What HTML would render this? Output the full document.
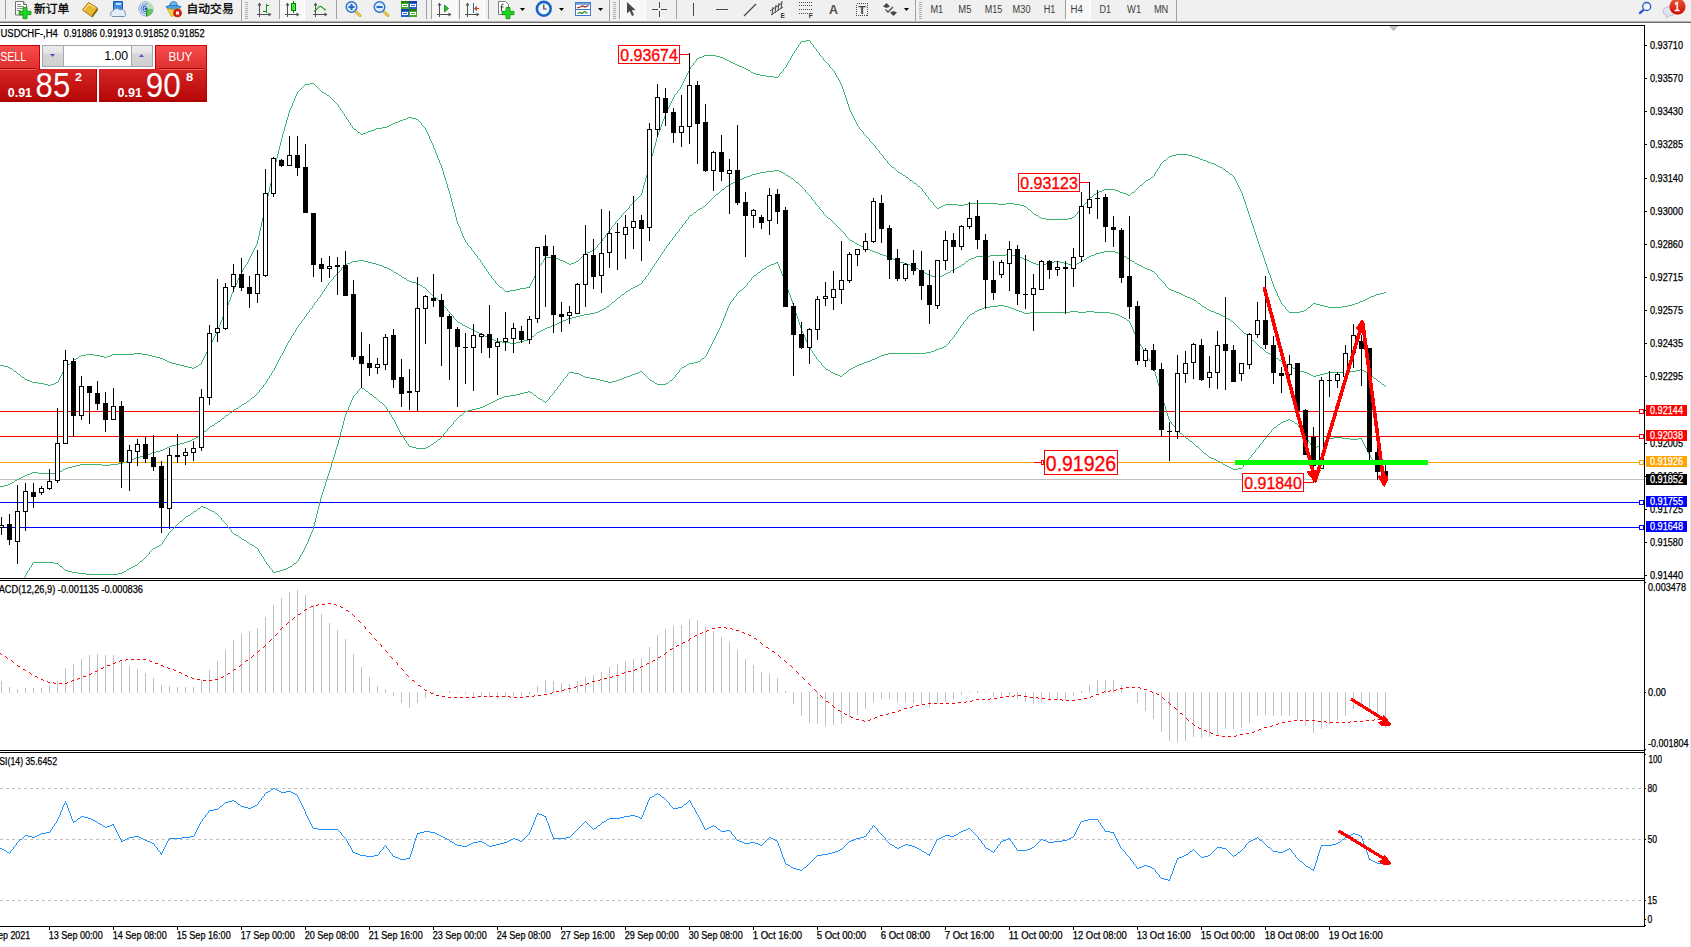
<!DOCTYPE html>
<html><head><meta charset="utf-8"><title>USDCHF H4</title>
<style>html,body{margin:0;padding:0;background:#fff;overflow:hidden}svg{display:block}</style></head><body>
<svg width="1691" height="947" viewBox="0 0 1691 947">
<defs>
<linearGradient id="gbtn" x1="0" y1="0" x2="0" y2="1"><stop offset="0" stop-color="#fa4e4e"/><stop offset="1" stop-color="#de2e2e"/></linearGradient>
<linearGradient id="gpan" x1="0" y1="0" x2="0" y2="1"><stop offset="0" stop-color="#d82626"/><stop offset="0.9" stop-color="#b80808"/><stop offset="1" stop-color="#a80000"/></linearGradient>
<linearGradient id="gspin" x1="0" y1="0" x2="0" y2="1"><stop offset="0" stop-color="#ececec"/><stop offset="0.35" stop-color="#e4e4e4"/><stop offset="0.4" stop-color="#d6d6d6"/><stop offset="1" stop-color="#d0d0d0"/></linearGradient>
<linearGradient id="gbadge" x1="0" y1="0" x2="0" y2="1"><stop offset="0" stop-color="#ea5838"/><stop offset="1" stop-color="#d00c00"/></linearGradient>
</defs>
<rect x="0" y="0" width="1691" height="947" fill="#fff"/>
<rect x="0" y="0" width="1691" height="21" fill="#f0f0f0"/>
<rect x="0" y="21" width="1691" height="1" fill="#b4b4b4"/>
<rect x="0" y="22" width="1691" height="1" fill="#6c6c6c"/>
<rect x="5" y="0" width="1" height="19" fill="#a0a0a0" shape-rendering="crispEdges"/>
<g>
<path d="M15.5,1.5 h8 l3,3 v10.5 h-11 z" fill="#fff" stroke="#707070" stroke-width="1"/>
<path d="M23.5,1.5 v3 h3" fill="#e0e0e0" stroke="#707070" stroke-width="1"/>
<g fill="#909090" shape-rendering="crispEdges"><rect x="17" y="4" width="4" height="1"/><rect x="17" y="6" width="7" height="1"/><rect x="17" y="8" width="7" height="1"/><rect x="17" y="10" width="4" height="1"/></g>
<path d="M23,7.5 h4 v3.8 h4 v3.4 h-4 v4 h-4 v-4 h-4 v-3.4 h4 z" fill="#22d422" stroke="#0c900c" stroke-width="0.8"/>
</g>
<text x="34" y="12.5" font-size="11.8" fill="#000" font-family="Liberation Sans, Noto Sans CJK SC, sans-serif" stroke="#000" stroke-width="0.3">新订单</text>
<path d="M82.5,10 L88.5,2.5 L97.5,8 L91.5,16.5 z" fill="#e8b830" stroke="#a87810" stroke-width="1"/>
<path d="M84,10.5 L89,4 L95,8" fill="none" stroke="#fff0a0" stroke-width="1"/>
<path d="M91.5,16.5 L97.5,8 L98,10 L92.5,17.5 z" fill="#8a5c08"/>
<path d="M113.5,1.5 h9 v9 h-9 z" fill="#3c8ce0" stroke="#1c5cb0" stroke-width="1"/>
<rect x="116" y="3" width="5" height="2" fill="#c8e4ff"/>
<path d="M112,16.5 a3,3 0 0 1 1,-5.5 a4,4 0 0 1 7,-1 a3.2,3.2 0 0 1 5,3 a2.2,2.2 0 0 1 -0.5,3.5 z" fill="#e4ecf8" stroke="#7890b8" stroke-width="1"/>
<circle cx="146" cy="8.8" r="7.6" fill="#e8f0f4"/>
<path d="M146,8.8 L146,16.4 A7.6,7.6 0 0 0 153.6,8.8 Z" fill="#6cc06c"/>
<path d="M146,1.2 A7.6,7.6 0 0 1 153.6,8.8 L146,8.8 Z" fill="#b8dcc0"/>
<g fill="none"><circle cx="146" cy="8.8" r="7.2" stroke="#8aa8e0" stroke-width="1" stroke-dasharray="23 23" stroke-dashoffset="-11"/><circle cx="146" cy="8.8" r="5" stroke="#5a84d4" stroke-width="1.1" stroke-dasharray="16 16" stroke-dashoffset="-8"/><circle cx="146" cy="8.8" r="2.9" stroke="#3a68c8" stroke-width="1.1" stroke-dasharray="9 9.2" stroke-dashoffset="-4.5"/></g>
<circle cx="146" cy="8.8" r="1.5" fill="#2050c0"/>
<rect x="146" y="9" width="1.3" height="7.4" fill="#18a018"/>
<path d="M166,6.5 q7,-3 15,0 q-1,3 -7.5,3.2 q-6.5,-0.2 -7.5,-3.2 z" fill="#4aa0e0" stroke="#2a70b8" stroke-width="0.8"/>
<path d="M169.5,5.5 q0.5,-4 4,-4 q3.5,0 4,4 z" fill="#6cb8f0" stroke="#2a70b8" stroke-width="0.8"/>
<path d="M167,8.5 q6,2 13,0 l-3.5,6 l-5,2 z" fill="#f4d040" stroke="#c8a020" stroke-width="0.8"/>
<circle cx="177.5" cy="13" r="4" fill="#e02010" stroke="#a01000" stroke-width="0.6"/>
<rect x="176" y="11.5" width="3" height="3" fill="#fff"/>
<text x="186.5" y="12.5" font-size="11.8" fill="#000" font-family="Liberation Sans, Noto Sans CJK SC, sans-serif" stroke="#000" stroke-width="0.3">自动交易</text>
<rect x="241" y="0" width="1" height="21" fill="#a0a0a0" shape-rendering="crispEdges"/>
<g shape-rendering="crispEdges">
<rect x="245" y="2" width="3" height="1" fill="#b0b0b0"/>
<rect x="245" y="4" width="3" height="1" fill="#b0b0b0"/>
<rect x="245" y="6" width="3" height="1" fill="#b0b0b0"/>
<rect x="245" y="8" width="3" height="1" fill="#b0b0b0"/>
<rect x="245" y="10" width="3" height="1" fill="#b0b0b0"/>
<rect x="245" y="12" width="3" height="1" fill="#b0b0b0"/>
<rect x="245" y="14" width="3" height="1" fill="#b0b0b0"/>
<rect x="245" y="16" width="3" height="1" fill="#b0b0b0"/>
<rect x="245" y="18" width="3" height="1" fill="#b0b0b0"/>
</g>
<g fill="#505050" shape-rendering="crispEdges">
<rect x="259" y="4" width="1" height="13" fill="#505050"/>
<rect x="257" y="14" width="13" height="1" fill="#505050"/>
</g>
<polygon points="259.5,2.5 257.5,5.5 261.5,5.5" fill="#505050"/>
<polygon points="271.5,14.5 268.5,12.5 268.5,16.5" fill="#505050"/>
<g shape-rendering="crispEdges" fill="#109010"><rect x="266" y="4" width="1" height="9"/><rect x="263" y="11" width="3" height="1"/><rect x="267" y="5" width="2" height="1"/></g>
<rect x="279" y="0" width="1" height="19" fill="#a0a0a0" shape-rendering="crispEdges"/>
<rect x="280" y="0" width="24" height="19" fill="#f8f8f8" shape-rendering="crispEdges"/>
<rect x="304" y="0" width="1" height="20" fill="#fff" shape-rendering="crispEdges"/>
<rect x="280" y="19" width="24" height="1" fill="#fff" shape-rendering="crispEdges"/>
<g fill="#505050" shape-rendering="crispEdges">
<rect x="287" y="4" width="1" height="13" fill="#505050"/>
<rect x="285" y="14" width="13" height="1" fill="#505050"/>
</g>
<polygon points="287.5,2.5 285.5,5.5 289.5,5.5" fill="#505050"/>
<polygon points="299.5,14.5 296.5,12.5 296.5,16.5" fill="#505050"/>
<rect x="293" y="1" width="1" height="12" fill="#008800" shape-rendering="crispEdges"/>
<rect x="291.5" y="3.5" width="4" height="7" fill="#48e048" stroke="#008800" stroke-width="1"/>
<g fill="#505050" shape-rendering="crispEdges">
<rect x="315" y="4" width="1" height="13" fill="#505050"/>
<rect x="313" y="14" width="13" height="1" fill="#505050"/>
</g>
<polygon points="315.5,2.5 313.5,5.5 317.5,5.5" fill="#505050"/>
<polygon points="327.5,14.5 324.5,12.5 324.5,16.5" fill="#505050"/>
<path d="M314,11.5 Q317,9 319,6.8 Q320.5,5.8 322,7.2 Q324,9.6 326,10" fill="none" stroke="#2a982a" stroke-width="1.2"/>
<rect x="336" y="0" width="1" height="19" fill="#a0a0a0" shape-rendering="crispEdges"/>
<line x1="354.5" y1="10.5" x2="360" y2="15.5" stroke="#c8a020" stroke-width="3" stroke-linecap="round"/>
<line x1="354.5" y1="10.5" x2="360" y2="15.5" stroke="#f0d860" stroke-width="1.2" stroke-linecap="round"/>
<circle cx="351.5" cy="7" r="5.3" fill="#d8ecfc" stroke="#3070c8" stroke-width="1.4"/>
<rect x="348.5" y="6" width="6" height="2" fill="#2868c0"/>
<rect x="350.5" y="4" width="2" height="6" fill="#2868c0"/>
<line x1="382.5" y1="10.5" x2="388" y2="15.5" stroke="#c8a020" stroke-width="3" stroke-linecap="round"/>
<line x1="382.5" y1="10.5" x2="388" y2="15.5" stroke="#f0d860" stroke-width="1.2" stroke-linecap="round"/>
<circle cx="379.5" cy="7" r="5.3" fill="#d8ecfc" stroke="#3070c8" stroke-width="1.4"/>
<rect x="376.5" y="6" width="6" height="2" fill="#2868c0"/>
<g shape-rendering="crispEdges">
<rect x="401" y="1" width="8" height="8" fill="#48a828"/>
<rect x="401" y="1" width="8" height="2" fill="#2a7a10"/>
<rect x="402" y="4" width="6" height="3" fill="#fff"/>
<rect x="402" y="7" width="6" height="1" fill="#48a828"/>
<rect x="403" y="5" width="4" height="1" fill="#48a828"/>
<rect x="409" y="1" width="8" height="8" fill="#2860d0"/>
<rect x="409" y="1" width="8" height="2" fill="#1840a0"/>
<rect x="410" y="4" width="6" height="3" fill="#fff"/>
<rect x="410" y="7" width="6" height="1" fill="#2860d0"/>
<rect x="411" y="5" width="4" height="1" fill="#2860d0"/>
<rect x="401" y="9" width="8" height="8" fill="#2860d0"/>
<rect x="401" y="9" width="8" height="2" fill="#1840a0"/>
<rect x="402" y="12" width="6" height="3" fill="#fff"/>
<rect x="402" y="15" width="6" height="1" fill="#2860d0"/>
<rect x="403" y="13" width="4" height="1" fill="#2860d0"/>
<rect x="409" y="9" width="8" height="8" fill="#48a828"/>
<rect x="409" y="9" width="8" height="2" fill="#2a7a10"/>
<rect x="410" y="12" width="6" height="3" fill="#fff"/>
<rect x="410" y="15" width="6" height="1" fill="#48a828"/>
<rect x="411" y="13" width="4" height="1" fill="#48a828"/>
</g>
<rect x="426" y="0" width="1" height="19" fill="#a0a0a0" shape-rendering="crispEdges"/>
<rect x="431" y="0" width="1" height="19" fill="#a0a0a0" shape-rendering="crispEdges"/>
<rect x="432" y="0" width="24" height="19" fill="#f8f8f8" shape-rendering="crispEdges"/>
<rect x="456" y="0" width="1" height="20" fill="#fff" shape-rendering="crispEdges"/>
<rect x="432" y="19" width="24" height="1" fill="#fff" shape-rendering="crispEdges"/>
<g fill="#505050" shape-rendering="crispEdges">
<rect x="439" y="4" width="1" height="13" fill="#505050"/>
<rect x="437" y="14" width="13" height="1" fill="#505050"/>
</g>
<polygon points="439.5,2.5 437.5,5.5 441.5,5.5" fill="#505050"/>
<polygon points="451.5,14.5 448.5,12.5 448.5,16.5" fill="#505050"/>
<polygon points="444.5,5 444.5,12 448.5,8.5" fill="#30c030" stroke="#108010" stroke-width="0.8"/>
<rect x="459" y="0" width="1" height="19" fill="#a0a0a0" shape-rendering="crispEdges"/>
<rect x="460" y="0" width="24" height="19" fill="#f8f8f8" shape-rendering="crispEdges"/>
<rect x="484" y="0" width="1" height="20" fill="#fff" shape-rendering="crispEdges"/>
<rect x="460" y="19" width="24" height="1" fill="#fff" shape-rendering="crispEdges"/>
<g fill="#505050" shape-rendering="crispEdges">
<rect x="467" y="4" width="1" height="13" fill="#505050"/>
<rect x="465" y="14" width="13" height="1" fill="#505050"/>
</g>
<polygon points="467.5,2.5 465.5,5.5 469.5,5.5" fill="#505050"/>
<polygon points="479.5,14.5 476.5,12.5 476.5,16.5" fill="#505050"/>
<rect x="473" y="3" width="1" height="10" fill="#2070a0" shape-rendering="crispEdges"/>
<path d="M479,8.5 h-4 M477,6.5 l-2.2,2 l2.2,2" fill="none" stroke="#d04010" stroke-width="1.2"/>
<rect x="488" y="0" width="1" height="19" fill="#a0a0a0" shape-rendering="crispEdges"/>
<path d="M498.5,1.5 h7 l3,3 v10 h-10 z" fill="#fff" stroke="#808080" stroke-width="1"/>
<path d="M503.5,4 q-2,0 -2,2 v5 M500.5,7 h3" fill="none" stroke="#404040" stroke-width="1"/>
<path d="M506,7.5 h4 v3.8 h4 v3.4 h-4 v4 h-4 v-4 h-4 v-3.4 h4 z" fill="#22d422" stroke="#0c900c" stroke-width="0.8"/>
<polygon points="520,8 525,8 522.5,11" fill="#000"/>
<circle cx="543.8" cy="8.8" r="6.9" fill="#f0f6fc" stroke="#1c64c8" stroke-width="2.6"/>
<path d="M543.8,4.5 v4.5 h3" fill="none" stroke="#404040" stroke-width="1.2"/>
<polygon points="559,8 564,8 561.5,11" fill="#000"/>
<rect x="575.5" y="2.5" width="15" height="13" fill="#fff" stroke="#3c78c8" stroke-width="1"/>
<rect x="576" y="3" width="14" height="2" fill="#7aa8e0" shape-rendering="crispEdges"/>
<rect x="576" y="9" width="14" height="1" fill="#3c78c8" shape-rendering="crispEdges"/>
<path d="M577,8 l3,-1 l2.5,-1 l2.5,1 l3.5,-1.5" fill="none" stroke="#a02010" stroke-width="1.3"/>
<path d="M577.5,13.5 l2.5,-1 l2,1 l2.5,-2 l3,2" fill="none" stroke="#209020" stroke-width="1.3"/>
<polygon points="598,8 603,8 600.5,11" fill="#000"/>
<rect x="609" y="0" width="1" height="21" fill="#a0a0a0" shape-rendering="crispEdges"/>
<g shape-rendering="crispEdges">
<rect x="613" y="2" width="3" height="1" fill="#b0b0b0"/>
<rect x="613" y="4" width="3" height="1" fill="#b0b0b0"/>
<rect x="613" y="6" width="3" height="1" fill="#b0b0b0"/>
<rect x="613" y="8" width="3" height="1" fill="#b0b0b0"/>
<rect x="613" y="10" width="3" height="1" fill="#b0b0b0"/>
<rect x="613" y="12" width="3" height="1" fill="#b0b0b0"/>
<rect x="613" y="14" width="3" height="1" fill="#b0b0b0"/>
<rect x="613" y="16" width="3" height="1" fill="#b0b0b0"/>
<rect x="613" y="18" width="3" height="1" fill="#b0b0b0"/>
</g>
<rect x="619" y="0" width="1" height="19" fill="#a0a0a0" shape-rendering="crispEdges"/>
<rect x="620" y="0" width="25" height="19" fill="#f8f8f8" shape-rendering="crispEdges"/>
<rect x="645" y="0" width="1" height="20" fill="#fff" shape-rendering="crispEdges"/>
<rect x="620" y="19" width="25" height="1" fill="#fff" shape-rendering="crispEdges"/>
<path d="M627,2 L627,13.5 L629.8,11 L632,16 L634,15 L631.8,10.2 L635.5,10 z" fill="#484848"/>
<g shape-rendering="crispEdges" fill="#484848"><rect x="659" y="2" width="1" height="6"/><rect x="659" y="11" width="1" height="6"/><rect x="652" y="9" width="6" height="1"/><rect x="661" y="9" width="6" height="1"/></g>
<rect x="676" y="0" width="1" height="19" fill="#a0a0a0" shape-rendering="crispEdges"/>
<rect x="693" y="3" width="1" height="13" fill="#484848" shape-rendering="crispEdges"/>
<rect x="716" y="9" width="12" height="1" fill="#484848" shape-rendering="crispEdges"/>
<line x1="744" y1="16" x2="756" y2="4" stroke="#484848" stroke-width="1.2"/>
<g stroke="#484848" stroke-width="1" fill="none"><line x1="770" y1="11" x2="782" y2="3"/><line x1="771" y1="15" x2="783" y2="7"/><line x1="773" y1="7" x2="772" y2="15"/><line x1="776" y1="5" x2="775" y2="13"/><line x1="779" y1="3" x2="778" y2="11"/><line x1="782" y1="1" x2="781" y2="9"/></g>
<text x="780.5" y="17.5" font-size="6.5" fill="#303030" font-family="Liberation Sans, sans-serif" font-weight="bold">E</text>
<g stroke="#484848" stroke-width="1" stroke-dasharray="1 1" shape-rendering="crispEdges"><line x1="799" y1="2.5" x2="812" y2="2.5"/><line x1="799" y1="5.5" x2="812" y2="5.5"/><line x1="799" y1="9.5" x2="812" y2="9.5"/><line x1="799" y1="13.5" x2="808" y2="13.5"/></g>
<text x="808.8" y="17.8" font-size="6.5" fill="#303030" font-family="Liberation Sans, sans-serif" font-weight="bold">F</text>
<text x="829" y="14" font-size="13" fill="#505050" font-family="Liberation Sans, sans-serif" textLength="9" lengthAdjust="spacingAndGlyphs" font-weight="bold">A</text>
<rect x="856.5" y="3.5" width="11" height="12" fill="none" stroke="#484848" stroke-width="1" stroke-dasharray="1 1" shape-rendering="crispEdges"/>
<text x="858.2" y="13.6" font-size="11" fill="#484848" font-family="Liberation Sans, sans-serif" textLength="7.6" lengthAdjust="spacingAndGlyphs" font-weight="bold">T</text>
<polygon points="886.5,3 890,6.5 886.5,8 883,6.5" fill="#484848"/>
<polygon points="893.5,16 897,12.5 893.5,11 890,12.5" fill="#484848"/>
<path d="M885.5,9.5 l2.5,2.5 l5,-5" fill="none" stroke="#484848" stroke-width="1.3"/>
<polygon points="904,8 909,8 906.5,11" fill="#000"/>
<rect x="915" y="0" width="1" height="21" fill="#a0a0a0" shape-rendering="crispEdges"/>
<g shape-rendering="crispEdges">
<rect x="919" y="2" width="3" height="1" fill="#b0b0b0"/>
<rect x="919" y="4" width="3" height="1" fill="#b0b0b0"/>
<rect x="919" y="6" width="3" height="1" fill="#b0b0b0"/>
<rect x="919" y="8" width="3" height="1" fill="#b0b0b0"/>
<rect x="919" y="10" width="3" height="1" fill="#b0b0b0"/>
<rect x="919" y="12" width="3" height="1" fill="#b0b0b0"/>
<rect x="919" y="14" width="3" height="1" fill="#b0b0b0"/>
<rect x="919" y="16" width="3" height="1" fill="#b0b0b0"/>
<rect x="919" y="18" width="3" height="1" fill="#b0b0b0"/>
</g>
<rect x="1065" y="0" width="1" height="19" fill="#a0a0a0" shape-rendering="crispEdges"/>
<rect x="1066" y="0" width="24" height="19" fill="#f8f8f8" shape-rendering="crispEdges"/>
<rect x="1090" y="0" width="1" height="20" fill="#fff" shape-rendering="crispEdges"/>
<rect x="1066" y="19" width="24" height="1" fill="#fff" shape-rendering="crispEdges"/>
<text x="930.4" y="13" font-size="10" fill="#3c3c3c" font-family="Liberation Sans, sans-serif" textLength="12.8" lengthAdjust="spacingAndGlyphs">M1</text>
<text x="958.3" y="13" font-size="10" fill="#3c3c3c" font-family="Liberation Sans, sans-serif" textLength="13.1" lengthAdjust="spacingAndGlyphs">M5</text>
<text x="984.7" y="13" font-size="10" fill="#3c3c3c" font-family="Liberation Sans, sans-serif" textLength="17.5" lengthAdjust="spacingAndGlyphs">M15</text>
<text x="1012.6" y="13" font-size="10" fill="#3c3c3c" font-family="Liberation Sans, sans-serif" textLength="17.9" lengthAdjust="spacingAndGlyphs">M30</text>
<text x="1043.7" y="13" font-size="10" fill="#3c3c3c" font-family="Liberation Sans, sans-serif" textLength="11.7" lengthAdjust="spacingAndGlyphs">H1</text>
<text x="1070.6" y="13" font-size="10" fill="#3c3c3c" font-family="Liberation Sans, sans-serif" textLength="12.3" lengthAdjust="spacingAndGlyphs">H4</text>
<text x="1099.6" y="13" font-size="10" fill="#3c3c3c" font-family="Liberation Sans, sans-serif" textLength="11.5" lengthAdjust="spacingAndGlyphs">D1</text>
<text x="1127.1" y="13" font-size="10" fill="#3c3c3c" font-family="Liberation Sans, sans-serif" textLength="14" lengthAdjust="spacingAndGlyphs">W1</text>
<text x="1153.9" y="13" font-size="10" fill="#3c3c3c" font-family="Liberation Sans, sans-serif" textLength="14.4" lengthAdjust="spacingAndGlyphs">MN</text>
<rect x="1176" y="0" width="1" height="21" fill="#a0a0a0" shape-rendering="crispEdges"/>
<circle cx="1646.7" cy="6.5" r="4" fill="#f4f6ff" stroke="#2858c8" stroke-width="1.3"/>
<line x1="1643.6" y1="9.8" x2="1639.2" y2="13.6" stroke="#2858c8" stroke-width="2.2"/>
<path d="M1663,11.3 a6.2,4.6 0 1 1 6,4.6 l-2.6,2.2 l0.4,-2.6 a6,4.6 0 0 1 -3.8,-4.2 z" fill="#e0e4f0" stroke="#b0b4c0" stroke-width="0.8"/>
<circle cx="1677.5" cy="6.6" r="8.1" fill="url(#gbadge)"/>
<text x="1674.3" y="11.3" font-size="12.5" fill="#fff" font-family="Liberation Sans, sans-serif" textLength="5.6" lengthAdjust="spacingAndGlyphs" stroke="#fff" stroke-width="0.5">1</text>
<g shape-rendering="crispEdges">
<rect x="0" y="69" width="97" height="33" fill="url(#gpan)"/>
<rect x="99" y="69" width="108" height="33" fill="url(#gpan)"/>
<rect x="96" y="69" width="1" height="33" fill="#b00000"/>
<rect x="206" y="69" width="1" height="33" fill="#b00000"/>
<rect x="0" y="45" width="40" height="24" fill="url(#gbtn)"/>
<rect x="0" y="45" width="40" height="1" fill="#c40000"/>
<rect x="39" y="45" width="1" height="25" fill="#c40000"/>
<rect x="0" y="68" width="36" height="1" fill="#b00000"/>
<rect x="0" y="69" width="36" height="1" fill="#ee5c5c"/>
<rect x="155" y="45" width="52" height="24" fill="url(#gbtn)"/>
<rect x="155" y="45" width="52" height="1" fill="#c40000"/>
<rect x="155" y="45" width="1" height="25" fill="#c40000"/>
<rect x="206" y="45" width="1" height="25" fill="#c40000"/>
<rect x="159" y="68" width="44" height="1" fill="#b00000"/>
<rect x="159" y="69" width="44" height="1" fill="#ee5c5c"/>
<rect x="42" y="45" width="111" height="22" fill="#a4a8b4"/>
<rect x="43" y="46" width="109" height="20" fill="#fff"/>
<rect x="43" y="46" width="20" height="20" fill="url(#gspin)"/>
<rect x="63" y="46" width="1" height="20" fill="#a4a8b4"/>
<rect x="132" y="46" width="20" height="20" fill="url(#gspin)"/>
<rect x="131" y="46" width="1" height="20" fill="#a4a8b4"/>
</g>
<polygon points="50,54 55,54 52.5,57" fill="#4858c8"/>
<polygon points="139,57 144,57 141.5,54" fill="#4858c8"/>
<polygon points="12.6,48.2 13.9,49.5 12.6,50.8 11.3,49.5" fill="none" stroke="#20a0a0" stroke-width="0.6"/>
<text x="0.2" y="60.6" font-size="12.2" fill="#fff" font-family="Liberation Sans, sans-serif" textLength="26" lengthAdjust="spacingAndGlyphs">SELL</text>
<text x="168.4" y="60.9" font-size="12.2" fill="#fff" font-family="Liberation Sans, sans-serif" textLength="24" lengthAdjust="spacingAndGlyphs">BUY</text>
<text x="104.2" y="60.2" font-size="12.4" fill="#000" font-family="Liberation Sans, sans-serif" textLength="24" lengthAdjust="spacingAndGlyphs">1.00</text>
<text x="7.8" y="97" font-size="12.6" fill="#fff" font-family="Liberation Sans, sans-serif" textLength="24.2" lengthAdjust="spacingAndGlyphs" font-weight="bold">0.91</text>
<text x="35.6" y="97" font-size="34.5" fill="#fff" font-family="Liberation Sans, sans-serif" textLength="34.6" lengthAdjust="spacingAndGlyphs">85</text>
<text x="74.9" y="80.8" font-size="11.4" fill="#fff" font-family="Liberation Sans, sans-serif" textLength="7" lengthAdjust="spacingAndGlyphs" font-weight="bold">2</text>
<text x="117.6" y="97.1" font-size="12.6" fill="#fff" font-family="Liberation Sans, sans-serif" textLength="24.5" lengthAdjust="spacingAndGlyphs" font-weight="bold">0.91</text>
<text x="145.8" y="97.1" font-size="34.5" fill="#fff" font-family="Liberation Sans, sans-serif" textLength="35" lengthAdjust="spacingAndGlyphs">90</text>
<text x="185.9" y="80.8" font-size="11.4" fill="#fff" font-family="Liberation Sans, sans-serif" textLength="7.2" lengthAdjust="spacingAndGlyphs" font-weight="bold">8</text>
<g shape-rendering="crispEdges">
<rect x="0" y="25" width="1645" height="1" fill="#000"/>
<rect x="1644" y="25" width="1" height="902" fill="#000"/>
<rect x="0" y="578" width="1645" height="1" fill="#000"/>
<rect x="0" y="580" width="1645" height="1" fill="#000"/>
<rect x="0" y="750" width="1645" height="1" fill="#000"/>
<rect x="0" y="752" width="1645" height="1" fill="#000"/>
<rect x="0" y="926" width="1645" height="1" fill="#000"/>
<rect x="1690" y="23" width="1" height="924" fill="#e4e4e4"/>
</g>
<polygon points="1388.8,26 1398.2,26 1393.5,31.2" fill="#c0c0c0"/>
<g shape-rendering="crispEdges">
<rect x="0" y="411" width="1644" height="1" fill="#ff0000"/>
<rect x="0" y="436" width="1644" height="1" fill="#ff0000"/>
<rect x="0" y="462" width="1644" height="1" fill="#ffa500"/>
<rect x="0" y="479" width="1644" height="1" fill="#c0c0c0"/>
<rect x="0" y="502" width="1644" height="1" fill="#0000ff"/>
<rect x="0" y="527" width="1644" height="1" fill="#0000ff"/>
</g>
<path fill="#3cb371" shape-rendering="crispEdges" d="M1172 155h4v1h-4zM1188 155h4v1h-4zM368 131h3v1h-3zM1304 310h2v1h-2zM86 354h8v1h-8zM112 354h22v1h-22zM142 354h6v1h-6zM968 203h30v1h-30zM1006 203h8v1h-8zM376 128h6v1h-6zM1214 164h2v1h-2zM354 129h2v1h-2zM374 129h2v1h-2zM545 257h10v1h-10zM1223 169h2v1h-2zM1206 161h2v1h-2zM945 204h13v1h-13zM964 204h4v1h-4zM998 204h8v1h-8zM1014 204h6v1h-6zM1308 307h2v1h-2zM1328 307h14v1h-14zM1367 298h2v1h-2zM801 41h5v1h-5zM1104 189h11v1h-11zM382 127h5v1h-5zM910 180h2v1h-2zM1146 180h2v1h-2zM1176 154h12v1h-12zM1128 195h2v1h-2zM1218 166h2v1h-2zM510 290h6v1h-6zM403 119h3v1h-3zM416 119h2v1h-2zM565 262h2v1h-2zM574 262h2v1h-2zM702 56h2v1h-2zM716 56h4v1h-4zM387 126h2v1h-2zM1097 192h2v1h-2zM1120 192h3v1h-3zM1132 192h2v1h-2zM585 253h2v1h-2zM760 75h6v1h-6zM1371 296h3v1h-3zM8 367h2v1h-2zM188 367h4v1h-4zM194 367h2v1h-2zM943 205h2v1h-2zM958 205h6v1h-6zM1020 205h4v1h-4zM733 63h2v1h-2zM68 364h2v1h-2zM176 364h4v1h-4zM199 364h2v1h-2zM699 57h3v1h-3zM720 57h3v1h-3zM322 92h2v1h-2zM1036 215h2v1h-2zM592 250h2v1h-2zM766 76h8v1h-8zM310 83h4v1h-4zM906 177h2v1h-2zM1151 177h2v1h-2zM371 130h3v1h-3zM587 252h3v1h-3zM903 175h2v1h-2zM81 355h5v1h-5zM94 355h6v1h-6zM110 355h2v1h-2zM148 355h4v1h-4zM1324 306h4v1h-4zM1342 306h6v1h-6zM704 55h12v1h-12zM1041 218h5v1h-5zM1068 218h4v1h-4zM10 368h2v1h-2zM192 368h2v1h-2zM408 117h4v1h-4zM737 65h2v1h-2zM389 125h2v1h-2zM744 68h2v1h-2zM358 132h2v1h-2zM366 132h2v1h-2zM898 172h2v1h-2zM1140 185h2v1h-2zM560 260h3v1h-3zM729 61h2v1h-2zM567 263h2v1h-2zM571 263h3v1h-3zM900 173h2v1h-2zM939 207h2v1h-2zM169 362h3v1h-3zM1376 294h4v1h-4zM1226 171h2v1h-2zM1216 165h2v1h-2zM1099 191h3v1h-3zM1118 191h2v1h-2zM1380 293h4v1h-4zM14 371h2v1h-2zM1384 292h2v1h-2zM1211 163h3v1h-3zM1208 162h3v1h-3zM1164 160h2v1h-2zM1203 160h3v1h-3zM756 74h4v1h-4zM914 183h2v1h-2zM172 363h4v1h-4zM569 264h2v1h-2zM563 261h2v1h-2zM576 261h2v1h-2zM941 206h2v1h-2zM1024 206h2v1h-2zM393 123h2v1h-2zM1123 193h3v1h-3zM555 258h3v1h-3zM327 95h2v1h-2zM1169 156h3v1h-3zM1192 156h3v1h-3zM1094 194h2v1h-2zM1126 194h2v1h-2zM1046 219h22v1h-22zM742 67h2v1h-2zM363 133h3v1h-3zM361 134h2v1h-2zM1230 174h2v1h-2zM406 118h2v1h-2zM412 118h4v1h-4zM500 287h2v1h-2zM526 287h4v1h-4zM1034 214h2v1h-2zM731 62h2v1h-2zM937 208h2v1h-2zM134 353h8v1h-8zM76 358h2v1h-2zM160 358h3v1h-3zM1090 197h2v1h-2zM1313 303h3v1h-3zM1355 303h3v1h-3zM400 120h3v1h-3zM748 70h2v1h-2zM324 93h2v1h-2zM165 360h2v1h-2zM4 366h4v1h-4zM184 366h4v1h-4zM196 366h2v1h-2zM774 77h4v1h-4zM1039 217h2v1h-2zM1072 217h2v1h-2zM391 124h2v1h-2zM1320 305h4v1h-4zM1348 305h4v1h-4zM1289 312h11v1h-11zM74 359h2v1h-2zM163 359h2v1h-2zM697 58h2v1h-2zM723 58h2v1h-2zM167 361h2v1h-2zM892 167h2v1h-2zM1220 167h2v1h-2zM1300 311h4v1h-4zM558 259h2v1h-2zM1102 190h2v1h-2zM1115 190h3v1h-3zM25 379h2v1h-2zM735 64h2v1h-2zM516 289h4v1h-4zM38 383h6v1h-6zM54 383h2v1h-2zM505 291h5v1h-5zM32 382h6v1h-6zM56 382h2v1h-2zM1198 158h2v1h-2zM1374 295h2v1h-2zM395 122h3v1h-3zM520 288h6v1h-6zM398 121h2v1h-2zM104 357h3v1h-3zM156 357h4v1h-4zM1195 157h3v1h-3zM918 186h2v1h-2zM746 69h2v1h-2zM727 60h2v1h-2zM30 381h2v1h-2zM725 59h2v1h-2zM1028 209h2v1h-2zM1358 302h2v1h-2zM1316 304h4v1h-4zM1352 304h3v1h-3zM48 385h3v1h-3zM806 40h4v1h-4zM18 374h2v1h-2zM305 84h5v1h-5zM1365 299h2v1h-2zM1360 301h3v1h-3zM79 356h2v1h-2zM100 356h4v1h-4zM107 356h3v1h-3zM152 356h4v1h-4zM1148 179h2v1h-2zM1200 159h3v1h-3zM22 377h2v1h-2zM753 73h3v1h-3zM590 251h2v1h-2zM44 384h4v1h-4zM51 384h3v1h-3zM739 66h3v1h-3zM27 380h3v1h-3zM1363 300h2v1h-2zM0 365h4v1h-4zM180 365h4v1h-4zM1369 297h2v1h-2zM751 72h2v1h-2zM335 102h1v1h-1zM694 62h1v1h-1zM478 258h1v1h-1zM881 154h1v1h-1zM1262 252h1v3h-1zM440 163h1v2h-1zM1027 208h1v1h-1zM450 194h1v4h-1zM422 125h1v1h-1zM673 97h1v2h-1zM223 315h1v2h-1zM862 131h1v1h-1zM1255 232h1v3h-1zM689 69h1v2h-1zM263 213h1v5h-1zM479 259h1v1h-1zM273 170h1v5h-1zM617 220h1v1h-1zM1248 211h1v3h-1zM784 68h1v1h-1zM1276 291h1v2h-1zM239 276h1v2h-1zM426 130h1v2h-1zM863 132h1v2h-1zM1237 183h1v2h-1zM267 196h1v4h-1zM493 279h1v1h-1zM819 53h1v2h-1zM666 111h1v2h-1zM353 128h1v1h-1zM644 182h1v3h-1zM1258 241h1v3h-1zM436 153h1v2h-1zM869 139h1v2h-1zM290 108h1v2h-1zM1222 168h1v1h-1zM281 138h1v4h-1zM61 374h1v2h-1zM444 175h1v3h-1zM928 197h1v2h-1zM1251 220h1v3h-1zM210 344h1v2h-1zM272 175h1v4h-1zM581 257h1v1h-1zM648 167h1v4h-1zM222 317h1v3h-1zM457 221h1v3h-1zM231 294h1v3h-1zM830 67h1v1h-1zM1244 199h1v3h-1zM1272 281h1v3h-1zM841 84h1v2h-1zM259 231h1v5h-1zM531 282h1v2h-1zM320 90h1v1h-1zM65 367h1v1h-1zM653 149h1v4h-1zM665 113h1v3h-1zM597 245h1v2h-1zM847 101h1v3h-1zM276 158h1v4h-1zM214 336h1v2h-1zM289 110h1v3h-1zM464 238h1v2h-1zM321 91h1v1h-1zM632 203h1v1h-1zM254 248h1v2h-1zM428 134h1v2h-1zM1268 270h1v3h-1zM482 263h1v2h-1zM234 287h1v2h-1zM264 209h1v4h-1zM198 365h1v1h-1zM797 47h1v1h-1zM284 127h1v4h-1zM800 42h1v2h-1zM421 123h1v2h-1zM258 236h1v4h-1zM429 136h1v3h-1zM1153 176h1v1h-1zM1138 187h1v1h-1zM288 113h1v4h-1zM247 262h1v2h-1zM297 92h1v2h-1zM12 369h1v1h-1zM486 269h1v2h-1zM300 89h1v1h-1zM851 112h1v2h-1zM205 354h1v2h-1zM217 329h1v3h-1zM891 166h1v1h-1zM823 58h1v2h-1zM605 235h1v2h-1zM608 231h1v2h-1zM1142 184h1v1h-1zM543 260h1v2h-1zM443 171h1v4h-1zM352 126h1v2h-1zM1080 209h1v1h-1zM656 138h1v4h-1zM435 150h1v3h-1zM535 274h1v2h-1zM1157 169h1v2h-1zM280 142h1v4h-1zM672 99h1v2h-1zM848 104h1v3h-1zM635 200h1v1h-1zM829 65h1v2h-1zM600 242h1v1h-1zM603 238h1v1h-1zM1233 176h1v1h-1zM1271 278h1v3h-1zM60 376h1v2h-1zM1075 215h1v1h-1zM201 362h1v2h-1zM467 243h1v2h-1zM1264 258h1v3h-1zM271 179h1v4h-1zM442 168h1v3h-1zM791 56h1v2h-1zM873 144h1v1h-1zM262 218h1v4h-1zM661 124h1v3h-1zM811 43h1v1h-1zM652 153h1v3h-1zM783 69h1v2h-1zM1088 199h1v1h-1zM883 156h1v2h-1zM1254 229h1v3h-1zM471 248h1v2h-1zM241 272h1v2h-1zM1278 296h1v2h-1zM279 146h1v4h-1zM1286 309h1v1h-1zM668 107h1v2h-1zM481 262h1v1h-1zM1247 208h1v3h-1zM884 158h1v1h-1zM1275 289h1v2h-1zM1092 196h1v1h-1zM1038 216h1v1h-1zM425 128h1v2h-1zM230 297h1v3h-1zM292 103h1v3h-1zM1240 189h1v2h-1zM611 227h1v2h-1zM1083 205h1v2h-1zM821 56h1v1h-1zM890 165h1v1h-1zM787 63h1v2h-1zM627 209h1v1h-1zM338 105h1v2h-1zM850 110h1v2h-1zM449 191h1v3h-1zM1236 181h1v2h-1zM651 156h1v4h-1zM822 57h1v1h-1zM496 283h1v1h-1zM530 284h1v2h-1zM843 89h1v3h-1zM624 212h1v1h-1zM456 217h1v4h-1zM64 368h1v2h-1zM212 340h1v2h-1zM872 143h1v1h-1zM275 162h1v4h-1zM1136 189h1v1h-1zM452 202h1v4h-1zM688 71h1v2h-1zM905 176h1v1h-1zM253 250h1v2h-1zM932 202h1v1h-1zM836 75h1v2h-1zM619 218h1v1h-1zM643 185h1v4h-1zM840 82h1v2h-1zM1160 164h1v2h-1zM1250 217h1v3h-1zM810 41h1v2h-1zM463 236h1v2h-1zM209 346h1v2h-1zM446 181h1v3h-1zM647 171h1v4h-1zM681 85h1v2h-1zM1243 196h1v3h-1zM270 183h1v4h-1zM221 320h1v2h-1zM296 94h1v2h-1zM439 160h1v3h-1zM639 196h1v1h-1zM920 187h1v1h-1zM864 134h1v1h-1zM664 116h1v3h-1zM460 228h1v3h-1zM424 127h1v1h-1zM844 92h1v3h-1zM1156 171h1v1h-1zM1239 187h1v2h-1zM865 135h1v1h-1zM1267 267h1v3h-1zM314 84h1v1h-1zM655 142h1v4h-1zM646 175h1v3h-1zM485 268h1v1h-1zM220 322h1v3h-1zM266 200h1v4h-1zM1232 175h1v1h-1zM580 258h1v1h-1zM304 85h1v1h-1zM315 85h1v1h-1zM930 200h1v1h-1zM495 281h1v2h-1zM233 289h1v3h-1zM536 272h1v2h-1zM696 59h1v2h-1zM931 201h1v1h-1zM274 166h1v4h-1zM1087 200h1v2h-1zM213 338h1v2h-1zM469 246h1v1h-1zM287 117h1v3h-1zM832 69h1v1h-1zM330 97h1v1h-1zM667 109h1v2h-1zM261 222h1v5h-1zM1307 308h1v1h-1zM204 356h1v2h-1zM229 300h1v2h-1zM622 214h1v1h-1zM238 278h1v2h-1zM642 189h1v4h-1zM462 233h1v3h-1zM265 204h1v5h-1zM470 247h1v1h-1zM691 66h1v1h-1zM1277 293h1v3h-1zM1285 307h1v2h-1zM897 171h1v1h-1zM916 184h1v1h-1zM502 288h1v1h-1zM455 213h1v4h-1zM846 98h1v3h-1zM786 65h1v2h-1zM534 276h1v2h-1zM232 292h1v2h-1zM857 124h1v2h-1zM484 266h1v2h-1zM427 132h1v2h-1zM503 289h1v1h-1zM671 101h1v2h-1zM887 161h1v2h-1zM337 104h1v1h-1zM283 131h1v3h-1zM480 260h1v2h-1zM488 272h1v2h-1zM340 108h1v2h-1zM257 240h1v4h-1zM1235 179h1v2h-1zM1274 287h1v2h-1zM237 280h1v3h-1zM1238 185h1v2h-1zM687 73h1v2h-1zM790 58h1v2h-1zM824 60h1v1h-1zM67 365h1v1h-1zM1246 205h1v3h-1zM341 110h1v1h-1zM434 148h1v2h-1zM1259 244h1v3h-1zM59 378h1v2h-1zM17 373h1v1h-1zM825 61h1v1h-1zM634 201h1v1h-1zM71 362h1v1h-1zM208 348h1v2h-1zM1252 223h1v3h-1zM326 94h1v1h-1zM599 243h1v1h-1zM269 187h1v5h-1zM875 146h1v2h-1zM295 96h1v2h-1zM1270 275h1v3h-1zM831 68h1v1h-1zM839 80h1v2h-1zM1245 202h1v3h-1zM282 134h1v4h-1zM256 244h1v2h-1zM1311 305h1v1h-1zM686 75h1v2h-1zM629 206h1v2h-1zM663 119h1v2h-1zM594 249h1v1h-1zM675 94h1v1h-1zM1263 255h1v3h-1zM813 45h1v2h-1zM441 165h1v3h-1zM461 231h1v2h-1zM1155 172h1v2h-1zM794 51h1v2h-1zM1144 182h1v1h-1zM299 90h1v1h-1zM845 95h1v3h-1zM1082 207h1v1h-1zM454 209h1v4h-1zM1228 172h1v1h-1zM654 146h1v3h-1zM607 233h1v1h-1zM228 302h1v3h-1zM483 265h1v1h-1zM473 251h1v1h-1zM1266 264h1v3h-1zM278 150h1v4h-1zM252 252h1v2h-1zM1288 311h1v1h-1zM63 370h1v2h-1zM602 239h1v2h-1zM886 160h1v1h-1zM682 83h1v2h-1zM344 114h1v2h-1zM1159 166h1v2h-1zM1077 212h1v2h-1zM1162 162h1v1h-1zM645 178h1v4h-1zM487 271h1v1h-1zM1234 177h1v2h-1zM849 107h1v3h-1zM448 188h1v3h-1zM1074 216h1v1h-1zM923 191h1v1h-1zM260 227h1v4h-1zM203 358h1v2h-1zM433 145h1v3h-1zM650 160h1v4h-1zM842 86h1v3h-1zM641 193h1v2h-1zM933 203h1v2h-1zM451 198h1v4h-1zM227 305h1v3h-1zM912 181h1v1h-1zM498 285h1v1h-1zM277 154h1v4h-1zM874 145h1v1h-1zM835 73h1v2h-1zM782 71h1v1h-1zM533 278h1v2h-1zM934 205h1v1h-1zM447 184h1v4h-1zM678 90h1v1h-1zM838 78h1v2h-1zM243 268h1v2h-1zM670 103h1v2h-1zM1085 203h1v1h-1zM1287 310h1v1h-1zM219 325h1v2h-1zM294 98h1v3h-1zM659 130h1v2h-1zM582 256h1v1h-1zM1242 193h1v3h-1zM812 44h1v1h-1zM649 164h1v3h-1zM236 283h1v2h-1zM626 210h1v1h-1zM286 120h1v4h-1zM922 189h1v2h-1zM662 121h1v3h-1zM339 107h1v1h-1zM1131 193h1v1h-1zM13 370h1v1h-1zM885 159h1v1h-1zM529 286h1v1h-1zM1273 284h1v3h-1zM866 136h1v1h-1zM1166 159h1v1h-1zM1135 190h1v1h-1zM491 276h1v2h-1zM621 215h1v2h-1zM690 67h1v2h-1zM658 132h1v3h-1zM867 137h1v1h-1zM497 284h1v1h-1zM268 192h1v4h-1zM674 95h1v2h-1zM793 53h1v1h-1zM251 254h1v2h-1zM331 98h1v1h-1zM834 71h1v2h-1zM472 250h1v1h-1zM332 99h1v1h-1zM1269 273h1v2h-1zM856 122h1v2h-1zM1158 168h1v1h-1zM539 266h1v2h-1zM816 49h1v2h-1zM613 225h1v1h-1zM1096 193h1v1h-1zM859 127h1v2h-1zM207 350h1v2h-1zM73 360h1v1h-1zM789 60h1v1h-1zM437 155h1v3h-1zM921 188h1v1h-1zM1150 178h1v1h-1zM66 366h1v1h-1zM1265 261h1v3h-1zM458 224h1v2h-1zM285 124h1v3h-1zM24 378h1v1h-1zM490 275h1v1h-1zM343 113h1v1h-1zM1154 174h1v2h-1zM693 63h1v2h-1zM796 48h1v2h-1zM1306 309h1v1h-1zM255 246h1v2h-1zM785 67h1v1h-1zM218 327h1v2h-1zM837 77h1v1h-1zM293 101h1v2h-1zM1310 306h1v1h-1zM657 135h1v3h-1zM317 87h1v1h-1zM62 372h1v2h-1zM833 70h1v1h-1zM1280 300h1v2h-1zM616 221h1v1h-1zM780 73h1v1h-1zM636 199h1v1h-1zM360 133h1v1h-1zM202 360h1v2h-1zM1229 173h1v1h-1zM855 120h1v2h-1zM342 111h1v2h-1zM815 48h1v1h-1zM453 206h1v3h-1zM660 127h1v3h-1zM504 290h1v1h-1zM601 241h1v1h-1zM475 254h1v1h-1zM925 193h1v2h-1zM58 380h1v2h-1zM888 163h1v1h-1zM346 117h1v2h-1zM669 105h1v2h-1zM316 86h1v1h-1zM902 174h1v1h-1zM685 77h1v2h-1zM250 256h1v2h-1zM596 247h1v1h-1zM1257 238h1v3h-1zM677 91h1v2h-1zM235 285h1v2h-1zM870 141h1v1h-1zM628 208h1v1h-1zM826 62h1v1h-1zM432 143h1v2h-1zM301 88h1v1h-1zM876 148h1v1h-1zM1081 208h1v1h-1zM1084 204h1v1h-1zM206 352h1v2h-1zM788 61h1v2h-1zM474 252h1v2h-1zM877 149h1v1h-1zM917 185h1v1h-1zM1137 188h1v1h-1zM418 120h1v1h-1zM246 264h1v1h-1zM1279 298h1v2h-1zM858 126h1v1h-1zM1261 250h1v2h-1zM814 47h1v1h-1zM604 237h1v1h-1zM542 262h1v1h-1zM1076 214h1v1h-1zM1079 210h1v1h-1zM1130 194h1v1h-1zM854 118h1v2h-1zM489 274h1v1h-1zM226 308h1v2h-1zM792 54h1v2h-1zM620 217h1v1h-1zM640 195h1v1h-1zM924 192h1v1h-1zM1030 210h1v1h-1zM680 87h1v2h-1zM242 270h1v2h-1zM345 116h1v1h-1zM1031 211h1v1h-1zM538 268h1v2h-1zM799 44h1v1h-1zM615 222h1v2h-1zM779 74h1v2h-1zM584 254h1v1h-1zM356 130h1v1h-1zM225 310h1v3h-1zM431 141h1v2h-1zM1225 170h1v1h-1zM499 286h1v1h-1zM935 206h1v1h-1zM445 178h1v3h-1zM1168 157h1v1h-1zM1260 247h1v3h-1zM438 158h1v2h-1zM1253 226h1v3h-1zM684 79h1v2h-1zM623 213h1v1h-1zM1161 163h1v1h-1zM459 226h1v2h-1zM1312 304h1v1h-1zM348 120h1v2h-1zM349 122h1v1h-1zM795 50h1v1h-1zM492 278h1v1h-1zM913 182h1v1h-1zM631 204h1v1h-1zM537 270h1v2h-1zM1281 302h1v2h-1zM612 226h1v1h-1zM879 151h1v2h-1zM72 361h1v1h-1zM319 89h1v1h-1zM1282 304h1v1h-1zM477 256h1v2h-1zM880 153h1v1h-1zM610 229h1v1h-1zM1026 207h1v1h-1zM249 258h1v2h-1zM333 100h1v1h-1zM853 116h1v2h-1zM861 130h1v1h-1zM817 51h1v1h-1zM303 86h1v1h-1zM334 101h1v1h-1zM692 65h1v1h-1zM1145 181h1v1h-1zM818 52h1v1h-1zM909 179h1v1h-1zM868 138h1v1h-1zM224 313h1v2h-1zM245 265h1v2h-1zM618 219h1v1h-1zM638 197h1v1h-1zM541 263h1v2h-1zM1256 235h1v3h-1zM216 332h1v2h-1zM894 168h1v1h-1zM291 106h1v2h-1zM1249 214h1v3h-1zM828 64h1v1h-1zM430 139h1v2h-1zM878 150h1v1h-1zM466 242h1v1h-1zM419 121h1v1h-1zM579 259h1v1h-1zM860 129h1v1h-1zM908 178h1v1h-1zM420 122h1v1h-1zM695 61h1v1h-1zM532 280h1v2h-1zM595 248h1v1h-1zM70 363h1v1h-1zM676 93h1v1h-1zM679 89h1v1h-1zM926 195h1v1h-1zM798 45h1v2h-1zM927 196h1v1h-1zM1139 186h1v1h-1zM465 240h1v2h-1zM211 342h1v2h-1zM318 88h1v1h-1zM683 81h1v2h-1zM871 142h1v1h-1zM1033 213h1v1h-1zM1143 183h1v1h-1zM248 260h1v2h-1zM298 91h1v1h-1zM1163 161h1v1h-1zM544 258h1v2h-1zM1167 158h1v1h-1zM1241 191h1v2h-1zM633 202h1v1h-1zM598 244h1v1h-1zM476 255h1v1h-1zM21 376h1v1h-1zM852 114h1v2h-1zM889 164h1v1h-1zM820 55h1v1h-1zM347 119h1v1h-1zM1086 202h1v1h-1zM1089 198h1v1h-1zM350 123h1v2h-1zM778 76h1v1h-1zM583 255h1v1h-1zM423 126h1v1h-1zM215 334h1v2h-1zM78 357h1v1h-1zM630 205h1v1h-1zM351 125h1v1h-1zM827 63h1v1h-1zM1032 212h1v1h-1zM240 274h1v2h-1zM494 280h1v1h-1zM357 131h1v1h-1zM625 211h1v1h-1zM20 375h1v1h-1zM750 71h1v1h-1zM606 234h1v1h-1zM329 96h1v1h-1zM1078 211h1v1h-1zM1283 305h1v1h-1zM1134 191h1v1h-1zM1284 306h1v1h-1zM882 155h1v1h-1zM1093 195h1v1h-1zM336 103h1v1h-1zM244 267h1v1h-1zM614 224h1v1h-1zM929 199h1v1h-1zM781 72h1v1h-1zM637 198h1v1h-1zM540 265h1v1h-1zM16 372h1v1h-1zM609 230h1v1h-1zM895 169h1v1h-1zM936 207h1v1h-1zM578 260h1v1h-1zM896 170h1v1h-1zM302 87h1v1h-1zM468 245h1v1h-1z"/>
<path fill="#3cb371" shape-rendering="crispEdges" d="M580 315h4v1h-4zM1221 315h2v1h-2zM345 264h2v1h-2zM376 264h3v1h-3zM907 264h3v1h-3zM962 264h2v1h-2zM1036 264h4v1h-4zM1043 264h3v1h-3zM1068 264h4v1h-4zM1075 264h2v1h-2zM1137 264h2v1h-2zM1304 372h3v1h-3zM1328 372h22v1h-22zM1289 366h2v1h-2zM731 183h2v1h-2zM467 327h2v1h-2zM547 327h3v1h-3zM872 251h3v1h-3zM1104 251h11v1h-11zM491 339h3v1h-3zM528 339h2v1h-2zM134 458h2v1h-2zM703 206h2v1h-2zM886 256h2v1h-2zM976 256h14v1h-14zM1016 256h3v1h-3zM1089 256h2v1h-2zM1124 256h2v1h-2zM215 423h2v1h-2zM350 262h2v1h-2zM368 262h4v1h-4zM900 262h4v1h-4zM1031 262h2v1h-2zM1048 262h6v1h-6zM1060 262h4v1h-4zM1079 262h2v1h-2zM875 252h3v1h-3zM1100 252h4v1h-4zM1115 252h3v1h-3zM921 271h2v1h-2zM1152 271h2v1h-2zM568 318h4v1h-4zM1226 318h2v1h-2zM347 263h3v1h-3zM372 263h4v1h-4zM904 263h3v1h-3zM1033 263h3v1h-3zM1046 263h2v1h-2zM1064 263h4v1h-4zM1077 263h2v1h-2zM1135 263h2v1h-2zM502 342h8v1h-8zM516 342h4v1h-4zM80 464h22v1h-22zM110 464h8v1h-8zM402 277h2v1h-2zM936 277h3v1h-3zM180 443h4v1h-4zM733 182h2v1h-2zM796 182h2v1h-2zM1297 370h3v1h-3zM1356 370h4v1h-4zM1362 370h2v1h-2zM595 312h3v1h-3zM1214 312h2v1h-2zM30 473h2v1h-2zM38 473h20v1h-20zM420 285h2v1h-2zM637 285h2v1h-2zM352 261h6v1h-6zM364 261h4v1h-4zM897 261h3v1h-3zM966 261h2v1h-2zM1029 261h2v1h-2zM1054 261h6v1h-6zM1132 261h2v1h-2zM68 467h4v1h-4zM612 302h2v1h-2zM465 326h2v1h-2zM550 326h2v1h-2zM416 283h2v1h-2zM766 171h8v1h-8zM779 171h2v1h-2zM880 254h3v1h-3zM1006 254h6v1h-6zM1094 254h2v1h-2zM1120 254h2v1h-2zM387 268h2v1h-2zM916 268h2v1h-2zM955 268h2v1h-2zM1145 268h2v1h-2zM169 446h3v1h-3zM1276 358h2v1h-2zM496 341h6v1h-6zM520 341h4v1h-4zM1284 363h2v1h-2zM165 448h2v1h-2zM752 174h4v1h-4zM893 259h2v1h-2zM969 259h2v1h-2zM1024 259h3v1h-3zM1084 259h2v1h-2zM607 306h2v1h-2zM1202 306h2v1h-2zM126 461h2v1h-2zM1307 373h2v1h-2zM1324 373h4v1h-4zM1367 373h2v1h-2zM742 178h2v1h-2zM791 178h2v1h-2zM883 255h3v1h-3zM990 255h16v1h-16zM1012 255h4v1h-4zM1091 255h3v1h-3zM1122 255h2v1h-2zM774 170h5v1h-5zM932 276h4v1h-4zM939 276h3v1h-3zM458 322h2v1h-2zM559 322h2v1h-2zM857 244h2v1h-2zM850 240h2v1h-2zM479 333h2v1h-2zM1244 333h2v1h-2zM471 329h2v1h-2zM543 329h2v1h-2zM4 485h4v1h-4zM494 340h2v1h-2zM524 340h4v1h-4zM1252 340h2v1h-2zM576 316h4v1h-4zM1223 316h2v1h-2zM1271 355h2v1h-2zM379 265h3v1h-3zM910 265h2v1h-2zM1040 265h3v1h-3zM1072 265h3v1h-3zM1139 265h2v1h-2zM631 288h2v1h-2zM722 189h2v1h-2zM358 260h6v1h-6zM895 260h2v1h-2zM1027 260h2v1h-2zM1082 260h2v1h-2zM1130 260h2v1h-2zM394 272h2v1h-2zM923 272h2v1h-2zM948 272h2v1h-2zM1382 384h2v1h-2zM156 451h4v1h-4zM927 274h2v1h-2zM944 274h2v1h-2zM744 177h3v1h-3zM561 321h2v1h-2zM1231 321h2v1h-2zM729 184h2v1h-2zM32 472h6v1h-6zM58 472h2v1h-2zM694 212h2v1h-2zM460 323h2v1h-2zM557 323h2v1h-2zM739 179h3v1h-3zM626 291h2v1h-2zM1174 291h2v1h-2zM1183 295h2v1h-2zM1311 375h2v1h-2zM1316 375h4v1h-4zM1370 375h2v1h-2zM423 287h2v1h-2zM633 287h2v1h-2zM1169 289h2v1h-2zM407 280h2v1h-2zM144 455h3v1h-3zM25 475h2v1h-2zM404 278h2v1h-2zM1287 365h2v1h-2zM888 257h3v1h-3zM974 257h2v1h-2zM1019 257h3v1h-3zM1087 257h2v1h-2zM604 308h2v1h-2zM572 317h4v1h-4zM878 253h2v1h-2zM1096 253h4v1h-4zM1118 253h2v1h-2zM1176 292h3v1h-3zM72 466h4v1h-4zM487 337h2v1h-2zM147 454h3v1h-3zM635 286h2v1h-2zM412 282h4v1h-4zM566 319h2v1h-2zM1228 319h2v1h-2zM63 469h2v1h-2zM1282 362h2v1h-2zM391 270h2v1h-2zM919 270h2v1h-2zM951 270h2v1h-2zM1150 270h2v1h-2zM192 439h2v1h-2zM239 406h2v1h-2zM584 314h6v1h-6zM1219 314h2v1h-2zM17 479h2v1h-2zM700 208h2v1h-2zM891 258h2v1h-2zM971 258h3v1h-3zM1022 258h2v1h-2zM1127 258h2v1h-2zM187 441h3v1h-3zM747 176h3v1h-3zM788 176h2v1h-2zM118 463h5v1h-5zM863 247h2v1h-2zM855 243h2v1h-2zM176 444h4v1h-4zM463 325h2v1h-2zM552 325h3v1h-3zM477 332h2v1h-2zM537 332h2v1h-2zM469 328h2v1h-2zM545 328h2v1h-2zM247 401h2v1h-2zM760 172h6v1h-6zM781 172h2v1h-2zM384 267h3v1h-3zM914 267h2v1h-2zM957 267h2v1h-2zM1143 267h2v1h-2zM510 343h6v1h-6zM750 175h2v1h-2zM786 175h2v1h-2zM473 330h2v1h-2zM541 330h2v1h-2zM1295 369h2v1h-2zM1360 369h2v1h-2zM628 290h2v1h-2zM1171 290h3v1h-3zM590 313h5v1h-5zM1216 313h3v1h-3zM828 218h2v1h-2zM409 281h3v1h-3zM434 297h2v1h-2zM618 297h2v1h-2zM1187 297h3v1h-3zM199 435h2v1h-2zM222 418h2v1h-2zM167 447h2v1h-2zM1378 381h2v1h-2zM481 334h2v1h-2zM622 294h2v1h-2zM1181 294h2v1h-2zM418 284h2v1h-2zM639 284h2v1h-2zM1313 376h3v1h-3zM389 269h2v1h-2zM953 269h2v1h-2zM1147 269h3v1h-3zM1279 360h2v1h-2zM600 310h2v1h-2zM1209 310h2v1h-2zM396 273h2v1h-2zM925 273h2v1h-2zM946 273h2v1h-2zM870 250h2v1h-2zM1185 296h2v1h-2zM204 431h2v1h-2zM698 209h2v1h-2zM76 465h4v1h-4zM102 465h8v1h-8zM861 246h2v1h-2zM136 457h4v1h-4zM1274 357h2v1h-2zM131 459h3v1h-3zM859 245h2v1h-2zM602 309h2v1h-2zM1207 309h2v1h-2zM212 425h2v1h-2zM236 408h2v1h-2zM726 186h2v1h-2zM489 338h2v1h-2zM555 324h2v1h-2zM1198 303h2v1h-2zM15 480h2v1h-2zM123 462h3v1h-3zM1291 367h2v1h-2zM716 194h2v1h-2zM1309 374h2v1h-2zM1320 374h4v1h-4zM399 275h2v1h-2zM929 275h3v1h-3zM942 275h2v1h-2zM196 437h2v1h-2zM152 452h4v1h-4zM8 484h2v1h-2zM737 180h2v1h-2zM230 412h2v1h-2zM140 456h4v1h-4zM27 474h3v1h-3zM23 476h2v1h-2zM867 249h3v1h-3zM690 215h2v1h-2zM438 300h2v1h-2zM1194 300h2v1h-2zM65 468h3v1h-3zM1268 353h2v1h-2zM756 173h4v1h-4zM783 173h2v1h-2zM190 440h2v1h-2zM1204 307h2v1h-2zM563 320h3v1h-3zM163 449h2v1h-2zM382 266h2v1h-2zM912 266h2v1h-2zM959 266h2v1h-2zM1141 266h2v1h-2zM485 336h2v1h-2zM532 336h2v1h-2zM1293 368h2v1h-2zM1266 352h2v1h-2zM184 442h3v1h-3zM1190 298h2v1h-2zM252 397h2v1h-2zM598 311h2v1h-2zM1211 311h3v1h-3zM210 426h2v1h-2zM172 445h4v1h-4zM1300 371h4v1h-4zM1350 371h6v1h-6zM1364 371h2v1h-2zM244 403h2v1h-2zM194 438h2v1h-2zM150 453h2v1h-2zM735 181h2v1h-2zM1192 299h2v1h-2zM475 331h2v1h-2zM539 331h2v1h-2zM128 460h3v1h-3zM226 415h2v1h-2zM1179 293h2v1h-2zM234 409h2v1h-2zM865 248h2v1h-2zM60 471h2v1h-2zM10 483h2v1h-2zM483 335h2v1h-2zM218 421h2v1h-2zM0 486h4v1h-4zM242 404h2v1h-2zM21 477h2v1h-2zM160 450h3v1h-3zM1374 378h2v1h-2zM12 482h2v1h-2zM19 478h2v1h-2zM1260 347h2v1h-2zM852 241h2v1h-2zM271 373h1v2h-1zM654 264h1v2h-1zM1166 286h1v1h-1zM666 246h1v2h-1zM724 188h1v1h-1zM840 229h1v1h-1zM425 288h1v1h-1zM713 197h1v1h-1zM1251 339h1v1h-1zM950 271h1v1h-1zM1262 348h1v1h-1zM246 402h1v1h-1zM1376 379h1v1h-1zM696 211h1v1h-1zM1263 349h1v1h-1zM250 399h1v1h-1zM650 270h1v2h-1zM302 320h1v1h-1zM443 304h1v2h-1zM811 197h1v2h-1zM432 295h1v1h-1zM283 351h1v2h-1zM1158 277h1v1h-1zM815 202h1v2h-1zM342 267h1v1h-1zM645 277h1v2h-1zM648 273h1v2h-1zM657 260h1v1h-1zM681 227h1v1h-1zM684 223h1v1h-1zM821 210h1v1h-1zM326 286h1v2h-1zM669 242h1v2h-1zM398 274h1v1h-1zM1165 284h1v2h-1zM822 211h1v1h-1zM337 273h1v1h-1zM1225 317h1v1h-1zM728 185h1v1h-1zM803 188h1v1h-1zM454 318h1v1h-1zM274 368h1v2h-1zM804 189h1v1h-1zM1281 361h1v1h-1zM298 325h1v2h-1zM322 292h1v2h-1zM1240 329h1v1h-1zM254 396h1v1h-1zM310 309h1v1h-1zM334 276h1v1h-1zM810 196h1v1h-1zM964 263h1v1h-1zM305 316h1v1h-1zM442 303h1v1h-1zM641 283h1v1h-1zM968 260h1v1h-1zM317 299h1v2h-1zM708 202h1v1h-1zM1206 308h1v1h-1zM329 282h1v1h-1zM453 316h1v2h-1zM1258 345h1v1h-1zM1372 376h1v1h-1zM660 255h1v2h-1zM836 225h1v1h-1zM672 238h1v2h-1zM802 187h1v1h-1zM854 242h1v1h-1zM664 249h1v2h-1zM1157 275h1v2h-1zM341 268h1v2h-1zM644 279h1v1h-1zM715 195h1v1h-1zM1257 344h1v1h-1zM675 234h1v2h-1zM1246 334h1v1h-1zM206 430h1v1h-1zM824 214h1v1h-1zM1247 335h1v1h-1zM825 215h1v1h-1zM301 321h1v2h-1zM344 265h1v1h-1zM313 305h1v1h-1zM427 290h1v1h-1zM1273 356h1v1h-1zM325 288h1v1h-1zM617 298h1v1h-1zM272 371h1v2h-1zM843 232h1v1h-1zM1381 383h1v1h-1zM813 200h1v1h-1zM296 328h1v2h-1zM621 295h1v1h-1zM656 261h1v2h-1zM288 341h1v2h-1zM261 388h1v1h-1zM835 224h1v1h-1zM445 307h1v1h-1zM680 228h1v1h-1zM446 308h1v1h-1zM706 204h1v1h-1zM225 416h1v1h-1zM256 394h1v1h-1zM336 274h1v1h-1zM663 251h1v1h-1zM799 184h1v1h-1zM292 335h1v1h-1zM304 317h1v2h-1zM1235 324h1v1h-1zM284 349h1v2h-1zM229 413h1v1h-1zM842 231h1v1h-1zM214 424h1v1h-1zM805 190h1v2h-1zM316 301h1v1h-1zM1167 287h1v1h-1zM249 400h1v1h-1zM319 297h1v1h-1zM241 405h1v1h-1zM328 283h1v2h-1zM426 289h1v1h-1zM331 280h1v1h-1zM806 192h1v1h-1zM1168 288h1v1h-1zM647 275h1v1h-1zM1264 350h1v1h-1zM264 384h1v1h-1zM1242 331h1v1h-1zM280 356h1v2h-1zM683 224h1v1h-1zM686 220h1v1h-1zM1081 261h1v1h-1zM433 296h1v1h-1zM798 183h1v1h-1zM1160 279h1v1h-1zM279 358h1v2h-1zM312 306h1v2h-1zM233 410h1v1h-1zM1377 380h1v1h-1zM456 320h1v1h-1zM295 330h1v2h-1zM710 200h1v1h-1zM307 313h1v1h-1zM845 234h1v2h-1zM275 366h1v2h-1zM1129 259h1v1h-1zM846 236h1v1h-1zM1230 320h1v1h-1zM267 379h1v2h-1zM1159 278h1v1h-1zM816 204h1v1h-1zM659 257h1v1h-1zM531 337h1v1h-1zM291 336h1v2h-1zM831 220h1v1h-1zM671 240h1v1h-1zM674 236h1v1h-1zM448 311h1v1h-1zM1286 364h1v1h-1zM535 334h1v1h-1zM259 390h1v2h-1zM422 286h1v1h-1zM823 212h1v2h-1zM1259 346h1v1h-1zM1373 377h1v1h-1zM455 319h1v1h-1zM287 343h1v2h-1zM838 227h1v1h-1zM682 225h1v2h-1zM830 219h1v1h-1zM793 179h1v1h-1zM653 266h1v1h-1zM662 252h1v2h-1zM689 216h1v1h-1zM794 180h1v1h-1zM208 428h1v1h-1zM220 420h1v1h-1zM447 309h1v2h-1zM693 213h1v1h-1zM201 434h1v1h-1zM705 205h1v1h-1zM837 226h1v1h-1zM224 417h1v1h-1zM303 319h1v1h-1zM1278 359h1v1h-1zM315 302h1v1h-1zM282 353h1v2h-1zM790 177h1v1h-1zM1248 336h1v1h-1zM826 216h1v1h-1zM1237 326h1v1h-1zM263 385h1v2h-1zM646 276h1v1h-1zM1249 337h1v1h-1zM721 190h1v1h-1zM807 193h1v1h-1zM658 258h1v2h-1zM606 307h1v1h-1zM428 291h1v1h-1zM808 194h1v1h-1zM278 360h1v2h-1zM258 392h1v1h-1zM610 304h1v1h-1zM338 272h1v1h-1zM429 292h1v1h-1zM814 201h1v1h-1zM440 301h1v1h-1zM1369 374h1v1h-1zM719 192h1v1h-1zM270 375h1v1h-1zM677 232h1v1h-1zM697 210h1v1h-1zM665 248h1v1h-1zM294 332h1v1h-1zM251 398h1v1h-1zM961 265h1v1h-1zM712 198h1v1h-1zM306 314h1v2h-1zM228 414h1v1h-1zM286 345h1v2h-1zM333 277h1v2h-1zM800 185h1v1h-1zM266 381h1v2h-1zM1162 281h1v1h-1zM649 272h1v1h-1zM1236 325h1v1h-1zM685 221h1v2h-1zM290 338h1v2h-1zM844 233h1v1h-1zM720 191h1v1h-1zM785 174h1v1h-1zM625 292h1v1h-1zM614 301h1v1h-1zM1243 332h1v1h-1zM965 262h1v1h-1zM1255 342h1v1h-1zM833 222h1v1h-1zM318 298h1v1h-1zM688 217h1v2h-1zM330 281h1v1h-1zM1270 354h1v1h-1zM457 321h1v1h-1zM277 362h1v2h-1zM203 432h1v1h-1zM269 376h1v2h-1zM1265 351h1v1h-1zM661 254h1v1h-1zM293 333h1v2h-1zM1254 341h1v1h-1zM1154 272h1v1h-1zM832 221h1v1h-1zM795 181h1v1h-1zM847 237h1v1h-1zM668 244h1v1h-1zM273 370h1v1h-1zM817 205h1v1h-1zM309 310h1v2h-1zM1161 280h1v1h-1zM321 294h1v1h-1zM62 470h1v1h-1zM449 312h1v1h-1zM818 206h1v1h-1zM324 289h1v2h-1zM1134 262h1v1h-1zM450 313h1v1h-1zM281 355h1v1h-1zM652 267h1v2h-1zM340 270h1v1h-1zM707 203h1v1h-1zM679 229h1v2h-1zM207 429h1v1h-1zM1250 338h1v1h-1zM285 347h1v2h-1zM692 214h1v1h-1zM431 294h1v1h-1zM918 269h1v1h-1zM297 327h1v1h-1zM300 323h1v1h-1zM1086 258h1v1h-1zM265 383h1v1h-1zM839 228h1v1h-1zM616 299h1v1h-1zM289 340h1v1h-1zM620 296h1v1h-1zM257 393h1v1h-1zM609 305h1v1h-1zM401 276h1v1h-1zM260 389h1v1h-1zM1238 327h1v1h-1zM238 407h1v1h-1zM676 233h1v1h-1zM1239 328h1v1h-1zM320 295h1v2h-1zM809 195h1v1h-1zM711 199h1v1h-1zM332 279h1v1h-1zM430 293h1v1h-1zM820 209h1v1h-1zM14 481h1v1h-1zM327 285h1v1h-1zM687 219h1v1h-1zM643 280h1v1h-1zM343 266h1v1h-1zM1126 257h1v1h-1zM198 436h1v1h-1zM655 263h1v1h-1zM1200 304h1v1h-1zM827 217h1v1h-1zM536 333h1v1h-1zM1385 386h1v1h-1zM725 187h1v1h-1zM1201 305h1v1h-1zM714 196h1v1h-1zM624 293h1v1h-1zM718 193h1v1h-1zM335 275h1v1h-1zM441 302h1v1h-1zM393 271h1v1h-1zM667 245h1v1h-1zM308 312h1v1h-1zM255 395h1v1h-1zM819 207h1v2h-1zM232 411h1v1h-1zM1384 385h1v1h-1zM276 364h1v2h-1zM651 269h1v1h-1zM801 186h1v1h-1zM1163 282h1v1h-1zM217 422h1v1h-1zM202 433h1v1h-1zM268 378h1v1h-1zM1164 283h1v1h-1zM452 315h1v1h-1zM530 338h1v1h-1zM1366 372h1v1h-1zM670 241h1v1h-1zM311 308h1v1h-1zM314 303h1v2h-1zM323 291h1v1h-1zM1155 273h1v1h-1zM849 239h1v1h-1zM1380 382h1v1h-1zM812 199h1v1h-1zM642 281h1v2h-1zM1256 343h1v1h-1zM462 324h1v1h-1zM1196 301h1v1h-1zM1156 274h1v1h-1zM709 201h1v1h-1zM834 223h1v1h-1zM611 303h1v1h-1zM339 271h1v1h-1zM1197 302h1v1h-1zM209 427h1v1h-1zM678 231h1v1h-1zM436 298h1v1h-1zM702 207h1v1h-1zM615 300h1v1h-1zM221 419h1v1h-1zM1233 322h1v1h-1zM437 299h1v1h-1zM1234 323h1v1h-1zM841 230h1v1h-1zM673 237h1v1h-1zM534 335h1v1h-1zM848 238h1v1h-1zM444 306h1v1h-1zM1241 330h1v1h-1zM299 324h1v1h-1zM406 279h1v1h-1zM630 289h1v1h-1zM451 314h1v1h-1zM262 387h1v1h-1z"/>
<path fill="#3cb371" shape-rendering="crispEdges" d="M409 446h3v1h-3zM428 446h2v1h-2zM1196 446h2v1h-2zM1317 446h2v1h-2zM975 311h2v1h-2zM1019 311h3v1h-3zM1070 311h8v1h-8zM1086 311h8v1h-8zM888 353h38v1h-38zM416 448h10v1h-10zM1313 448h2v1h-2zM1186 438h2v1h-2zM1329 438h5v1h-5zM1342 438h8v1h-8zM1358 438h4v1h-4zM640 371h2v1h-2zM1022 312h2v1h-2zM1030 312h40v1h-40zM1078 312h8v1h-8zM1094 312h16v1h-16zM1326 440h2v1h-2zM247 542h2v1h-2zM585 377h5v1h-5zM624 377h3v1h-3zM982 308h2v1h-2zM1011 308h3v1h-3zM485 405h2v1h-2zM68 571h4v1h-4zM124 571h2v1h-2zM276 571h4v1h-4zM762 269h2v1h-2zM438 439h2v1h-2zM1350 439h8v1h-8zM129 568h2v1h-2zM286 568h2v1h-2zM412 447h4v1h-4zM426 447h2v1h-2zM1315 447h2v1h-2zM608 382h4v1h-4zM242 539h2v1h-2zM1231 468h2v1h-2zM1238 468h4v1h-4zM579 374h2v1h-2zM632 374h3v1h-3zM835 374h3v1h-3zM828 370h2v1h-2zM1233 469h5v1h-5zM72 572h6v1h-6zM122 572h2v1h-2zM273 572h3v1h-3zM33 562h21v1h-21zM483 406h2v1h-2zM504 396h6v1h-6zM1118 315h2v1h-2zM689 363h5v1h-5zM862 363h2v1h-2zM826 369h2v1h-2zM849 369h2v1h-2zM758 272h2v1h-2zM569 372h5v1h-5zM638 372h2v1h-2zM831 372h2v1h-2zM1286 420h2v1h-2zM1290 420h2v1h-2zM687 364h2v1h-2zM859 364h3v1h-3zM1288 419h2v1h-2zM1124 318h2v1h-2zM520 393h4v1h-4zM86 574h32v1h-32zM590 378h6v1h-6zM622 378h2v1h-2zM942 347h2v1h-2zM581 375h2v1h-2zM630 375h2v1h-2zM838 375h2v1h-2zM939 348h3v1h-3zM944 346h2v1h-2zM682 367h2v1h-2zM853 367h2v1h-2zM127 569h2v1h-2zM283 569h3v1h-3zM936 349h3v1h-3zM476 408h4v1h-4zM374 397h2v1h-2zM502 397h2v1h-2zM857 365h2v1h-2zM998 305h6v1h-6zM472 409h4v1h-4zM524 392h4v1h-4zM530 392h2v1h-2zM769 265h2v1h-2zM191 513h2v1h-2zM215 513h2v1h-2zM465 411h3v1h-3zM1281 422h2v1h-2zM1334 437h8v1h-8zM1319 445h2v1h-2zM583 376h2v1h-2zM627 376h3v1h-3zM840 376h2v1h-2zM180 521h2v1h-2zM1216 460h2v1h-2zM1225 465h2v1h-2zM159 545h2v1h-2zM252 545h2v1h-2zM574 373h5v1h-5zM635 373h3v1h-3zM833 373h2v1h-2zM844 373h2v1h-2zM702 358h2v1h-2zM875 358h2v1h-2zM934 350h2v1h-2zM468 410h4v1h-4zM1190 441h2v1h-2zM489 403h2v1h-2zM60 566h2v1h-2zM133 566h2v1h-2zM290 566h2v1h-2zM380 402h2v1h-2zM491 402h2v1h-2zM926 352h5v1h-5zM497 399h2v1h-2zM540 399h2v1h-2zM604 381h4v1h-4zM612 381h4v1h-4zM652 381h2v1h-2zM754 275h2v1h-2zM1274 427h2v1h-2zM684 366h2v1h-2zM855 366h2v1h-2zM1204 453h2v1h-2zM493 401h2v1h-2zM543 401h2v1h-2zM879 356h2v1h-2zM1180 433h2v1h-2zM188 515h2v1h-2zM1283 421h3v1h-3zM1292 421h2v1h-2zM1209 457h2v1h-2zM740 290h2v1h-2zM510 395h6v1h-6zM534 395h2v1h-2zM78 573h8v1h-8zM118 573h4v1h-4zM694 362h4v1h-4zM864 362h3v1h-3zM210 510h2v1h-2zM65 570h3v1h-3zM280 570h3v1h-3zM203 507h3v1h-3zM698 361h2v1h-2zM867 361h3v1h-3zM194 511h2v1h-2zM212 511h2v1h-2zM972 313h2v1h-2zM1024 313h6v1h-6zM1110 313h5v1h-5zM54 563h4v1h-4zM294 563h2v1h-2zM234 534h2v1h-2zM155 547h2v1h-2zM255 547h2v1h-2zM970 314h2v1h-2zM1115 314h3v1h-3zM657 384h9v1h-9zM1122 317h2v1h-2zM1220 462h2v1h-2zM600 380h4v1h-4zM616 380h3v1h-3zM650 380h2v1h-2zM670 380h2v1h-2zM366 391h2v1h-2zM528 391h2v1h-2zM370 394h2v1h-2zM516 394h4v1h-4zM153 548h2v1h-2zM1127 320h2v1h-2zM884 354h4v1h-4zM362 388h2v1h-2zM1278 424h2v1h-2zM1378 470h2v1h-2zM881 355h3v1h-3zM499 398h3v1h-3zM538 398h2v1h-2zM460 415h2v1h-2zM977 310h2v1h-2zM1016 310h3v1h-3zM1229 467h2v1h-2zM931 351h3v1h-3zM1322 443h2v1h-2zM201 506h2v1h-2zM1211 458h3v1h-3zM596 379h4v1h-4zM619 379h3v1h-3zM186 516h2v1h-2zM990 306h8v1h-8zM1004 306h4v1h-4zM984 307h6v1h-6zM1008 307h3v1h-3zM979 309h3v1h-3zM1014 309h2v1h-2zM140 561h2v1h-2zM655 383h2v1h-2zM666 383h2v1h-2zM771 264h3v1h-3zM767 266h2v1h-2zM208 509h2v1h-2zM480 407h3v1h-3zM131 567h2v1h-2zM288 567h2v1h-2zM872 359h3v1h-3zM431 444h2v1h-2zM1218 461h2v1h-2zM250 544h2v1h-2zM1382 473h2v1h-2zM1214 459h2v1h-2zM776 262h2v1h-2zM774 263h2v1h-2zM1295 423h2v1h-2zM198 508h2v1h-2zM206 508h2v1h-2zM1120 316h2v1h-2zM851 368h2v1h-2zM236 535h2v1h-2zM870 360h2v1h-2zM135 565h2v1h-2zM764 268h2v1h-2zM434 442h2v1h-2zM239 537h2v1h-2zM157 546h2v1h-2zM1223 464h2v1h-2zM495 400h2v1h-2zM877 357h2v1h-2zM1227 466h2v1h-2zM487 404h2v1h-2zM244 540h2v1h-2zM342 425h1v4h-1zM365 390h1v1h-1zM436 441h1v1h-1zM456 419h1v1h-1zM1325 441h1v1h-1zM1203 452h1v1h-1zM1306 437h1v2h-1zM800 325h1v3h-1zM332 460h1v3h-1zM1155 372h1v4h-1zM308 539h1v3h-1zM1309 442h1v1h-1zM379 401h1v1h-1zM1267 435h1v2h-1zM793 304h1v3h-1zM1192 442h1v1h-1zM719 328h1v2h-1zM336 447h1v3h-1zM728 306h1v2h-1zM1156 376h1v3h-1zM299 557h1v2h-1zM1310 443h1v2h-1zM1248 459h1v1h-1zM349 405h1v2h-1zM1374 463h1v2h-1zM811 350h1v1h-1zM847 371h1v1h-1zM178 523h1v1h-1zM1130 323h1v2h-1zM786 284h1v3h-1zM315 518h1v4h-1zM951 339h1v1h-1zM744 287h1v1h-1zM397 426h1v2h-1zM405 440h1v1h-1zM1159 386h1v4h-1zM1264 439h1v1h-1zM554 391h1v2h-1zM807 342h1v2h-1zM307 542h1v2h-1zM182 520h1v1h-1zM394 420h1v2h-1zM1144 351h1v2h-1zM797 316h1v3h-1zM1152 364h1v2h-1zM345 414h1v3h-1zM246 541h1v1h-1zM715 336h1v2h-1zM320 498h1v4h-1zM1362 440h1v2h-1zM821 363h1v2h-1zM387 409h1v2h-1zM151 550h1v1h-1zM298 559h1v2h-1zM390 414h1v1h-1zM1256 449h1v1h-1zM348 407h1v3h-1zM1148 358h1v1h-1zM1259 445h1v2h-1zM324 486h1v3h-1zM443 434h1v2h-1zM677 373h1v1h-1zM1137 338h1v2h-1zM323 489h1v3h-1zM708 350h1v2h-1zM314 522h1v4h-1zM463 413h1v1h-1zM646 376h1v1h-1zM337 444h1v3h-1zM63 568h1v1h-1zM1312 446h1v2h-1zM272 570h1v2h-1zM668 382h1v1h-1zM1166 410h1v3h-1zM1138 340h1v2h-1zM1376 467h1v2h-1zM353 396h1v2h-1zM1251 455h1v2h-1zM747 283h1v2h-1zM319 502h1v4h-1zM316 514h1v4h-1zM672 379h1v1h-1zM1377 469h1v1h-1zM139 562h1v1h-1zM810 348h1v2h-1zM1165 406h1v4h-1zM162 542h1v2h-1zM408 444h1v2h-1zM959 328h1v1h-1zM451 425h1v1h-1zM1373 461h1v2h-1zM454 421h1v1h-1zM1129 321h1v2h-1zM340 432h1v4h-1zM404 438h1v2h-1zM1158 383h1v3h-1zM1176 429h1v1h-1zM62 567h1v1h-1zM361 387h1v1h-1zM796 313h1v3h-1zM735 296h1v1h-1zM1151 362h1v2h-1zM446 431h1v1h-1zM974 312h1v1h-1zM680 369h1v1h-1zM781 271h1v3h-1zM190 514h1v1h-1zM727 308h1v3h-1zM789 293h1v2h-1zM328 473h1v3h-1zM386 407h1v2h-1zM802 331h1v2h-1zM306 544h1v2h-1zM344 417h1v4h-1zM173 528h1v1h-1zM967 317h1v2h-1zM356 393h1v1h-1zM1308 440h1v2h-1zM227 525h1v2h-1zM546 401h1v1h-1zM549 397h1v2h-1zM146 556h1v1h-1zM785 281h1v3h-1zM962 324h1v1h-1zM143 559h1v1h-1zM327 476h1v3h-1zM562 381h1v1h-1zM565 377h1v1h-1zM302 552h1v2h-1zM170 531h1v1h-1zM809 346h1v2h-1zM331 463h1v4h-1zM383 404h1v1h-1zM322 492h1v3h-1zM430 445h1v1h-1zM407 443h1v1h-1zM1255 450h1v2h-1zM1154 368h1v4h-1zM557 387h1v2h-1zM710 346h1v2h-1zM1175 427h1v2h-1zM1147 356h1v2h-1zM238 536h1v1h-1zM335 450h1v4h-1zM393 419h1v1h-1zM1198 447h1v1h-1zM1247 460h1v2h-1zM352 398h1v2h-1zM824 367h1v1h-1zM1250 457h1v1h-1zM1140 344h1v2h-1zM788 290h1v3h-1zM339 436h1v4h-1zM271 569h1v1h-1zM1143 349h1v2h-1zM1161 394h1v3h-1zM149 552h1v2h-1zM359 389h1v1h-1zM778 264h1v2h-1zM1263 440h1v2h-1zM1136 336h1v2h-1zM161 544h1v1h-1zM1133 329h1v3h-1zM799 322h1v3h-1zM686 365h1v1h-1zM812 351h1v2h-1zM1126 319h1v1h-1zM58 564h1v1h-1zM792 301h1v3h-1zM1183 435h1v1h-1zM1372 459h1v2h-1zM177 524h1v1h-1zM1258 447h1v1h-1zM813 353h1v1h-1zM950 340h1v1h-1zM317 510h1v4h-1zM707 352h1v2h-1zM679 370h1v2h-1zM343 421h1v4h-1zM137 564h1v1h-1zM798 319h1v3h-1zM293 564h1v1h-1zM1368 452h1v2h-1zM806 340h1v2h-1zM396 424h1v2h-1zM458 417h1v1h-1zM674 377h1v1h-1zM389 412h1v2h-1zM1146 354h1v2h-1zM718 330h1v2h-1zM326 479h1v3h-1zM1266 437h1v1h-1zM1167 413h1v3h-1zM313 526h1v4h-1zM958 329h1v2h-1zM1139 342h1v2h-1zM842 375h1v1h-1zM1311 445h1v1h-1zM453 422h1v2h-1zM27 571h1v2h-1zM30 567h1v1h-1zM1160 390h1v4h-1zM746 285h1v1h-1zM846 372h1v1h-1zM648 378h1v1h-1zM965 320h1v1h-1zM318 506h1v4h-1zM1375 465h1v2h-1zM184 518h1v1h-1zM1182 434h1v1h-1zM568 373h1v1h-1zM808 344h1v2h-1zM816 357h1v2h-1zM1193 443h1v1h-1zM553 393h1v1h-1zM714 338h1v2h-1zM726 311h1v2h-1zM196 510h1v1h-1zM1371 457h1v2h-1zM347 410h1v2h-1zM338 440h1v4h-1zM1164 403h1v3h-1zM26 573h1v2h-1zM784 279h1v2h-1zM218 515h1v1h-1zM1157 379h1v4h-1zM823 366h1v1h-1zM548 399h1v1h-1zM805 337h1v3h-1zM734 297h1v1h-1zM392 417h1v2h-1zM305 546h1v2h-1zM445 432h1v1h-1zM395 422h1v2h-1zM219 516h1v1h-1zM1153 366h1v2h-1zM1253 453h1v1h-1zM713 340h1v2h-1zM330 467h1v3h-1zM725 313h1v3h-1zM1142 347h1v2h-1zM64 569h1v1h-1zM225 523h1v1h-1zM780 269h1v2h-1zM172 529h1v1h-1zM346 412h1v2h-1zM1135 334h1v2h-1zM749 281h1v1h-1zM440 438h1v1h-1zM545 402h1v1h-1zM801 328h1v3h-1zM1269 433h1v1h-1zM226 524h1v1h-1zM321 495h1v3h-1zM794 307h1v3h-1zM1300 428h1v2h-1zM949 341h1v2h-1zM301 554h1v1h-1zM325 482h1v4h-1zM164 539h1v2h-1zM709 348h1v2h-1zM777 263h1v1h-1zM329 470h1v3h-1zM1261 443h1v1h-1zM200 507h1v1h-1zM956 332h1v2h-1zM815 356h1v1h-1zM556 389h1v1h-1zM1367 450h1v2h-1zM217 514h1v1h-1zM737 293h1v1h-1zM148 554h1v1h-1zM448 428h1v1h-1zM717 332h1v2h-1zM1163 400h1v3h-1zM783 276h1v3h-1zM175 526h1v1h-1zM297 561h1v1h-1zM1171 422h1v2h-1zM790 295h1v3h-1zM312 530h1v2h-1zM551 395h1v1h-1zM391 415h1v2h-1zM1177 430h1v1h-1zM1149 359h1v2h-1zM1188 439h1v1h-1zM1364 444h1v2h-1zM259 551h1v2h-1zM1272 429h1v1h-1zM647 377h1v1h-1zM145 557h1v1h-1zM1178 431h1v1h-1zM1189 440h1v1h-1zM779 266h1v3h-1zM1200 449h1v1h-1zM787 287h1v3h-1zM1276 426h1v1h-1zM1134 332h1v2h-1zM334 454h1v3h-1zM377 399h1v1h-1zM214 512h1v1h-1zM559 385h1v1h-1zM814 354h1v2h-1zM712 342h1v2h-1zM724 316h1v2h-1zM1162 397h1v3h-1zM333 457h1v3h-1zM1170 421h1v1h-1zM567 374h1v2h-1zM358 390h1v1h-1zM300 555h1v2h-1zM258 549h1v2h-1zM266 562h1v2h-1zM752 277h1v1h-1zM536 396h1v1h-1zM452 424h1v1h-1zM350 402h1v3h-1zM228 527h1v1h-1zM179 522h1v1h-1zM1280 423h1v1h-1zM952 338h1v1h-1zM756 274h1v1h-1zM167 535h1v1h-1zM341 429h1v3h-1zM376 398h1v1h-1zM964 321h1v1h-1zM721 323h1v3h-1zM733 298h1v2h-1zM736 294h1v2h-1zM304 548h1v2h-1zM700 360h1v1h-1zM760 271h1v1h-1zM25 575h1v2h-1zM1222 463h1v1h-1zM947 344h1v1h-1zM669 381h1v1h-1zM1370 455h1v2h-1zM704 357h1v1h-1zM59 565h1v1h-1zM1184 436h1v1h-1zM830 371h1v1h-1zM673 378h1v1h-1zM1271 430h1v2h-1zM1366 448h1v2h-1zM1185 437h1v1h-1zM1169 419h1v2h-1zM29 568h1v2h-1zM1249 458h1v1h-1zM1363 442h1v2h-1zM1252 454h1v1h-1zM1199 448h1v1h-1zM720 326h1v2h-1zM261 554h1v2h-1zM804 335h1v2h-1zM532 393h1v1h-1zM848 370h1v1h-1zM825 368h1v1h-1zM221 518h1v2h-1zM373 396h1v1h-1zM955 334h1v1h-1zM1298 425h1v2h-1zM163 541h1v1h-1zM265 561h1v1h-1zM183 519h1v1h-1zM1244 464h1v1h-1zM716 334h1v2h-1zM1299 427h1v1h-1zM1302 431h1v2h-1zM311 532h1v2h-1zM1260 444h1v1h-1zM1195 445h1v1h-1zM447 429h1v2h-1zM817 359h1v1h-1zM1131 325h1v2h-1zM147 555h1v1h-1zM1369 454h1v1h-1zM357 391h1v2h-1zM818 360h1v1h-1zM731 301h1v1h-1zM751 278h1v2h-1zM442 436h1v1h-1zM642 372h1v1h-1zM462 414h1v1h-1zM264 559h1v2h-1zM547 400h1v1h-1zM310 534h1v3h-1zM782 274h1v2h-1zM398 428h1v2h-1zM257 548h1v1h-1zM795 310h1v3h-1zM1268 434h1v1h-1zM643 373h1v1h-1zM372 395h1v1h-1zM654 382h1v1h-1zM220 517h1v1h-1zM455 420h1v1h-1zM260 553h1v1h-1zM803 333h1v2h-1zM1324 442h1v1h-1zM723 318h1v3h-1zM963 322h1v2h-1zM303 550h1v2h-1zM1384 474h1v1h-1zM1179 432h1v1h-1zM711 344h1v2h-1zM1297 424h1v1h-1zM1328 439h1v1h-1zM231 530h1v2h-1zM649 379h1v1h-1zM739 291h1v1h-1zM681 368h1v1h-1zM450 426h1v1h-1zM555 390h1v1h-1zM558 386h1v1h-1zM1194 444h1v1h-1zM743 288h1v1h-1zM174 527h1v1h-1zM360 388h1v1h-1zM1206 454h1v1h-1zM676 374h1v1h-1zM550 396h1v1h-1zM1365 446h1v2h-1zM382 403h1v1h-1zM1168 416h1v3h-1zM766 267h1v1h-1zM954 335h1v2h-1zM966 319h1v1h-1zM1243 465h1v2h-1zM32 563h1v2h-1zM1172 424h1v1h-1zM566 376h1v1h-1zM1380 471h1v1h-1zM249 543h1v1h-1zM561 382h1v1h-1zM166 536h1v2h-1zM1301 430h1v1h-1zM268 565h1v1h-1zM1304 434h1v2h-1zM1305 436h1v1h-1zM378 400h1v1h-1zM150 551h1v1h-1zM791 298h1v3h-1zM368 392h1v1h-1zM193 512h1v1h-1zM400 432h1v2h-1zM1246 462h1v1h-1zM843 374h1v1h-1zM185 517h1v1h-1zM28 570h1v1h-1zM722 321h1v2h-1zM401 434h1v1h-1zM197 509h1v1h-1zM355 394h1v1h-1zM542 400h1v1h-1zM263 557h1v2h-1zM222 520h1v1h-1zM1262 442h1v1h-1zM1294 422h1v1h-1zM169 532h1v1h-1zM138 563h1v1h-1zM1201 450h1v1h-1zM1361 439h1v1h-1zM223 521h1v1h-1zM126 570h1v1h-1zM267 564h1v1h-1zM706 354h1v2h-1zM537 397h1v1h-1zM24 577h1v1h-1zM961 325h1v1h-1zM1202 451h1v1h-1zM1254 452h1v1h-1zM229 528h1v1h-1zM142 560h1v1h-1zM946 345h1v1h-1zM730 302h1v2h-1zM675 375h1v2h-1zM433 443h1v1h-1zM351 400h1v2h-1zM230 529h1v1h-1zM241 538h1v1h-1zM1132 327h1v2h-1zM457 418h1v1h-1zM31 565h1v2h-1zM750 280h1v1h-1zM969 315h1v1h-1zM957 331h1v1h-1zM820 362h1v1h-1zM165 538h1v1h-1zM644 374h1v1h-1zM262 556h1v1h-1zM564 378h1v1h-1zM645 375h1v1h-1zM678 372h1v1h-1zM385 406h1v1h-1zM552 394h1v1h-1zM738 292h1v1h-1zM449 427h1v1h-1zM1257 448h1v1h-1zM437 440h1v1h-1zM464 412h1v1h-1zM309 537h1v2h-1zM441 437h1v1h-1zM399 430h1v2h-1zM753 276h1v1h-1zM1270 432h1v1h-1zM402 435h1v2h-1zM757 273h1v1h-1zM168 533h1v2h-1zM403 437h1v1h-1zM1208 456h1v1h-1zM819 361h1v1h-1zM533 394h1v1h-1zM745 286h1v1h-1zM1265 438h1v1h-1zM729 304h1v2h-1zM152 549h1v1h-1zM269 566h1v2h-1zM176 525h1v1h-1zM1385 475h1v1h-1zM742 289h1v1h-1zM1303 433h1v1h-1zM270 568h1v1h-1zM292 565h1v1h-1zM232 532h1v1h-1zM444 433h1v1h-1zM1273 428h1v1h-1zM1307 439h1v1h-1zM296 562h1v1h-1zM233 533h1v1h-1zM953 337h1v1h-1zM1277 425h1v1h-1zM1242 467h1v1h-1zM369 393h1v1h-1zM406 441h1v2h-1zM1207 455h1v1h-1zM761 270h1v1h-1zM960 326h1v2h-1zM144 558h1v1h-1zM560 383h1v2h-1zM563 379h1v2h-1zM384 405h1v1h-1zM748 282h1v1h-1zM701 359h1v1h-1zM1150 361h1v1h-1zM388 411h1v1h-1zM705 356h1v1h-1zM1174 426h1v1h-1zM1321 444h1v1h-1zM171 530h1v1h-1zM354 395h1v1h-1zM254 546h1v1h-1zM968 316h1v1h-1zM1245 463h1v1h-1zM1173 425h1v1h-1zM1381 472h1v1h-1zM948 343h1v1h-1zM822 365h1v1h-1zM1145 353h1v1h-1zM732 300h1v1h-1zM364 389h1v1h-1zM1141 346h1v1h-1zM459 416h1v1h-1zM224 522h1v1h-1z"/>
<g shape-rendering="crispEdges">
<rect x="1" y="517" width="1" height="18" fill="#000"/>
<rect x="1" y="517" width="1" height="18" fill="#000"/>
<rect x="-1" y="525" width="5" height="3" fill="#000"/>
<rect x="0" y="526" width="3" height="1" fill="#fff"/>
<rect x="9" y="514" width="1" height="31" fill="#000"/>
<rect x="7" y="524" width="5" height="16" fill="#000"/>
<rect x="17" y="485" width="1" height="79" fill="#000"/>
<rect x="15" y="511" width="5" height="31" fill="#000"/>
<rect x="16" y="512" width="3" height="29" fill="#fff"/>
<rect x="25" y="483" width="1" height="48" fill="#000"/>
<rect x="23" y="491" width="5" height="21" fill="#000"/>
<rect x="24" y="492" width="3" height="19" fill="#fff"/>
<rect x="33" y="483" width="1" height="25" fill="#000"/>
<rect x="31" y="492" width="5" height="5" fill="#000"/>
<rect x="41" y="486" width="1" height="9" fill="#000"/>
<rect x="39" y="488" width="5" height="5" fill="#000"/>
<rect x="40" y="489" width="3" height="3" fill="#fff"/>
<rect x="49" y="469" width="1" height="21" fill="#000"/>
<rect x="47" y="481" width="5" height="8" fill="#000"/>
<rect x="48" y="482" width="3" height="6" fill="#fff"/>
<rect x="57" y="408" width="1" height="75" fill="#000"/>
<rect x="55" y="443" width="5" height="38" fill="#000"/>
<rect x="56" y="444" width="3" height="36" fill="#fff"/>
<rect x="65" y="350" width="1" height="94" fill="#000"/>
<rect x="63" y="360" width="5" height="84" fill="#000"/>
<rect x="64" y="361" width="3" height="82" fill="#fff"/>
<rect x="73" y="358" width="1" height="79" fill="#000"/>
<rect x="71" y="361" width="5" height="55" fill="#000"/>
<rect x="81" y="376" width="1" height="44" fill="#000"/>
<rect x="79" y="386" width="5" height="30" fill="#000"/>
<rect x="80" y="387" width="3" height="28" fill="#fff"/>
<rect x="89" y="386" width="1" height="38" fill="#000"/>
<rect x="87" y="386" width="5" height="7" fill="#000"/>
<rect x="97" y="381" width="1" height="29" fill="#000"/>
<rect x="95" y="393" width="5" height="11" fill="#000"/>
<rect x="105" y="392" width="1" height="40" fill="#000"/>
<rect x="103" y="403" width="5" height="17" fill="#000"/>
<rect x="113" y="388" width="1" height="32" fill="#000"/>
<rect x="111" y="406" width="5" height="14" fill="#000"/>
<rect x="112" y="407" width="3" height="12" fill="#fff"/>
<rect x="121" y="401" width="1" height="87" fill="#000"/>
<rect x="119" y="406" width="5" height="56" fill="#000"/>
<rect x="129" y="445" width="1" height="46" fill="#000"/>
<rect x="127" y="450" width="5" height="13" fill="#000"/>
<rect x="128" y="451" width="3" height="11" fill="#fff"/>
<rect x="137" y="439" width="1" height="27" fill="#000"/>
<rect x="135" y="444" width="5" height="8" fill="#000"/>
<rect x="136" y="445" width="3" height="6" fill="#fff"/>
<rect x="145" y="437" width="1" height="26" fill="#000"/>
<rect x="143" y="444" width="5" height="15" fill="#000"/>
<rect x="153" y="435" width="1" height="36" fill="#000"/>
<rect x="151" y="457" width="5" height="10" fill="#000"/>
<rect x="161" y="461" width="1" height="72" fill="#000"/>
<rect x="159" y="466" width="5" height="42" fill="#000"/>
<rect x="169" y="448" width="1" height="81" fill="#000"/>
<rect x="167" y="455" width="5" height="54" fill="#000"/>
<rect x="168" y="456" width="3" height="52" fill="#fff"/>
<rect x="177" y="434" width="1" height="29" fill="#000"/>
<rect x="175" y="455" width="5" height="2" fill="#000"/>
<rect x="185" y="448" width="1" height="17" fill="#000"/>
<rect x="183" y="452" width="5" height="4" fill="#000"/>
<rect x="184" y="453" width="3" height="2" fill="#fff"/>
<rect x="193" y="441" width="1" height="20" fill="#000"/>
<rect x="191" y="448" width="5" height="5" fill="#000"/>
<rect x="192" y="449" width="3" height="3" fill="#fff"/>
<rect x="201" y="389" width="1" height="62" fill="#000"/>
<rect x="199" y="397" width="5" height="51" fill="#000"/>
<rect x="200" y="398" width="3" height="49" fill="#fff"/>
<rect x="209" y="325" width="1" height="80" fill="#000"/>
<rect x="207" y="333" width="5" height="65" fill="#000"/>
<rect x="208" y="334" width="3" height="63" fill="#fff"/>
<rect x="217" y="279" width="1" height="63" fill="#000"/>
<rect x="215" y="328" width="5" height="5" fill="#000"/>
<rect x="216" y="329" width="3" height="3" fill="#fff"/>
<rect x="225" y="283" width="1" height="47" fill="#000"/>
<rect x="223" y="287" width="5" height="42" fill="#000"/>
<rect x="224" y="288" width="3" height="40" fill="#fff"/>
<rect x="233" y="264" width="1" height="28" fill="#000"/>
<rect x="231" y="274" width="5" height="13" fill="#000"/>
<rect x="232" y="275" width="3" height="11" fill="#fff"/>
<rect x="241" y="258" width="1" height="33" fill="#000"/>
<rect x="239" y="274" width="5" height="14" fill="#000"/>
<rect x="249" y="276" width="1" height="32" fill="#000"/>
<rect x="247" y="287" width="5" height="7" fill="#000"/>
<rect x="257" y="250" width="1" height="53" fill="#000"/>
<rect x="255" y="274" width="5" height="20" fill="#000"/>
<rect x="256" y="275" width="3" height="18" fill="#fff"/>
<rect x="265" y="169" width="1" height="108" fill="#000"/>
<rect x="263" y="193" width="5" height="83" fill="#000"/>
<rect x="264" y="194" width="3" height="81" fill="#fff"/>
<rect x="273" y="157" width="1" height="40" fill="#000"/>
<rect x="271" y="158" width="5" height="36" fill="#000"/>
<rect x="272" y="159" width="3" height="34" fill="#fff"/>
<rect x="281" y="159" width="1" height="8" fill="#000"/>
<rect x="279" y="160" width="5" height="6" fill="#000"/>
<rect x="289" y="136" width="1" height="30" fill="#000"/>
<rect x="287" y="155" width="5" height="11" fill="#000"/>
<rect x="288" y="156" width="3" height="9" fill="#fff"/>
<rect x="297" y="136" width="1" height="40" fill="#000"/>
<rect x="295" y="155" width="5" height="13" fill="#000"/>
<rect x="305" y="144" width="1" height="69" fill="#000"/>
<rect x="303" y="167" width="5" height="46" fill="#000"/>
<rect x="313" y="213" width="1" height="64" fill="#000"/>
<rect x="311" y="213" width="5" height="52" fill="#000"/>
<rect x="321" y="258" width="1" height="24" fill="#000"/>
<rect x="319" y="264" width="5" height="5" fill="#000"/>
<rect x="329" y="256" width="1" height="22" fill="#000"/>
<rect x="327" y="266" width="5" height="3" fill="#000"/>
<rect x="328" y="267" width="3" height="1" fill="#fff"/>
<rect x="337" y="257" width="1" height="38" fill="#000"/>
<rect x="335" y="265" width="5" height="2" fill="#000"/>
<rect x="345" y="251" width="1" height="45" fill="#000"/>
<rect x="343" y="265" width="5" height="31" fill="#000"/>
<rect x="353" y="280" width="1" height="80" fill="#000"/>
<rect x="351" y="294" width="5" height="63" fill="#000"/>
<rect x="361" y="332" width="1" height="56" fill="#000"/>
<rect x="359" y="356" width="5" height="8" fill="#000"/>
<rect x="369" y="344" width="1" height="32" fill="#000"/>
<rect x="367" y="363" width="5" height="5" fill="#000"/>
<rect x="377" y="358" width="1" height="16" fill="#000"/>
<rect x="375" y="364" width="5" height="4" fill="#000"/>
<rect x="376" y="365" width="3" height="2" fill="#fff"/>
<rect x="385" y="334" width="1" height="36" fill="#000"/>
<rect x="383" y="337" width="5" height="28" fill="#000"/>
<rect x="384" y="338" width="3" height="26" fill="#fff"/>
<rect x="393" y="329" width="1" height="59" fill="#000"/>
<rect x="391" y="335" width="5" height="45" fill="#000"/>
<rect x="401" y="359" width="1" height="48" fill="#000"/>
<rect x="399" y="377" width="5" height="17" fill="#000"/>
<rect x="409" y="369" width="1" height="41" fill="#000"/>
<rect x="407" y="391" width="5" height="2" fill="#000"/>
<rect x="417" y="277" width="1" height="134" fill="#000"/>
<rect x="415" y="308" width="5" height="84" fill="#000"/>
<rect x="416" y="309" width="3" height="82" fill="#fff"/>
<rect x="425" y="295" width="1" height="49" fill="#000"/>
<rect x="423" y="296" width="5" height="13" fill="#000"/>
<rect x="424" y="297" width="3" height="11" fill="#fff"/>
<rect x="433" y="274" width="1" height="33" fill="#000"/>
<rect x="431" y="298" width="5" height="3" fill="#000"/>
<rect x="441" y="294" width="1" height="72" fill="#000"/>
<rect x="439" y="300" width="5" height="17" fill="#000"/>
<rect x="449" y="314" width="1" height="66" fill="#000"/>
<rect x="447" y="316" width="5" height="13" fill="#000"/>
<rect x="457" y="327" width="1" height="80" fill="#000"/>
<rect x="455" y="329" width="5" height="18" fill="#000"/>
<rect x="465" y="333" width="1" height="51" fill="#000"/>
<rect x="463" y="347" width="5" height="1" fill="#000"/>
<rect x="473" y="324" width="1" height="67" fill="#000"/>
<rect x="471" y="335" width="5" height="13" fill="#000"/>
<rect x="472" y="336" width="3" height="11" fill="#fff"/>
<rect x="481" y="333" width="1" height="20" fill="#000"/>
<rect x="479" y="334" width="5" height="3" fill="#000"/>
<rect x="480" y="335" width="3" height="1" fill="#fff"/>
<rect x="489" y="305" width="1" height="53" fill="#000"/>
<rect x="487" y="334" width="5" height="14" fill="#000"/>
<rect x="497" y="338" width="1" height="57" fill="#000"/>
<rect x="495" y="342" width="5" height="5" fill="#000"/>
<rect x="496" y="343" width="3" height="3" fill="#fff"/>
<rect x="505" y="312" width="1" height="39" fill="#000"/>
<rect x="503" y="338" width="5" height="4" fill="#000"/>
<rect x="504" y="339" width="3" height="2" fill="#fff"/>
<rect x="513" y="323" width="1" height="30" fill="#000"/>
<rect x="511" y="328" width="5" height="11" fill="#000"/>
<rect x="512" y="329" width="3" height="9" fill="#fff"/>
<rect x="521" y="326" width="1" height="17" fill="#000"/>
<rect x="519" y="331" width="5" height="9" fill="#000"/>
<rect x="529" y="316" width="1" height="28" fill="#000"/>
<rect x="527" y="319" width="5" height="21" fill="#000"/>
<rect x="528" y="320" width="3" height="19" fill="#fff"/>
<rect x="537" y="247" width="1" height="76" fill="#000"/>
<rect x="535" y="247" width="5" height="72" fill="#000"/>
<rect x="536" y="248" width="3" height="70" fill="#fff"/>
<rect x="545" y="235" width="1" height="72" fill="#000"/>
<rect x="543" y="246" width="5" height="10" fill="#000"/>
<rect x="553" y="246" width="1" height="87" fill="#000"/>
<rect x="551" y="255" width="5" height="60" fill="#000"/>
<rect x="561" y="302" width="1" height="30" fill="#000"/>
<rect x="559" y="314" width="5" height="3" fill="#000"/>
<rect x="569" y="306" width="1" height="18" fill="#000"/>
<rect x="567" y="312" width="5" height="4" fill="#000"/>
<rect x="568" y="313" width="3" height="2" fill="#fff"/>
<rect x="577" y="283" width="1" height="31" fill="#000"/>
<rect x="575" y="284" width="5" height="30" fill="#000"/>
<rect x="576" y="285" width="3" height="28" fill="#fff"/>
<rect x="585" y="225" width="1" height="82" fill="#000"/>
<rect x="583" y="254" width="5" height="31" fill="#000"/>
<rect x="584" y="255" width="3" height="29" fill="#fff"/>
<rect x="593" y="239" width="1" height="50" fill="#000"/>
<rect x="591" y="255" width="5" height="22" fill="#000"/>
<rect x="601" y="209" width="1" height="84" fill="#000"/>
<rect x="599" y="253" width="5" height="23" fill="#000"/>
<rect x="600" y="254" width="3" height="21" fill="#fff"/>
<rect x="609" y="211" width="1" height="57" fill="#000"/>
<rect x="607" y="233" width="5" height="20" fill="#000"/>
<rect x="608" y="234" width="3" height="18" fill="#fff"/>
<rect x="617" y="223" width="1" height="47" fill="#000"/>
<rect x="615" y="232" width="5" height="1" fill="#000"/>
<rect x="625" y="215" width="1" height="44" fill="#000"/>
<rect x="623" y="227" width="5" height="8" fill="#000"/>
<rect x="624" y="228" width="3" height="6" fill="#fff"/>
<rect x="633" y="196" width="1" height="53" fill="#000"/>
<rect x="631" y="221" width="5" height="7" fill="#000"/>
<rect x="632" y="222" width="3" height="5" fill="#fff"/>
<rect x="641" y="215" width="1" height="46" fill="#000"/>
<rect x="639" y="220" width="5" height="9" fill="#000"/>
<rect x="649" y="123" width="1" height="118" fill="#000"/>
<rect x="647" y="129" width="5" height="99" fill="#000"/>
<rect x="648" y="130" width="3" height="97" fill="#fff"/>
<rect x="657" y="84" width="1" height="53" fill="#000"/>
<rect x="655" y="97" width="5" height="33" fill="#000"/>
<rect x="656" y="98" width="3" height="31" fill="#fff"/>
<rect x="665" y="88" width="1" height="38" fill="#000"/>
<rect x="663" y="98" width="5" height="15" fill="#000"/>
<rect x="673" y="108" width="1" height="35" fill="#000"/>
<rect x="671" y="112" width="5" height="21" fill="#000"/>
<rect x="681" y="95" width="1" height="52" fill="#000"/>
<rect x="679" y="126" width="5" height="7" fill="#000"/>
<rect x="680" y="127" width="3" height="5" fill="#fff"/>
<rect x="689" y="53" width="1" height="91" fill="#000"/>
<rect x="687" y="85" width="5" height="42" fill="#000"/>
<rect x="688" y="86" width="3" height="40" fill="#fff"/>
<rect x="697" y="81" width="1" height="83" fill="#000"/>
<rect x="695" y="85" width="5" height="39" fill="#000"/>
<rect x="705" y="104" width="1" height="68" fill="#000"/>
<rect x="703" y="122" width="5" height="49" fill="#000"/>
<rect x="713" y="151" width="1" height="40" fill="#000"/>
<rect x="711" y="152" width="5" height="19" fill="#000"/>
<rect x="712" y="153" width="3" height="17" fill="#fff"/>
<rect x="721" y="135" width="1" height="46" fill="#000"/>
<rect x="719" y="152" width="5" height="20" fill="#000"/>
<rect x="729" y="159" width="1" height="55" fill="#000"/>
<rect x="727" y="170" width="5" height="4" fill="#000"/>
<rect x="728" y="171" width="3" height="2" fill="#fff"/>
<rect x="737" y="125" width="1" height="80" fill="#000"/>
<rect x="735" y="170" width="5" height="33" fill="#000"/>
<rect x="745" y="192" width="1" height="65" fill="#000"/>
<rect x="743" y="202" width="5" height="14" fill="#000"/>
<rect x="753" y="209" width="1" height="19" fill="#000"/>
<rect x="751" y="210" width="5" height="6" fill="#000"/>
<rect x="752" y="211" width="3" height="4" fill="#fff"/>
<rect x="761" y="215" width="1" height="14" fill="#000"/>
<rect x="759" y="217" width="5" height="6" fill="#000"/>
<rect x="769" y="188" width="1" height="47" fill="#000"/>
<rect x="767" y="195" width="5" height="26" fill="#000"/>
<rect x="768" y="196" width="3" height="24" fill="#fff"/>
<rect x="777" y="189" width="1" height="35" fill="#000"/>
<rect x="775" y="194" width="5" height="18" fill="#000"/>
<rect x="785" y="207" width="1" height="100" fill="#000"/>
<rect x="783" y="210" width="5" height="97" fill="#000"/>
<rect x="793" y="303" width="1" height="73" fill="#000"/>
<rect x="791" y="306" width="5" height="29" fill="#000"/>
<rect x="801" y="322" width="1" height="27" fill="#000"/>
<rect x="799" y="334" width="5" height="14" fill="#000"/>
<rect x="809" y="328" width="1" height="36" fill="#000"/>
<rect x="807" y="329" width="5" height="19" fill="#000"/>
<rect x="808" y="330" width="3" height="17" fill="#fff"/>
<rect x="817" y="296" width="1" height="44" fill="#000"/>
<rect x="815" y="299" width="5" height="31" fill="#000"/>
<rect x="816" y="300" width="3" height="29" fill="#fff"/>
<rect x="825" y="282" width="1" height="24" fill="#000"/>
<rect x="823" y="296" width="5" height="3" fill="#000"/>
<rect x="824" y="297" width="3" height="1" fill="#fff"/>
<rect x="833" y="271" width="1" height="39" fill="#000"/>
<rect x="831" y="289" width="5" height="9" fill="#000"/>
<rect x="832" y="290" width="3" height="7" fill="#fff"/>
<rect x="841" y="241" width="1" height="63" fill="#000"/>
<rect x="839" y="280" width="5" height="10" fill="#000"/>
<rect x="840" y="281" width="3" height="8" fill="#fff"/>
<rect x="849" y="252" width="1" height="31" fill="#000"/>
<rect x="847" y="254" width="5" height="27" fill="#000"/>
<rect x="848" y="255" width="3" height="25" fill="#fff"/>
<rect x="857" y="249" width="1" height="17" fill="#000"/>
<rect x="855" y="249" width="5" height="6" fill="#000"/>
<rect x="856" y="250" width="3" height="4" fill="#fff"/>
<rect x="865" y="233" width="1" height="19" fill="#000"/>
<rect x="863" y="241" width="5" height="9" fill="#000"/>
<rect x="864" y="242" width="3" height="7" fill="#fff"/>
<rect x="873" y="198" width="1" height="45" fill="#000"/>
<rect x="871" y="201" width="5" height="41" fill="#000"/>
<rect x="872" y="202" width="3" height="39" fill="#fff"/>
<rect x="881" y="195" width="1" height="48" fill="#000"/>
<rect x="879" y="203" width="5" height="26" fill="#000"/>
<rect x="889" y="225" width="1" height="54" fill="#000"/>
<rect x="887" y="228" width="5" height="32" fill="#000"/>
<rect x="897" y="249" width="1" height="32" fill="#000"/>
<rect x="895" y="258" width="5" height="21" fill="#000"/>
<rect x="905" y="263" width="1" height="18" fill="#000"/>
<rect x="903" y="264" width="5" height="15" fill="#000"/>
<rect x="904" y="265" width="3" height="13" fill="#fff"/>
<rect x="913" y="250" width="1" height="25" fill="#000"/>
<rect x="911" y="263" width="5" height="8" fill="#000"/>
<rect x="921" y="251" width="1" height="49" fill="#000"/>
<rect x="919" y="270" width="5" height="16" fill="#000"/>
<rect x="929" y="270" width="1" height="54" fill="#000"/>
<rect x="927" y="285" width="5" height="20" fill="#000"/>
<rect x="937" y="260" width="1" height="49" fill="#000"/>
<rect x="935" y="260" width="5" height="46" fill="#000"/>
<rect x="936" y="261" width="3" height="44" fill="#fff"/>
<rect x="945" y="231" width="1" height="39" fill="#000"/>
<rect x="943" y="240" width="5" height="21" fill="#000"/>
<rect x="944" y="241" width="3" height="19" fill="#fff"/>
<rect x="953" y="233" width="1" height="40" fill="#000"/>
<rect x="951" y="240" width="5" height="7" fill="#000"/>
<rect x="961" y="225" width="1" height="25" fill="#000"/>
<rect x="959" y="226" width="5" height="21" fill="#000"/>
<rect x="960" y="227" width="3" height="19" fill="#fff"/>
<rect x="969" y="202" width="1" height="27" fill="#000"/>
<rect x="967" y="218" width="5" height="9" fill="#000"/>
<rect x="968" y="219" width="3" height="7" fill="#fff"/>
<rect x="977" y="200" width="1" height="49" fill="#000"/>
<rect x="975" y="216" width="5" height="24" fill="#000"/>
<rect x="985" y="234" width="1" height="75" fill="#000"/>
<rect x="983" y="240" width="5" height="40" fill="#000"/>
<rect x="993" y="261" width="1" height="39" fill="#000"/>
<rect x="991" y="280" width="5" height="13" fill="#000"/>
<rect x="1001" y="260" width="1" height="18" fill="#000"/>
<rect x="999" y="262" width="5" height="13" fill="#000"/>
<rect x="1000" y="263" width="3" height="11" fill="#fff"/>
<rect x="1009" y="241" width="1" height="50" fill="#000"/>
<rect x="1007" y="249" width="5" height="15" fill="#000"/>
<rect x="1008" y="250" width="3" height="13" fill="#fff"/>
<rect x="1017" y="245" width="1" height="60" fill="#000"/>
<rect x="1015" y="249" width="5" height="45" fill="#000"/>
<rect x="1025" y="255" width="1" height="54" fill="#000"/>
<rect x="1023" y="294" width="5" height="1" fill="#000"/>
<rect x="1033" y="274" width="1" height="57" fill="#000"/>
<rect x="1031" y="288" width="5" height="7" fill="#000"/>
<rect x="1032" y="289" width="3" height="5" fill="#fff"/>
<rect x="1041" y="260" width="1" height="30" fill="#000"/>
<rect x="1039" y="261" width="5" height="29" fill="#000"/>
<rect x="1040" y="262" width="3" height="27" fill="#fff"/>
<rect x="1049" y="260" width="1" height="19" fill="#000"/>
<rect x="1047" y="261" width="5" height="9" fill="#000"/>
<rect x="1057" y="261" width="1" height="15" fill="#000"/>
<rect x="1055" y="267" width="5" height="3" fill="#000"/>
<rect x="1056" y="268" width="3" height="1" fill="#fff"/>
<rect x="1065" y="261" width="1" height="53" fill="#000"/>
<rect x="1063" y="267" width="5" height="2" fill="#000"/>
<rect x="1073" y="248" width="1" height="39" fill="#000"/>
<rect x="1071" y="257" width="5" height="12" fill="#000"/>
<rect x="1072" y="258" width="3" height="10" fill="#fff"/>
<rect x="1081" y="192" width="1" height="70" fill="#000"/>
<rect x="1079" y="206" width="5" height="51" fill="#000"/>
<rect x="1080" y="207" width="3" height="49" fill="#fff"/>
<rect x="1089" y="182" width="1" height="32" fill="#000"/>
<rect x="1087" y="199" width="5" height="9" fill="#000"/>
<rect x="1088" y="200" width="3" height="7" fill="#fff"/>
<rect x="1097" y="190" width="1" height="29" fill="#000"/>
<rect x="1095" y="198" width="5" height="1" fill="#000"/>
<rect x="1105" y="194" width="1" height="48" fill="#000"/>
<rect x="1103" y="197" width="5" height="30" fill="#000"/>
<rect x="1113" y="216" width="1" height="31" fill="#000"/>
<rect x="1111" y="227" width="5" height="3" fill="#000"/>
<rect x="1121" y="228" width="1" height="55" fill="#000"/>
<rect x="1119" y="230" width="5" height="48" fill="#000"/>
<rect x="1129" y="216" width="1" height="103" fill="#000"/>
<rect x="1127" y="276" width="5" height="31" fill="#000"/>
<rect x="1137" y="301" width="1" height="64" fill="#000"/>
<rect x="1135" y="306" width="5" height="55" fill="#000"/>
<rect x="1145" y="348" width="1" height="19" fill="#000"/>
<rect x="1143" y="350" width="5" height="11" fill="#000"/>
<rect x="1144" y="351" width="3" height="9" fill="#fff"/>
<rect x="1153" y="344" width="1" height="27" fill="#000"/>
<rect x="1151" y="350" width="5" height="20" fill="#000"/>
<rect x="1161" y="363" width="1" height="74" fill="#000"/>
<rect x="1159" y="369" width="5" height="61" fill="#000"/>
<rect x="1169" y="422" width="1" height="39" fill="#000"/>
<rect x="1167" y="431" width="5" height="1" fill="#000"/>
<rect x="1177" y="355" width="1" height="84" fill="#000"/>
<rect x="1175" y="373" width="5" height="59" fill="#000"/>
<rect x="1176" y="374" width="3" height="57" fill="#fff"/>
<rect x="1185" y="351" width="1" height="32" fill="#000"/>
<rect x="1183" y="363" width="5" height="11" fill="#000"/>
<rect x="1184" y="364" width="3" height="9" fill="#fff"/>
<rect x="1193" y="343" width="1" height="36" fill="#000"/>
<rect x="1191" y="344" width="5" height="19" fill="#000"/>
<rect x="1192" y="345" width="3" height="17" fill="#fff"/>
<rect x="1201" y="339" width="1" height="42" fill="#000"/>
<rect x="1199" y="345" width="5" height="35" fill="#000"/>
<rect x="1209" y="356" width="1" height="32" fill="#000"/>
<rect x="1207" y="372" width="5" height="6" fill="#000"/>
<rect x="1208" y="373" width="3" height="4" fill="#fff"/>
<rect x="1217" y="331" width="1" height="58" fill="#000"/>
<rect x="1215" y="345" width="5" height="28" fill="#000"/>
<rect x="1216" y="346" width="3" height="26" fill="#fff"/>
<rect x="1225" y="297" width="1" height="93" fill="#000"/>
<rect x="1223" y="344" width="5" height="7" fill="#000"/>
<rect x="1233" y="345" width="1" height="37" fill="#000"/>
<rect x="1231" y="350" width="5" height="32" fill="#000"/>
<rect x="1241" y="363" width="1" height="18" fill="#000"/>
<rect x="1239" y="363" width="5" height="11" fill="#000"/>
<rect x="1240" y="364" width="3" height="9" fill="#fff"/>
<rect x="1249" y="333" width="1" height="36" fill="#000"/>
<rect x="1247" y="334" width="5" height="31" fill="#000"/>
<rect x="1248" y="335" width="3" height="29" fill="#fff"/>
<rect x="1257" y="302" width="1" height="36" fill="#000"/>
<rect x="1255" y="320" width="5" height="15" fill="#000"/>
<rect x="1256" y="321" width="3" height="13" fill="#fff"/>
<rect x="1265" y="276" width="1" height="73" fill="#000"/>
<rect x="1263" y="320" width="5" height="25" fill="#000"/>
<rect x="1273" y="336" width="1" height="48" fill="#000"/>
<rect x="1271" y="345" width="5" height="28" fill="#000"/>
<rect x="1281" y="367" width="1" height="26" fill="#000"/>
<rect x="1279" y="373" width="5" height="3" fill="#000"/>
<rect x="1289" y="355" width="1" height="21" fill="#000"/>
<rect x="1287" y="364" width="5" height="11" fill="#000"/>
<rect x="1288" y="365" width="3" height="9" fill="#fff"/>
<rect x="1297" y="363" width="1" height="48" fill="#000"/>
<rect x="1295" y="363" width="5" height="48" fill="#000"/>
<rect x="1305" y="409" width="1" height="46" fill="#000"/>
<rect x="1303" y="410" width="5" height="45" fill="#000"/>
<rect x="1313" y="427" width="1" height="56" fill="#000"/>
<rect x="1311" y="437" width="5" height="29" fill="#000"/>
<rect x="1321" y="377" width="1" height="92" fill="#000"/>
<rect x="1319" y="380" width="5" height="89" fill="#000"/>
<rect x="1320" y="381" width="3" height="87" fill="#fff"/>
<rect x="1329" y="371" width="1" height="26" fill="#000"/>
<rect x="1327" y="380" width="5" height="1" fill="#000"/>
<rect x="1337" y="372" width="1" height="16" fill="#000"/>
<rect x="1335" y="374" width="5" height="7" fill="#000"/>
<rect x="1336" y="375" width="3" height="5" fill="#fff"/>
<rect x="1345" y="345" width="1" height="32" fill="#000"/>
<rect x="1343" y="353" width="5" height="24" fill="#000"/>
<rect x="1344" y="354" width="3" height="22" fill="#fff"/>
<rect x="1353" y="324" width="1" height="44" fill="#000"/>
<rect x="1351" y="335" width="5" height="18" fill="#000"/>
<rect x="1352" y="336" width="3" height="16" fill="#fff"/>
<rect x="1361" y="335" width="1" height="51" fill="#000"/>
<rect x="1359" y="341" width="5" height="8" fill="#000"/>
<rect x="1369" y="348" width="1" height="112" fill="#000"/>
<rect x="1367" y="348" width="5" height="104" fill="#000"/>
<rect x="1377" y="445" width="1" height="35" fill="#000"/>
<rect x="1375" y="452" width="5" height="20" fill="#000"/>
<rect x="1385" y="465" width="1" height="15" fill="#000"/>
<rect x="1383" y="471" width="5" height="9" fill="#000"/>
</g>
<rect x="618.5" y="45.5" width="61" height="18" fill="#fff" stroke="#f00" stroke-width="1" shape-rendering="crispEdges"/>
<text x="620.3" y="61.2" font-size="16.6" fill="#f00" font-family="Liberation Sans, sans-serif" textLength="57.5" lengthAdjust="spacingAndGlyphs" stroke="#f00" stroke-width="0.35">0.93674</text>
<rect x="680" y="54" width="9" height="1" fill="#f00" shape-rendering="crispEdges"/>
<rect x="1018.5" y="173.5" width="61" height="18" fill="#fff" stroke="#f00" stroke-width="1" shape-rendering="crispEdges"/>
<text x="1020.3" y="189.2" font-size="16.6" fill="#f00" font-family="Liberation Sans, sans-serif" textLength="57.5" lengthAdjust="spacingAndGlyphs" stroke="#f00" stroke-width="0.35">0.93123</text>
<rect x="1080" y="182" width="9" height="1" fill="#f00" shape-rendering="crispEdges"/>
<rect x="1044.5" y="450.5" width="73" height="24" fill="#fff" stroke="#f00" stroke-width="1" shape-rendering="crispEdges"/>
<text x="1045.8" y="471.2" font-size="22" fill="#f00" font-family="Liberation Sans, sans-serif" textLength="70.4" lengthAdjust="spacingAndGlyphs" stroke="#f00" stroke-width="0.35">0.91926</text>
<rect x="1034" y="462" width="7" height="1" fill="#f00" shape-rendering="crispEdges"/>
<rect x="1041.5" y="460.5" width="2" height="4" fill="#fff" stroke="#f00" stroke-width="1" shape-rendering="crispEdges"/>
<rect x="1242.5" y="473.5" width="61" height="18" fill="#fff" stroke="#f00" stroke-width="1" shape-rendering="crispEdges"/>
<text x="1244.3" y="489.2" font-size="16.6" fill="#f00" font-family="Liberation Sans, sans-serif" textLength="57.5" lengthAdjust="spacingAndGlyphs" stroke="#f00" stroke-width="0.35">0.91840</text>
<rect x="1304" y="482" width="10" height="1" fill="#f00" shape-rendering="crispEdges"/>
<g fill="none" stroke="#ff0000" stroke-width="3.6" stroke-linejoin="round" stroke-linecap="butt" shape-rendering="crispEdges">
<polyline points="1264.2,287.3 1315.3,480.5 1362.6,322 1384.2,485"/>
<line x1="1307.8" y1="471.2" x2="1315" y2="480.5" stroke-width="3"/>
<line x1="1356.8" y1="329.6" x2="1362.2" y2="321.5" stroke-width="3"/>
</g>
<g fill="#ff0000" stroke="none" shape-rendering="crispEdges">
<polygon points="1315.5,482.6 1308.5,472.5 1313,470 1321,469.5"/>
<polygon points="1362.4,319.6 1358,330.5 1361,333 1366.2,333"/>
<polygon points="1384.5,487.4 1377.8,476.8 1379.4,475 1382,477.3 1381.2,471 1384.6,471 1386.2,476.4 1388,474.6 1387.7,480.5"/>
</g>
<rect x="1235" y="460" width="193" height="5" fill="#00ff00" shape-rendering="crispEdges"/>
<g shape-rendering="crispEdges">
<rect x="1645" y="45" width="2" height="1" fill="#000"/>
<rect x="1645" y="78" width="2" height="1" fill="#000"/>
<rect x="1645" y="111" width="2" height="1" fill="#000"/>
<rect x="1645" y="144" width="2" height="1" fill="#000"/>
<rect x="1645" y="178" width="2" height="1" fill="#000"/>
<rect x="1645" y="211" width="2" height="1" fill="#000"/>
<rect x="1645" y="244" width="2" height="1" fill="#000"/>
<rect x="1645" y="277" width="2" height="1" fill="#000"/>
<rect x="1645" y="310" width="2" height="1" fill="#000"/>
<rect x="1645" y="343" width="2" height="1" fill="#000"/>
<rect x="1645" y="376" width="2" height="1" fill="#000"/>
<rect x="1645" y="410" width="2" height="1" fill="#000"/>
<rect x="1645" y="443" width="2" height="1" fill="#000"/>
<rect x="1645" y="476" width="2" height="1" fill="#000"/>
<rect x="1645" y="509" width="2" height="1" fill="#000"/>
<rect x="1645" y="542" width="2" height="1" fill="#000"/>
<rect x="1645" y="575" width="2" height="1" fill="#000"/>
</g>
<text x="1650" y="49" font-size="10" fill="#000" font-family="Liberation Sans, sans-serif" textLength="33" lengthAdjust="spacingAndGlyphs" stroke="#000" stroke-width="0.25">0.93710</text>
<text x="1650" y="82" font-size="10" fill="#000" font-family="Liberation Sans, sans-serif" textLength="33" lengthAdjust="spacingAndGlyphs" stroke="#000" stroke-width="0.25">0.93570</text>
<text x="1650" y="115" font-size="10" fill="#000" font-family="Liberation Sans, sans-serif" textLength="33" lengthAdjust="spacingAndGlyphs" stroke="#000" stroke-width="0.25">0.93430</text>
<text x="1650" y="148" font-size="10" fill="#000" font-family="Liberation Sans, sans-serif" textLength="33" lengthAdjust="spacingAndGlyphs" stroke="#000" stroke-width="0.25">0.93285</text>
<text x="1650" y="182" font-size="10" fill="#000" font-family="Liberation Sans, sans-serif" textLength="33" lengthAdjust="spacingAndGlyphs" stroke="#000" stroke-width="0.25">0.93140</text>
<text x="1650" y="215" font-size="10" fill="#000" font-family="Liberation Sans, sans-serif" textLength="33" lengthAdjust="spacingAndGlyphs" stroke="#000" stroke-width="0.25">0.93000</text>
<text x="1650" y="248" font-size="10" fill="#000" font-family="Liberation Sans, sans-serif" textLength="33" lengthAdjust="spacingAndGlyphs" stroke="#000" stroke-width="0.25">0.92860</text>
<text x="1650" y="281" font-size="10" fill="#000" font-family="Liberation Sans, sans-serif" textLength="33" lengthAdjust="spacingAndGlyphs" stroke="#000" stroke-width="0.25">0.92715</text>
<text x="1650" y="314" font-size="10" fill="#000" font-family="Liberation Sans, sans-serif" textLength="33" lengthAdjust="spacingAndGlyphs" stroke="#000" stroke-width="0.25">0.92575</text>
<text x="1650" y="347" font-size="10" fill="#000" font-family="Liberation Sans, sans-serif" textLength="33" lengthAdjust="spacingAndGlyphs" stroke="#000" stroke-width="0.25">0.92435</text>
<text x="1650" y="380" font-size="10" fill="#000" font-family="Liberation Sans, sans-serif" textLength="33" lengthAdjust="spacingAndGlyphs" stroke="#000" stroke-width="0.25">0.92295</text>
<text x="1650" y="414" font-size="10" fill="#000" font-family="Liberation Sans, sans-serif" textLength="33" lengthAdjust="spacingAndGlyphs" stroke="#000" stroke-width="0.25">0.92150</text>
<text x="1650" y="447" font-size="10" fill="#000" font-family="Liberation Sans, sans-serif" textLength="33" lengthAdjust="spacingAndGlyphs" stroke="#000" stroke-width="0.25">0.92005</text>
<text x="1650" y="480" font-size="10" fill="#000" font-family="Liberation Sans, sans-serif" textLength="33" lengthAdjust="spacingAndGlyphs" stroke="#000" stroke-width="0.25">0.91865</text>
<text x="1650" y="513" font-size="10" fill="#000" font-family="Liberation Sans, sans-serif" textLength="33" lengthAdjust="spacingAndGlyphs" stroke="#000" stroke-width="0.25">0.91725</text>
<text x="1650" y="546" font-size="10" fill="#000" font-family="Liberation Sans, sans-serif" textLength="33" lengthAdjust="spacingAndGlyphs" stroke="#000" stroke-width="0.25">0.91580</text>
<text x="1650" y="579" font-size="10" fill="#000" font-family="Liberation Sans, sans-serif" textLength="33" lengthAdjust="spacingAndGlyphs" stroke="#000" stroke-width="0.25">0.91440</text>
<g shape-rendering="crispEdges">
<rect x="1646" y="405" width="41" height="11" fill="#ff0000"/>
<rect x="1639.5" y="409.5" width="4" height="4" fill="#fff" stroke="#ff0000" stroke-width="1"/>
<rect x="1646" y="430" width="41" height="11" fill="#ff0000"/>
<rect x="1639.5" y="434.5" width="4" height="4" fill="#fff" stroke="#ff0000" stroke-width="1"/>
<rect x="1646" y="456" width="41" height="11" fill="#ffa500"/>
<rect x="1639.5" y="460.5" width="4" height="4" fill="#fff" stroke="#ffa500" stroke-width="1"/>
<rect x="1646" y="474" width="41" height="11" fill="#000000"/>
<rect x="1646" y="496" width="41" height="11" fill="#0000ff"/>
<rect x="1639.5" y="500.5" width="4" height="4" fill="#fff" stroke="#0000ff" stroke-width="1"/>
<rect x="1646" y="521" width="41" height="11" fill="#0000ff"/>
<rect x="1639.5" y="525.5" width="4" height="4" fill="#fff" stroke="#0000ff" stroke-width="1"/>
</g>
<text x="1650" y="414" font-size="10" fill="#fff" font-family="Liberation Sans, sans-serif" textLength="33" lengthAdjust="spacingAndGlyphs" stroke="#fff" stroke-width="0.25">0.92144</text>
<text x="1650" y="439" font-size="10" fill="#fff" font-family="Liberation Sans, sans-serif" textLength="33" lengthAdjust="spacingAndGlyphs" stroke="#fff" stroke-width="0.25">0.92038</text>
<text x="1650" y="465" font-size="10" fill="#fff" font-family="Liberation Sans, sans-serif" textLength="33" lengthAdjust="spacingAndGlyphs" stroke="#fff" stroke-width="0.25">0.91926</text>
<text x="1650" y="483" font-size="10" fill="#fff" font-family="Liberation Sans, sans-serif" textLength="33" lengthAdjust="spacingAndGlyphs" stroke="#fff" stroke-width="0.25">0.91852</text>
<text x="1650" y="505" font-size="10" fill="#fff" font-family="Liberation Sans, sans-serif" textLength="33" lengthAdjust="spacingAndGlyphs" stroke="#fff" stroke-width="0.25">0.91755</text>
<text x="1650" y="530" font-size="10" fill="#fff" font-family="Liberation Sans, sans-serif" textLength="33" lengthAdjust="spacingAndGlyphs" stroke="#fff" stroke-width="0.25">0.91648</text>
<text x="0.5" y="37.2" font-size="10" fill="#000" font-family="Liberation Sans, sans-serif" textLength="57.3" lengthAdjust="spacingAndGlyphs" stroke="#000" stroke-width="0.25">USDCHF-,H4</text>
<text x="63.8" y="37.2" font-size="10" fill="#000" font-family="Liberation Sans, sans-serif" textLength="140.8" lengthAdjust="spacingAndGlyphs" stroke="#000" stroke-width="0.25">0.91886 0.91913 0.91852 0.91852</text>
<g shape-rendering="crispEdges">
<rect x="1" y="681" width="1" height="12" fill="#c0c0c0"/>
<rect x="9" y="687" width="1" height="6" fill="#c0c0c0"/>
<rect x="17" y="689" width="1" height="4" fill="#c0c0c0"/>
<rect x="25" y="688" width="1" height="5" fill="#c0c0c0"/>
<rect x="33" y="688" width="1" height="5" fill="#c0c0c0"/>
<rect x="41" y="688" width="1" height="5" fill="#c0c0c0"/>
<rect x="49" y="686" width="1" height="7" fill="#c0c0c0"/>
<rect x="57" y="681" width="1" height="12" fill="#c0c0c0"/>
<rect x="65" y="668" width="1" height="25" fill="#c0c0c0"/>
<rect x="73" y="664" width="1" height="29" fill="#c0c0c0"/>
<rect x="81" y="659" width="1" height="34" fill="#c0c0c0"/>
<rect x="89" y="655" width="1" height="38" fill="#c0c0c0"/>
<rect x="97" y="654" width="1" height="39" fill="#c0c0c0"/>
<rect x="105" y="655" width="1" height="38" fill="#c0c0c0"/>
<rect x="113" y="655" width="1" height="38" fill="#c0c0c0"/>
<rect x="121" y="662" width="1" height="31" fill="#c0c0c0"/>
<rect x="129" y="666" width="1" height="27" fill="#c0c0c0"/>
<rect x="137" y="669" width="1" height="24" fill="#c0c0c0"/>
<rect x="145" y="673" width="1" height="20" fill="#c0c0c0"/>
<rect x="153" y="678" width="1" height="15" fill="#c0c0c0"/>
<rect x="161" y="685" width="1" height="8" fill="#c0c0c0"/>
<rect x="169" y="686" width="1" height="7" fill="#c0c0c0"/>
<rect x="177" y="687" width="1" height="6" fill="#c0c0c0"/>
<rect x="185" y="687" width="1" height="6" fill="#c0c0c0"/>
<rect x="193" y="687" width="1" height="6" fill="#c0c0c0"/>
<rect x="201" y="680" width="1" height="13" fill="#c0c0c0"/>
<rect x="209" y="670" width="1" height="23" fill="#c0c0c0"/>
<rect x="217" y="661" width="1" height="32" fill="#c0c0c0"/>
<rect x="225" y="650" width="1" height="43" fill="#c0c0c0"/>
<rect x="233" y="640" width="1" height="53" fill="#c0c0c0"/>
<rect x="241" y="634" width="1" height="59" fill="#c0c0c0"/>
<rect x="249" y="631" width="1" height="62" fill="#c0c0c0"/>
<rect x="257" y="628" width="1" height="65" fill="#c0c0c0"/>
<rect x="265" y="617" width="1" height="76" fill="#c0c0c0"/>
<rect x="273" y="605" width="1" height="88" fill="#c0c0c0"/>
<rect x="281" y="598" width="1" height="95" fill="#c0c0c0"/>
<rect x="289" y="592" width="1" height="101" fill="#c0c0c0"/>
<rect x="297" y="590" width="1" height="103" fill="#c0c0c0"/>
<rect x="305" y="595" width="1" height="98" fill="#c0c0c0"/>
<rect x="313" y="605" width="1" height="88" fill="#c0c0c0"/>
<rect x="321" y="614" width="1" height="79" fill="#c0c0c0"/>
<rect x="329" y="623" width="1" height="70" fill="#c0c0c0"/>
<rect x="337" y="630" width="1" height="63" fill="#c0c0c0"/>
<rect x="345" y="639" width="1" height="54" fill="#c0c0c0"/>
<rect x="353" y="654" width="1" height="39" fill="#c0c0c0"/>
<rect x="361" y="667" width="1" height="26" fill="#c0c0c0"/>
<rect x="369" y="677" width="1" height="16" fill="#c0c0c0"/>
<rect x="377" y="686" width="1" height="7" fill="#c0c0c0"/>
<rect x="385" y="689" width="1" height="4" fill="#c0c0c0"/>
<rect x="393" y="692" width="1" height="4" fill="#c0c0c0"/>
<rect x="401" y="692" width="1" height="11" fill="#c0c0c0"/>
<rect x="409" y="692" width="1" height="16" fill="#c0c0c0"/>
<rect x="417" y="692" width="1" height="11" fill="#c0c0c0"/>
<rect x="425" y="692" width="1" height="6" fill="#c0c0c0"/>
<rect x="433" y="692" width="1" height="2" fill="#c0c0c0"/>
<rect x="441" y="692" width="1" height="1" fill="#c0c0c0"/>
<rect x="449" y="691" width="1" height="2" fill="#c0c0c0"/>
<rect x="457" y="692" width="1" height="1" fill="#c0c0c0"/>
<rect x="465" y="692" width="1" height="2" fill="#c0c0c0"/>
<rect x="473" y="692" width="1" height="6" fill="#c0c0c0"/>
<rect x="481" y="692" width="1" height="4" fill="#c0c0c0"/>
<rect x="489" y="692" width="1" height="6" fill="#c0c0c0"/>
<rect x="497" y="692" width="1" height="7" fill="#c0c0c0"/>
<rect x="505" y="692" width="1" height="5" fill="#c0c0c0"/>
<rect x="513" y="692" width="1" height="5" fill="#c0c0c0"/>
<rect x="521" y="692" width="1" height="4" fill="#c0c0c0"/>
<rect x="529" y="692" width="1" height="2" fill="#c0c0c0"/>
<rect x="537" y="686" width="1" height="7" fill="#c0c0c0"/>
<rect x="545" y="680" width="1" height="13" fill="#c0c0c0"/>
<rect x="553" y="681" width="1" height="12" fill="#c0c0c0"/>
<rect x="561" y="683" width="1" height="10" fill="#c0c0c0"/>
<rect x="569" y="684" width="1" height="9" fill="#c0c0c0"/>
<rect x="577" y="681" width="1" height="12" fill="#c0c0c0"/>
<rect x="585" y="677" width="1" height="16" fill="#c0c0c0"/>
<rect x="593" y="675" width="1" height="18" fill="#c0c0c0"/>
<rect x="601" y="672" width="1" height="21" fill="#c0c0c0"/>
<rect x="609" y="667" width="1" height="26" fill="#c0c0c0"/>
<rect x="617" y="664" width="1" height="29" fill="#c0c0c0"/>
<rect x="625" y="661" width="1" height="32" fill="#c0c0c0"/>
<rect x="633" y="659" width="1" height="34" fill="#c0c0c0"/>
<rect x="641" y="658" width="1" height="35" fill="#c0c0c0"/>
<rect x="649" y="647" width="1" height="46" fill="#c0c0c0"/>
<rect x="657" y="635" width="1" height="58" fill="#c0c0c0"/>
<rect x="665" y="629" width="1" height="64" fill="#c0c0c0"/>
<rect x="673" y="626" width="1" height="67" fill="#c0c0c0"/>
<rect x="681" y="625" width="1" height="68" fill="#c0c0c0"/>
<rect x="689" y="619" width="1" height="74" fill="#c0c0c0"/>
<rect x="697" y="620" width="1" height="73" fill="#c0c0c0"/>
<rect x="705" y="627" width="1" height="66" fill="#c0c0c0"/>
<rect x="713" y="631" width="1" height="62" fill="#c0c0c0"/>
<rect x="721" y="637" width="1" height="56" fill="#c0c0c0"/>
<rect x="729" y="642" width="1" height="51" fill="#c0c0c0"/>
<rect x="737" y="650" width="1" height="43" fill="#c0c0c0"/>
<rect x="745" y="659" width="1" height="34" fill="#c0c0c0"/>
<rect x="753" y="665" width="1" height="28" fill="#c0c0c0"/>
<rect x="761" y="672" width="1" height="21" fill="#c0c0c0"/>
<rect x="769" y="674" width="1" height="19" fill="#c0c0c0"/>
<rect x="777" y="678" width="1" height="15" fill="#c0c0c0"/>
<rect x="785" y="691" width="1" height="2" fill="#c0c0c0"/>
<rect x="793" y="692" width="1" height="12" fill="#c0c0c0"/>
<rect x="801" y="692" width="1" height="24" fill="#c0c0c0"/>
<rect x="809" y="692" width="1" height="31" fill="#c0c0c0"/>
<rect x="817" y="692" width="1" height="32" fill="#c0c0c0"/>
<rect x="825" y="692" width="1" height="34" fill="#c0c0c0"/>
<rect x="833" y="692" width="1" height="33" fill="#c0c0c0"/>
<rect x="841" y="692" width="1" height="32" fill="#c0c0c0"/>
<rect x="849" y="692" width="1" height="26" fill="#c0c0c0"/>
<rect x="857" y="692" width="1" height="23" fill="#c0c0c0"/>
<rect x="865" y="692" width="1" height="17" fill="#c0c0c0"/>
<rect x="873" y="692" width="1" height="10" fill="#c0c0c0"/>
<rect x="881" y="692" width="1" height="7" fill="#c0c0c0"/>
<rect x="889" y="692" width="1" height="7" fill="#c0c0c0"/>
<rect x="897" y="692" width="1" height="10" fill="#c0c0c0"/>
<rect x="905" y="692" width="1" height="10" fill="#c0c0c0"/>
<rect x="913" y="692" width="1" height="11" fill="#c0c0c0"/>
<rect x="921" y="692" width="1" height="12" fill="#c0c0c0"/>
<rect x="929" y="692" width="1" height="16" fill="#c0c0c0"/>
<rect x="937" y="692" width="1" height="11" fill="#c0c0c0"/>
<rect x="945" y="692" width="1" height="10" fill="#c0c0c0"/>
<rect x="953" y="692" width="1" height="7" fill="#c0c0c0"/>
<rect x="961" y="692" width="1" height="3" fill="#c0c0c0"/>
<rect x="969" y="692" width="1" height="1" fill="#c0c0c0"/>
<rect x="977" y="691" width="1" height="2" fill="#c0c0c0"/>
<rect x="985" y="692" width="1" height="1" fill="#c0c0c0"/>
<rect x="993" y="692" width="1" height="5" fill="#c0c0c0"/>
<rect x="1001" y="692" width="1" height="5" fill="#c0c0c0"/>
<rect x="1009" y="692" width="1" height="4" fill="#c0c0c0"/>
<rect x="1017" y="692" width="1" height="7" fill="#c0c0c0"/>
<rect x="1025" y="692" width="1" height="10" fill="#c0c0c0"/>
<rect x="1033" y="692" width="1" height="12" fill="#c0c0c0"/>
<rect x="1041" y="692" width="1" height="10" fill="#c0c0c0"/>
<rect x="1049" y="692" width="1" height="9" fill="#c0c0c0"/>
<rect x="1057" y="692" width="1" height="8" fill="#c0c0c0"/>
<rect x="1065" y="692" width="1" height="8" fill="#c0c0c0"/>
<rect x="1073" y="692" width="1" height="4" fill="#c0c0c0"/>
<rect x="1081" y="691" width="1" height="2" fill="#c0c0c0"/>
<rect x="1089" y="685" width="1" height="8" fill="#c0c0c0"/>
<rect x="1097" y="680" width="1" height="13" fill="#c0c0c0"/>
<rect x="1105" y="680" width="1" height="13" fill="#c0c0c0"/>
<rect x="1113" y="680" width="1" height="13" fill="#c0c0c0"/>
<rect x="1121" y="685" width="1" height="8" fill="#c0c0c0"/>
<rect x="1129" y="692" width="1" height="1" fill="#c0c0c0"/>
<rect x="1137" y="692" width="1" height="11" fill="#c0c0c0"/>
<rect x="1145" y="692" width="1" height="19" fill="#c0c0c0"/>
<rect x="1153" y="692" width="1" height="27" fill="#c0c0c0"/>
<rect x="1161" y="692" width="1" height="40" fill="#c0c0c0"/>
<rect x="1169" y="692" width="1" height="49" fill="#c0c0c0"/>
<rect x="1177" y="692" width="1" height="50" fill="#c0c0c0"/>
<rect x="1185" y="692" width="1" height="49" fill="#c0c0c0"/>
<rect x="1193" y="692" width="1" height="45" fill="#c0c0c0"/>
<rect x="1201" y="692" width="1" height="46" fill="#c0c0c0"/>
<rect x="1209" y="692" width="1" height="45" fill="#c0c0c0"/>
<rect x="1217" y="692" width="1" height="42" fill="#c0c0c0"/>
<rect x="1225" y="692" width="1" height="37" fill="#c0c0c0"/>
<rect x="1233" y="692" width="1" height="37" fill="#c0c0c0"/>
<rect x="1241" y="692" width="1" height="36" fill="#c0c0c0"/>
<rect x="1249" y="692" width="1" height="31" fill="#c0c0c0"/>
<rect x="1257" y="692" width="1" height="24" fill="#c0c0c0"/>
<rect x="1265" y="692" width="1" height="23" fill="#c0c0c0"/>
<rect x="1273" y="692" width="1" height="24" fill="#c0c0c0"/>
<rect x="1281" y="692" width="1" height="24" fill="#c0c0c0"/>
<rect x="1289" y="692" width="1" height="24" fill="#c0c0c0"/>
<rect x="1297" y="692" width="1" height="28" fill="#c0c0c0"/>
<rect x="1305" y="692" width="1" height="34" fill="#c0c0c0"/>
<rect x="1313" y="692" width="1" height="41" fill="#c0c0c0"/>
<rect x="1321" y="692" width="1" height="37" fill="#c0c0c0"/>
<rect x="1329" y="692" width="1" height="33" fill="#c0c0c0"/>
<rect x="1337" y="692" width="1" height="29" fill="#c0c0c0"/>
<rect x="1345" y="692" width="1" height="24" fill="#c0c0c0"/>
<rect x="1353" y="692" width="1" height="17" fill="#c0c0c0"/>
<rect x="1361" y="692" width="1" height="14" fill="#c0c0c0"/>
<rect x="1369" y="692" width="1" height="19" fill="#c0c0c0"/>
<rect x="1377" y="692" width="1" height="28" fill="#c0c0c0"/>
<rect x="1385" y="692" width="1" height="36" fill="#c0c0c0"/>
</g>
<path fill="#ff0000" shape-rendering="crispEdges" d="M35 676h2v1h-2zM83 676h3v1h-3zM994 698h3v1h-3zM1042 698h3v1h-3zM1084 698h3v1h-3zM712 628h3v1h-3zM730 628h2v1h-2zM174 670h2v1h-2zM574 687h2v1h-2zM1126 687h3v1h-3zM1132 687h3v1h-3zM1138 687h2v1h-2zM910 707h2v1h-2zM442 696h3v1h-3zM478 696h3v1h-3zM484 696h3v1h-3zM490 696h3v1h-3zM496 696h3v1h-3zM502 696h3v1h-3zM508 696h2v1h-2zM526 696h3v1h-3zM532 696h2v1h-2zM1006 696h3v1h-3zM1012 696h2v1h-2zM1024 696h3v1h-3zM1091 696h2v1h-2zM89 674h2v1h-2zM18 666h2v1h-2zM641 666h2v1h-2zM418 685h2v1h-2zM580 685h3v1h-3zM862 720h2v1h-2zM868 720h2v1h-2zM1294 720h3v1h-3zM1300 720h3v1h-3zM1306 720h3v1h-3zM1312 720h3v1h-3zM1366 720h3v1h-3zM1372 720h2v1h-2zM556 691h3v1h-3zM1108 691h2v1h-2zM1150 691h2v1h-2zM179 672h2v1h-2zM1288 721h3v1h-3zM1318 721h3v1h-3zM1324 721h2v1h-2zM1354 721h3v1h-3zM1360 721h3v1h-3zM1282 722h3v1h-3zM1330 722h3v1h-3zM1336 722h3v1h-3zM1342 722h3v1h-3zM1348 722h2v1h-2zM976 699h3v1h-3zM982 699h3v1h-3zM988 699h2v1h-2zM1048 699h3v1h-3zM1054 699h3v1h-3zM1060 699h2v1h-2zM1078 699h3v1h-3zM1211 733h2v1h-2zM1246 733h3v1h-3zM880 715h3v1h-3zM436 695h3v1h-3zM538 695h3v1h-3zM1018 695h3v1h-3zM41 679h2v1h-2zM197 679h3v1h-3zM215 679h3v1h-3zM448 697h3v1h-3zM454 697h3v1h-3zM460 697h3v1h-3zM466 697h3v1h-3zM472 697h3v1h-3zM514 697h3v1h-3zM520 697h3v1h-3zM1000 697h3v1h-3zM1030 697h3v1h-3zM1036 697h2v1h-2zM322 604h3v1h-3zM334 604h2v1h-2zM916 705h3v1h-3zM305 609h2v1h-2zM120 660h2v1h-2zM246 660h2v1h-2zM653 660h2v1h-2zM78 678h2v1h-2zM192 678h2v1h-2zM604 678h3v1h-3zM1066 700h3v1h-3zM1072 700h3v1h-3zM851 717h2v1h-2zM875 717h2v1h-2zM316 605h2v1h-2zM1144 689h3v1h-3zM1240 734h3v1h-3zM544 694h3v1h-3zM1096 694h3v1h-3zM1157 694h2v1h-2zM928 703h3v1h-3zM934 703h3v1h-3zM940 703h3v1h-3zM946 703h3v1h-3zM952 703h3v1h-3zM185 675h2v1h-2zM616 675h3v1h-3zM1204 730h2v1h-2zM221 677h2v1h-2zM610 677h2v1h-2zM54 683h2v1h-2zM59 683h3v1h-3zM65 683h2v1h-2zM587 683h2v1h-2zM113 663h2v1h-2zM155 663h3v1h-3zM647 663h2v1h-2zM695 635h2v1h-2zM749 635h2v1h-2zM1264 727h3v1h-3zM856 719h3v1h-3zM1378 719h3v1h-3zM1384 719h2v1h-2zM126 659h2v1h-2zM131 659h3v1h-3zM137 659h3v1h-3zM143 659h3v1h-3zM48 682h2v1h-2zM718 627h3v1h-3zM724 627h2v1h-2zM958 702h3v1h-3zM964 702h2v1h-2zM72 680h2v1h-2zM203 680h3v1h-3zM209 680h3v1h-3zM412 680h2v1h-2zM598 680h2v1h-2zM658 657h2v1h-2zM431 693h2v1h-2zM550 693h2v1h-2zM904 708h3v1h-3zM346 610h2v1h-2zM826 701h2v1h-2zM970 701h2v1h-2zM766 647h2v1h-2zM23 669h2v1h-2zM234 669h2v1h-2zM635 669h2v1h-2zM107 665h3v1h-3zM161 665h2v1h-2zM311 606h2v1h-2zM341 607h2v1h-2zM150 661h2v1h-2zM1222 736h3v1h-3zM1228 736h3v1h-3zM1234 736h2v1h-2zM1102 692h2v1h-2zM845 714h2v1h-2zM886 714h2v1h-2zM95 671h2v1h-2zM628 671h3v1h-3zM298 614h2v1h-2zM425 690h2v1h-2zM562 690h2v1h-2zM1114 690h2v1h-2zM568 688h3v1h-3zM1120 688h3v1h-3zM1180 713h2v1h-2zM592 681h3v1h-3zM670 649h2v1h-2zM1252 732h2v1h-2zM1276 724h2v1h-2zM922 704h3v1h-3zM101 668h2v1h-2zM168 668h2v1h-2zM228 673h2v1h-2zM622 673h2v1h-2zM707 630h2v1h-2zM736 630h3v1h-3zM892 712h3v1h-3zM772 651h2v1h-2zM754 638h2v1h-2zM838 710h2v1h-2zM899 710h2v1h-2zM328 603h3v1h-3zM1259 729h2v1h-2zM1199 728h2v1h-2zM742 632h2v1h-2zM1216 735h3v1h-3zM700 633h2v1h-2zM677 645h2v1h-2zM683 642h2v1h-2zM1270 726h2v1h-2zM119 661h1v1h-1zM612 676h1v1h-1zM365 627h1v2h-1zM834 707h1v1h-1zM370 633h1v1h-1zM47 681h1v1h-1zM271 639h1v1h-1zM364 626h1v1h-1zM634 670h1v1h-1zM840 711h1v1h-1zM1272 725h1v1h-1zM706 631h1v1h-1zM167 667h1v1h-1zM640 667h1v1h-1zM406 674h1v1h-1zM784 660h1v1h-1zM424 689h1v1h-1zM1169 703h1v1h-1zM360 622h1v1h-1zM376 640h1v1h-1zM270 640h1v1h-1zM1110 690h1v1h-1zM797 672h1v1h-1zM1170 704h1v1h-1zM785 661h1v1h-1zM1193 724h1v1h-1zM371 634h1v1h-1zM828 702h1v1h-1zM269 641h1v1h-1zM1152 692h1v1h-1zM600 679h1v1h-1zM844 713h1v1h-1zM510 697h1v1h-1zM407 675h1v1h-1zM802 677h1v1h-1zM304 610h1v1h-1zM125 660h1v1h-1zM1062 700h1v1h-1zM245 661h1v1h-1zM808 683h1v1h-1zM336 605h1v1h-1zM408 676h1v1h-1zM1116 689h1v1h-1zM779 656h1v1h-1zM402 669h1v1h-1zM223 676h1v1h-1zM294 617h1v1h-1zM756 639h1v1h-1zM358 620h1v1h-1zM310 607h1v1h-1zM354 616h1v1h-1zM1168 702h1v1h-1zM1350 721h1v1h-1zM380 644h1v1h-1zM690 638h1v1h-1zM293 618h1v1h-1zM282 627h1v1h-1zM682 643h1v1h-1zM17 665h1v1h-1zM809 684h1v1h-1zM912 706h1v1h-1zM77 679h1v1h-1zM37 677h1v1h-1zM1192 723h1v1h-1zM1206 731h1v1h-1zM586 684h1v1h-1zM1198 727h1v1h-1zM815 690h1v1h-1zM990 698h1v1h-1zM359 621h1v1h-1zM281 628h1v1h-1zM187 676h1v1h-1zM810 685h1v1h-1zM534 695h1v1h-1zM1140 688h1v1h-1zM348 611h1v1h-1zM1162 697h1v1h-1zM1156 693h1v1h-1zM816 691h1v1h-1zM5 656h1v1h-1zM277 633h1v1h-1zM11 660h1v1h-1zM163 666h1v1h-1zM778 655h1v1h-1zM1163 698h1v1h-1zM115 662h1v1h-1zM390 656h1v1h-1zM821 696h1v1h-1zM1194 725h1v1h-1zM1187 719h1v1h-1zM646 664h1v1h-1zM870 719h1v1h-1zM790 665h1v1h-1zM391 657h1v1h-1zM664 654h1v1h-1zM149 660h1v1h-1zM898 711h1v1h-1zM385 650h1v1h-1zM67 682h1v1h-1zM1 654h1v1h-1zM676 646h1v1h-1zM381 645h1v2h-1zM624 672h1v1h-1zM397 663h1v2h-1zM850 716h1v1h-1zM7 658h1v1h-1zM264 646h1v1h-1zM265 645h1v1h-1zM660 656h1v1h-1zM780 657h1v1h-1zM403 670h1v1h-1zM1188 720h1v1h-1zM97 670h1v1h-1zM791 666h1v1h-1zM420 686h1v1h-1zM966 701h1v1h-1zM672 648h1v1h-1zM252 656h1v1h-1zM287 623h1v1h-1zM253 655h1v1h-1zM288 622h1v1h-1zM258 651h1v1h-1zM761 643h1v1h-1zM814 689h1v1h-1zM748 634h1v1h-1zM233 670h1v1h-1zM688 640h1v1h-1zM71 681h1v1h-1zM689 639h1v1h-1zM820 695h1v1h-1zM318 604h1v1h-1zM286 624h1v1h-1zM774 652h1v1h-1zM762 644h1v1h-1zM276 634h1v1h-1zM30 673h1v1h-1zM832 705h1v1h-1zM1104 691h1v1h-1zM6 657h1v1h-1zM888 713h1v1h-1zM401 668h1v1h-1zM1186 718h1v1h-1zM1326 722h1v1h-1zM340 606h1v1h-1zM12 661h1v1h-1zM31 674h1v1h-1zM275 635h1v1h-1zM430 692h1v1h-1zM374 638h1v1h-1zM1164 699h1v1h-1zM1182 714h1v1h-1zM1175 708h1v1h-1zM91 673h1v1h-1zM181 673h1v1h-1zM0 653h1v1h-1zM173 669h1v1h-1zM822 697h1v1h-1zM396 662h1v1h-1zM1374 719h1v1h-1zM833 706h1v1h-1zM25 670h1v1h-1zM652 661h1v1h-1zM392 658h1v1h-1zM386 651h1v1h-1zM726 628h1v1h-1zM259 650h1v1h-1zM552 692h1v1h-1zM1090 697h1v1h-1zM53 682h1v1h-1zM1210 732h1v1h-1zM760 642h1v1h-1zM387 652h1v1h-1zM796 671h1v1h-1zM191 677h1v1h-1zM744 633h1v1h-1zM576 686h1v1h-1zM257 652h1v1h-1zM292 619h1v1h-1zM263 647h1v1h-1zM1014 695h1v1h-1zM792 667h1v1h-1zM1278 723h1v1h-1zM103 667h1v1h-1zM43 680h1v1h-1zM1254 731h1v1h-1zM874 718h1v1h-1zM29 672h1v1h-1zM1038 698h1v1h-1zM1236 735h1v1h-1zM666 652h1v1h-1zM280 629h1v1h-1zM768 648h1v1h-1zM251 657h1v1h-1zM414 681h1v1h-1zM665 653h1v1h-1zM300 613h1v1h-1zM352 614h1v1h-1zM786 662h1v1h-1zM803 678h1v1h-1zM972 700h1v1h-1zM240 665h1v1h-1zM798 673h1v1h-1zM241 664h1v1h-1zM702 632h1v1h-1zM227 674h1v1h-1zM564 689h1v1h-1zM1174 707h1v1h-1zM353 615h1v1h-1zM804 679h1v1h-1zM1258 730h1v1h-1zM239 666h1v1h-1zM13 662h1v1h-1zM694 636h1v1h-1zM375 639h1v1h-1zM369 632h1v1h-1zM732 629h1v1h-1zM864 721h1v1h-1zM1176 709h1v1h-1z"/>
<text x="-9" y="593" font-size="10" fill="#000" font-family="Liberation Sans, sans-serif" textLength="152" lengthAdjust="spacingAndGlyphs" stroke="#000" stroke-width="0.25">MACD(12,26,9) -0.001135 -0.000836</text>
<g shape-rendering="crispEdges">
<rect x="1645" y="582" width="1" height="1" fill="#000"/>
<rect x="1645" y="692" width="1" height="1" fill="#000"/>
<rect x="1645" y="749" width="1" height="1" fill="#000"/>
</g>
<text x="1648" y="591" font-size="10" fill="#000" font-family="Liberation Sans, sans-serif" textLength="38" lengthAdjust="spacingAndGlyphs" stroke="#000" stroke-width="0.25">0.003478</text>
<text x="1648" y="696" font-size="10" fill="#000" font-family="Liberation Sans, sans-serif" textLength="18" lengthAdjust="spacingAndGlyphs" stroke="#000" stroke-width="0.25">0.00</text>
<text x="1648" y="747" font-size="10" fill="#000" font-family="Liberation Sans, sans-serif" textLength="40.6" lengthAdjust="spacingAndGlyphs" stroke="#000" stroke-width="0.25">-0.001804</text>
<g shape-rendering="crispEdges" stroke="#c0c0c0" stroke-width="1" stroke-dasharray="3 3">
<line x1="0" y1="788.5" x2="1644" y2="788.5"/>
<line x1="0" y1="839.5" x2="1644" y2="839.5"/>
<line x1="0" y1="900.5" x2="1644" y2="900.5"/>
</g>
<path fill="#1e90ff" shape-rendering="crispEdges" d="M462 846h5v1h-5zM489 846h3v1h-3zM901 846h2v1h-2zM912 846h3v1h-3zM358 854h2v1h-2zM822 854h6v1h-6zM927 854h3v1h-3zM1186 854h2v1h-2zM895 847h2v1h-2zM899 847h2v1h-2zM915 847h2v1h-2zM1032 847h2v1h-2zM1217 847h5v1h-5zM1268 847h2v1h-2zM121 841h2v1h-2zM147 841h3v1h-3zM450 841h2v1h-2zM478 841h4v1h-4zM507 841h2v1h-2zM520 841h2v1h-2zM739 841h3v1h-3zM849 841h2v1h-2zM1001 841h2v1h-2zM1046 841h2v1h-2zM1054 841h8v1h-8zM1249 841h2v1h-2zM32 837h3v1h-3zM129 837h5v1h-5zM139 837h2v1h-2zM182 837h8v1h-8zM443 837h2v1h-2zM566 837h4v1h-4zM769 837h2v1h-2zM860 837h4v1h-4zM941 837h2v1h-2zM1071 837h2v1h-2zM1345 837h2v1h-2zM835 851h3v1h-3zM922 851h2v1h-2zM991 851h2v1h-2zM1190 851h2v1h-2zM1273 851h5v1h-5zM1283 851h2v1h-2zM2 849h2v1h-2zM840 849h2v1h-2zM919 849h2v1h-2zM988 849h2v1h-2zM1027 849h3v1h-3zM1287 849h2v1h-2zM266 792h2v1h-2zM281 792h5v1h-5zM291 792h2v1h-2zM123 840h2v1h-2zM145 840h2v1h-2zM509 840h2v1h-2zM518 840h2v1h-2zM737 840h2v1h-2zM775 840h2v1h-2zM851 840h3v1h-3zM1003 840h3v1h-3zM1043 840h3v1h-3zM1062 840h5v1h-5zM1251 840h2v1h-2zM1260 840h2v1h-2zM539 814h3v1h-3zM127 838h2v1h-2zM141 838h2v1h-2zM169 838h13v1h-13zM445 838h2v1h-2zM513 838h2v1h-2zM553 838h13v1h-13zM771 838h2v1h-2zM856 838h4v1h-4zM939 838h2v1h-2zM1008 838h2v1h-2zM1069 838h2v1h-2zM1255 838h2v1h-2zM4 850h2v1h-2zM838 850h2v1h-2zM1017 850h10v1h-10zM1285 850h2v1h-2zM424 831h6v1h-6zM721 831h5v1h-5zM961 831h2v1h-2zM1105 831h5v1h-5zM39 834h2v1h-2zM437 834h2v1h-2zM956 834h2v1h-2zM1351 834h2v1h-2zM1355 834h3v1h-3zM150 842h2v1h-2zM452 842h2v1h-2zM473 842h5v1h-5zM482 842h2v1h-2zM504 842h3v1h-3zM742 842h2v1h-2zM750 842h5v1h-5zM1048 842h6v1h-6zM1338 842h2v1h-2zM793 868h3v1h-3zM1137 868h2v1h-2zM1152 868h2v1h-2zM46 832h4v1h-4zM420 832h4v1h-4zM430 832h5v1h-5zM959 832h2v1h-2zM1110 832h4v1h-4zM214 809h4v1h-4zM455 844h2v1h-2zM469 844h2v1h-2zM496 844h4v1h-4zM758 844h2v1h-2zM890 844h2v1h-2zM905 844h3v1h-3zM1332 844h4v1h-4zM160 853h2v1h-2zM355 853h3v1h-3zM828 853h4v1h-4zM25 835h3v1h-3zM37 835h2v1h-2zM439 835h2v1h-2zM945 835h5v1h-5zM954 835h2v1h-2zM1349 835h2v1h-2zM1358 835h2v1h-2zM244 807h4v1h-4zM251 807h2v1h-2zM678 807h4v1h-4zM395 857h3v1h-3zM1179 857h3v1h-3zM1201 857h3v1h-3zM7 852h2v1h-2zM353 852h2v1h-2zM832 852h3v1h-3zM924 852h2v1h-2zM1238 852h2v1h-2zM1278 852h5v1h-5zM73 821h3v1h-3zM95 821h2v1h-2zM604 821h2v1h-2zM1081 821h3v1h-3zM105 827h2v1h-2zM709 827h2v1h-2zM295 794h2v1h-2zM655 794h2v1h-2zM658 794h2v1h-2zM28 836h4v1h-4zM35 836h2v1h-2zM134 836h5v1h-5zM190 836h4v1h-4zM441 836h2v1h-2zM864 836h2v1h-2zM943 836h2v1h-2zM950 836h4v1h-4zM1347 836h2v1h-2zM1360 836h2v1h-2zM537 813h2v1h-2zM786 864h2v1h-2zM78 818h2v1h-2zM88 818h3v1h-3zM609 818h11v1h-11zM640 818h2v1h-2zM398 858h2v1h-2zM406 858h4v1h-4zM1177 858h2v1h-2zM457 845h5v1h-5zM467 845h2v1h-2zM487 845h2v1h-2zM492 845h4v1h-4zM760 845h2v1h-2zM892 845h2v1h-2zM903 845h2v1h-2zM908 845h4v1h-4zM1321 845h11v1h-11zM81 816h3v1h-3zM544 816h2v1h-2zM624 816h6v1h-6zM635 816h3v1h-3zM0 848h2v1h-2zM897 848h2v1h-2zM917 848h2v1h-2zM986 848h2v1h-2zM1030 848h2v1h-2zM1222 848h4v1h-4zM650 797h2v1h-2zM662 797h2v1h-2zM91 819h2v1h-2zM607 819h2v1h-2zM1088 819h10v1h-10zM20 839h2v1h-2zM125 839h2v1h-2zM143 839h2v1h-2zM447 839h2v1h-2zM511 839h2v1h-2zM515 839h3v1h-3zM773 839h2v1h-2zM854 839h2v1h-2zM937 839h2v1h-2zM1006 839h2v1h-2zM1041 839h2v1h-2zM1067 839h2v1h-2zM1253 839h2v1h-2zM1342 839h2v1h-2zM1142 866h2v1h-2zM1147 866h3v1h-3zM1306 866h2v1h-2zM100 824h2v1h-2zM112 824h2v1h-2zM152 843h2v1h-2zM471 843h2v1h-2zM484 843h2v1h-2zM500 843h4v1h-4zM744 843h6v1h-6zM755 843h3v1h-3zM1336 843h2v1h-2zM98 823h2v1h-2zM726 830h4v1h-4zM963 830h3v1h-3zM220 806h2v1h-2zM241 806h3v1h-3zM253 806h2v1h-2zM791 867h2v1h-2zM804 867h2v1h-2zM1139 867h3v1h-3zM1150 867h2v1h-2zM1308 867h2v1h-2zM255 805h2v1h-2zM602 822h2v1h-2zM41 833h5v1h-5zM417 833h3v1h-3zM435 833h2v1h-2zM1353 833h2v1h-2zM268 791h2v1h-2zM279 791h2v1h-2zM286 791h5v1h-5zM103 826h2v1h-2zM107 826h3v1h-3zM711 826h2v1h-2zM714 826h2v1h-2zM542 815h2v1h-2zM630 815h5v1h-5zM225 802h3v1h-3zM1375 862h2v1h-2zM232 800h2v1h-2zM1377 863h9v1h-9zM110 825h2v1h-2zM598 825h2v1h-2zM318 829h20v1h-20zM705 829h2v1h-2zM718 829h2v1h-2zM966 829h2v1h-2zM313 828h5v1h-5zM594 828h2v1h-2zM707 828h2v1h-2zM968 828h2v1h-2zM400 859h6v1h-6zM1369 859h2v1h-2zM238 804h2v1h-2zM684 804h2v1h-2zM800 870h2v1h-2zM277 790h2v1h-2zM652 796h2v1h-2zM1371 860h2v1h-2zM1300 861h2v1h-2zM1373 861h2v1h-2zM293 793h2v1h-2zM796 869h4v1h-4zM1311 869h3v1h-3zM788 865h2v1h-2zM1144 865h3v1h-3zM228 801h4v1h-4zM234 801h2v1h-2zM84 817h4v1h-4zM620 817h4v1h-4zM638 817h2v1h-2zM248 808h3v1h-3zM673 808h5v1h-5zM1164 879h4v1h-4zM360 855h6v1h-6zM374 855h4v1h-4zM817 855h5v1h-5zM1184 855h2v1h-2zM1208 855h2v1h-2zM1234 855h2v1h-2zM366 856h8v1h-8zM393 856h2v1h-2zM1182 856h2v1h-2zM1204 856h4v1h-4zM209 810h5v1h-5zM93 820h2v1h-2zM1084 820h4v1h-4zM1161 878h3v1h-3zM271 789h2v1h-2zM275 789h2v1h-2zM273 788h2v1h-2zM1168 880h2v1h-2zM784 859h1v3h-1zM155 846h1v1h-1zM576 830h1v1h-1zM553 837h1v1h-1zM1130 858h1v2h-1zM1172 871h1v3h-1zM378 854h1v1h-1zM72 819h1v2h-1zM389 850h1v2h-1zM933 846h1v2h-1zM56 821h1v2h-1zM97 822h1v1h-1zM297 795h1v2h-1zM1366 849h1v3h-1zM1134 864h1v1h-1zM258 802h1v2h-1zM592 828h1v1h-1zM781 851h1v3h-1zM982 843h1v1h-1zM413 844h1v4h-1zM550 829h1v3h-1zM310 822h1v2h-1zM531 827h1v3h-1zM208 811h1v2h-1zM688 801h1v1h-1zM1035 845h1v1h-1zM1012 842h1v2h-1zM60 812h1v3h-1zM869 830h1v2h-1zM1362 838h1v3h-1zM1119 844h1v2h-1zM921 850h1v1h-1zM116 830h1v2h-1zM52 827h1v2h-1zM732 834h1v1h-1zM1122 849h1v1h-1zM777 841h1v2h-1zM1016 848h1v2h-1zM546 818h1v3h-1zM223 804h1v1h-1zM117 832h1v2h-1zM686 803h1v1h-1zM1115 836h1v2h-1zM1123 850h1v1h-1zM348 843h1v2h-1zM530 830h1v2h-1zM299 799h1v2h-1zM1237 853h1v1h-1zM381 850h1v1h-1zM1133 862h1v2h-1zM1210 854h1v1h-1zM416 835h1v3h-1zM591 827h1v1h-1zM645 807h1v3h-1zM583 823h1v1h-1zM63 805h1v2h-1zM1077 828h1v2h-1zM1176 860h1v3h-1zM783 857h1v2h-1zM154 844h1v2h-1zM9 853h1v1h-1zM552 834h1v3h-1zM261 798h1v2h-1zM1297 858h1v1h-1zM522 840h1v1h-1zM199 824h1v2h-1zM993 852h1v1h-1zM1159 875h1v2h-1zM713 825h1v1h-1zM1320 847h1v3h-1zM872 826h1v2h-1zM664 798h1v1h-1zM580 826h1v1h-1zM306 814h1v2h-1zM883 836h1v1h-1zM70 813h1v3h-1zM644 810h1v2h-1zM119 836h1v2h-1zM1175 863h1v2h-1zM571 835h1v1h-1zM1262 841h1v1h-1zM1195 851h1v1h-1zM731 832h1v2h-1zM606 820h1v1h-1zM814 858h1v1h-1zM1232 855h1v1h-1zM1118 842h1v2h-1zM845 845h1v1h-1zM115 828h1v2h-1zM1263 842h1v1h-1zM1244 847h1v1h-1zM1319 850h1v3h-1zM649 798h1v2h-1zM1296 857h1v1h-1zM344 837h1v1h-1zM537 814h1v1h-1zM168 839h1v2h-1zM12 849h1v1h-1zM157 848h1v2h-1zM974 833h1v1h-1zM298 797h1v2h-1zM204 817h1v1h-1zM894 846h1v1h-1zM392 854h1v2h-1zM660 795h1v1h-1zM981 841h1v2h-1zM449 840h1v1h-1zM415 838h1v3h-1zM1193 849h1v1h-1zM164 847h1v2h-1zM848 842h1v1h-1zM985 847h1v1h-1zM1194 850h1v1h-1zM526 836h1v1h-1zM118 834h1v2h-1zM1100 823h1v2h-1zM1171 874h1v2h-1zM1247 843h1v1h-1zM67 805h1v3h-1zM24 836h1v1h-1zM1011 841h1v1h-1zM932 848h1v2h-1zM55 823h1v1h-1zM1114 834h1v2h-1zM548 823h1v3h-1zM1117 840h1v2h-1zM1125 852h1v2h-1zM343 836h1v1h-1zM1200 856h1v1h-1zM351 848h1v2h-1zM384 846h1v1h-1zM50 830h1v2h-1zM875 827h1v1h-1zM973 832h1v1h-1zM198 826h1v2h-1zM1361 837h1v1h-1zM575 831h1v1h-1zM207 813h1v1h-1zM73 822h1v1h-1zM156 847h1v1h-1zM1037 843h1v1h-1zM1174 865h1v3h-1zM545 817h1v1h-1zM1080 822h1v2h-1zM1132 861h1v1h-1zM1170 876h1v3h-1zM809 863h1v1h-1zM1258 838h1v1h-1zM264 794h1v2h-1zM704 827h1v2h-1zM551 832h1v2h-1zM1155 870h1v2h-1zM391 853h1v1h-1zM1136 866h1v2h-1zM1365 847h1v2h-1zM309 820h1v2h-1zM866 834h1v2h-1zM529 832h1v2h-1zM1034 846h1v1h-1zM780 848h1v3h-1zM730 831h1v1h-1zM764 842h1v1h-1zM1315 863h1v3h-1zM62 807h1v3h-1zM886 840h1v1h-1zM1212 852h1v1h-1zM305 811h1v3h-1zM1076 830h1v2h-1zM218 808h1v1h-1zM1099 822h1v1h-1zM1015 847h1v1h-1zM222 805h1v1h-1zM586 822h1v1h-1zM1113 833h1v1h-1zM347 841h1v2h-1zM414 841h1v3h-1zM643 812h1v3h-1zM350 846h1v2h-1zM843 847h1v1h-1zM163 849h1v2h-1zM77 819h1v1h-1zM582 824h1v1h-1zM1295 855h1v2h-1zM1314 866h1v3h-1zM61 810h1v2h-1zM411 851h1v3h-1zM1075 832h1v2h-1zM958 833h1v1h-1zM260 800h1v1h-1zM878 831h1v1h-1zM782 854h1v3h-1zM533 822h1v3h-1zM703 825h1v2h-1zM205 815h1v2h-1zM984 845h1v2h-1zM1173 868h1v3h-1zM1227 850h1v1h-1zM536 815h1v2h-1zM236 802h1v1h-1zM1364 844h1v3h-1zM308 818h1v2h-1zM1302 862h1v1h-1zM885 838h1v2h-1zM570 836h1v1h-1zM410 854h1v3h-1zM383 847h1v2h-1zM237 803h1v1h-1zM1098 820h1v2h-1zM666 800h1v1h-1zM1303 863h1v1h-1zM352 850h1v2h-1zM585 821h1v1h-1zM1014 845h1v2h-1zM1079 824h1v2h-1zM970 829h1v1h-1zM114 826h1v2h-1zM11 850h1v1h-1zM1341 840h1v1h-1zM547 821h1v2h-1zM346 839h1v2h-1zM66 803h1v2h-1zM1124 851h1v1h-1zM995 849h1v1h-1zM816 856h1v1h-1zM1188 853h1v1h-1zM528 834h1v1h-1zM926 853h1v1h-1zM1154 869h1v1h-1zM1135 865h1v1h-1zM593 829h1v1h-1zM847 843h1v1h-1zM19 840h1v1h-1zM197 828h1v2h-1zM1317 856h1v4h-1zM790 866h1v1h-1zM597 826h1v1h-1zM700 819h1v2h-1zM577 829h1v1h-1zM307 816h1v2h-1zM167 841h1v2h-1zM1246 844h1v1h-1zM733 835h1v1h-1zM642 815h1v2h-1zM1102 826h1v2h-1zM68 808h1v3h-1zM1196 852h1v1h-1zM696 812h1v2h-1zM14 846h1v1h-1zM380 851h1v1h-1zM113 825h1v1h-1zM349 845h1v1h-1zM270 790h1v1h-1zM1264 843h1v1h-1zM58 817h1v2h-1zM1241 850h1v1h-1zM647 802h1v3h-1zM877 829h1v2h-1zM535 817h1v3h-1zM345 838h1v1h-1zM1265 844h1v1h-1zM263 796h1v1h-1zM201 821h1v1h-1zM158 850h1v1h-1zM975 834h1v1h-1zM1298 859h1v1h-1zM1192 850h1v1h-1zM661 796h1v1h-1zM1318 853h1v3h-1zM159 851h1v1h-1zM976 835h1v1h-1zM1299 860h1v1h-1zM884 837h1v1h-1zM162 851h1v2h-1zM1313 870h1v1h-1zM811 861h1v1h-1zM1074 834h1v2h-1zM699 817h1v2h-1zM6 851h1v1h-1zM523 839h1v1h-1zM304 809h1v2h-1zM1039 841h1v1h-1zM692 805h1v2h-1zM1101 825h1v1h-1zM669 803h1v2h-1zM1120 846h1v2h-1zM785 862h1v2h-1zM1321 846h1v1h-1zM454 843h1v1h-1zM65 801h1v2h-1zM1291 850h1v2h-1zM736 839h1v1h-1zM766 840h1v1h-1zM998 845h1v1h-1zM808 864h1v1h-1zM990 850h1v1h-1zM196 830h1v2h-1zM1316 860h1v3h-1zM876 828h1v1h-1zM71 816h1v3h-1zM1127 855h1v1h-1zM1214 850h1v1h-1zM166 843h1v2h-1zM386 846h1v2h-1zM702 823h1v2h-1zM641 817h1v1h-1zM1259 839h1v1h-1zM224 803h1v1h-1zM10 851h1v2h-1zM549 826h1v3h-1zM412 848h1v3h-1zM1271 849h1v1h-1zM1363 841h1v3h-1zM1229 852h1v1h-1zM1104 829h1v2h-1zM584 822h1v1h-1zM695 810h1v2h-1zM1304 864h1v1h-1zM17 842h1v1h-1zM778 843h1v3h-1zM842 848h1v1h-1zM1126 854h1v1h-1zM657 793h1v1h-1zM303 807h1v2h-1zM691 803h1v2h-1zM1305 865h1v1h-1zM1340 841h1v1h-1zM587 823h1v1h-1zM1036 844h1v1h-1zM1290 849h1v1h-1zM815 857h1v1h-1zM588 824h1v1h-1zM683 805h1v1h-1zM59 815h1v2h-1zM802 869h1v1h-1zM161 854h1v1h-1zM978 837h1v2h-1zM687 802h1v1h-1zM1156 872h1v1h-1zM648 800h1v2h-1zM382 849h1v1h-1zM979 839h1v1h-1zM385 845h1v1h-1zM701 821h1v2h-1zM1157 873h1v1h-1zM1078 826h1v2h-1zM887 841h1v1h-1zM534 820h1v2h-1zM64 803h1v2h-1zM200 822h1v2h-1zM1289 848h1v1h-1zM735 837h1v2h-1zM997 846h1v2h-1zM694 808h1v2h-1zM667 801h1v1h-1zM698 815h1v2h-1zM1368 855h1v3h-1zM257 804h1v1h-1zM668 802h1v1h-1zM527 835h1v1h-1zM572 834h1v1h-1zM165 845h1v2h-1zM971 830h1v1h-1zM720 830h1v1h-1zM1369 858h1v1h-1zM868 832h1v1h-1zM879 832h1v1h-1zM871 828h1v1h-1zM806 866h1v1h-1zM51 829h1v1h-1zM1267 846h1v1h-1zM1248 842h1v1h-1zM880 833h1v1h-1zM160 852h1v1h-1zM1270 848h1v1h-1zM936 840h1v2h-1zM1228 851h1v1h-1zM13 847h1v2h-1zM16 843h1v2h-1zM1000 842h1v2h-1zM1243 848h1v1h-1zM195 832h1v2h-1zM302 805h1v2h-1zM690 801h1v2h-1zM734 836h1v1h-1zM1236 854h1v1h-1zM1103 828h1v1h-1zM265 793h1v1h-1zM765 841h1v1h-1zM203 818h1v1h-1zM1266 845h1v1h-1zM1198 854h1v1h-1zM579 827h1v1h-1zM1293 853h1v1h-1zM813 859h1v1h-1zM931 850h1v2h-1zM1129 857h1v1h-1zM54 824h1v2h-1zM525 837h1v1h-1zM23 837h1v1h-1zM601 823h1v1h-1zM1038 842h1v1h-1zM768 838h1v1h-1zM779 846h1v2h-1zM1216 848h1v1h-1zM1073 836h1v1h-1zM810 862h1v1h-1zM697 814h1v1h-1zM339 831h1v1h-1zM1197 853h1v1h-1zM716 827h1v1h-1zM206 814h1v1h-1zM532 825h1v2h-1zM1240 851h1v1h-1zM1292 852h1v1h-1zM693 807h1v1h-1zM670 805h1v1h-1zM219 807h1v1h-1zM1213 851h1v1h-1zM671 806h1v1h-1zM682 806h1v1h-1zM935 842h1v2h-1zM977 836h1v1h-1zM590 826h1v1h-1zM194 834h1v2h-1zM312 826h1v2h-1zM844 846h1v1h-1zM1158 874h1v1h-1zM574 832h1v1h-1zM388 849h1v1h-1zM338 830h1v1h-1zM1121 848h1v1h-1zM76 820h1v1h-1zM301 803h1v2h-1zM689 800h1v1h-1zM1231 854h1v1h-1zM80 817h1v1h-1zM1169 879h1v1h-1zM1367 852h1v3h-1zM930 852h1v2h-1zM1128 856h1v1h-1zM867 833h1v1h-1zM763 843h1v1h-1zM589 825h1v1h-1zM387 848h1v1h-1zM379 852h1v2h-1zM1310 868h1v1h-1zM57 819h1v2h-1zM202 819h1v2h-1zM646 805h1v2h-1zM996 848h1v1h-1zM999 844h1v1h-1zM882 835h1v1h-1zM980 840h1v1h-1zM1272 850h1v1h-1zM486 844h1v1h-1zM69 811h1v2h-1zM1189 852h1v1h-1zM1230 853h1v1h-1zM994 850h1v2h-1zM888 842h1v1h-1zM889 843h1v1h-1zM870 829h1v1h-1zM300 801h1v2h-1zM578 828h1v1h-1zM874 826h1v1h-1zM15 845h1v1h-1zM18 841h1v1h-1zM1245 845h1v2h-1zM812 860h1v1h-1zM596 827h1v1h-1zM1211 853h1v1h-1zM417 834h1v1h-1zM311 824h1v2h-1zM1242 849h1v1h-1zM409 857h1v1h-1zM881 834h1v1h-1zM767 839h1v1h-1zM390 852h1v1h-1zM120 838h1v2h-1zM934 844h1v2h-1zM581 825h1v1h-1zM1344 838h1v1h-1zM1177 859h1v1h-1zM341 833h1v2h-1zM121 840h1v1h-1zM1010 839h1v2h-1zM259 801h1v1h-1zM262 797h1v1h-1zM1116 838h1v2h-1zM342 835h1v1h-1zM846 844h1v1h-1zM972 831h1v1h-1zM240 805h1v1h-1zM873 825h1v1h-1zM53 826h1v1h-1zM524 838h1v1h-1zM1040 840h1v1h-1zM1131 860h1v1h-1zM22 838h1v1h-1zM654 795h1v1h-1zM600 824h1v1h-1zM573 833h1v1h-1zM1160 877h1v1h-1zM1257 837h1v1h-1zM803 868h1v1h-1zM929 855h1v1h-1zM983 844h1v1h-1zM1215 849h1v1h-1zM1226 849h1v1h-1zM807 865h1v1h-1zM340 832h1v1h-1zM717 828h1v1h-1zM665 799h1v1h-1zM1199 855h1v1h-1zM1013 844h1v1h-1zM1294 854h1v1h-1zM762 844h1v1h-1zM102 825h1v1h-1zM1233 856h1v1h-1zM672 807h1v1h-1z"/>
<text x="-7" y="765" font-size="10" fill="#000" font-family="Liberation Sans, sans-serif" textLength="64" lengthAdjust="spacingAndGlyphs" stroke="#000" stroke-width="0.25">RSI(14) 35.6452</text>
<g shape-rendering="crispEdges">
<rect x="1645" y="754" width="1" height="1" fill="#000"/>
<rect x="1645" y="788" width="1" height="1" fill="#000"/>
<rect x="1645" y="839" width="1" height="1" fill="#000"/>
<rect x="1645" y="900" width="1" height="1" fill="#000"/>
<rect x="1645" y="919" width="1" height="1" fill="#000"/>
<rect x="1645" y="925" width="1" height="1" fill="#000"/>
</g>
<text x="1648.5" y="763" font-size="10" fill="#000" font-family="Liberation Sans, sans-serif" textLength="13.6" lengthAdjust="spacingAndGlyphs" stroke="#000" stroke-width="0.25">100</text>
<text x="1647.5" y="792" font-size="10" fill="#000" font-family="Liberation Sans, sans-serif" textLength="9.6" lengthAdjust="spacingAndGlyphs" stroke="#000" stroke-width="0.25">80</text>
<text x="1647.5" y="843" font-size="10" fill="#000" font-family="Liberation Sans, sans-serif" textLength="9.6" lengthAdjust="spacingAndGlyphs" stroke="#000" stroke-width="0.25">50</text>
<text x="1647.5" y="904" font-size="10" fill="#000" font-family="Liberation Sans, sans-serif" textLength="9.6" lengthAdjust="spacingAndGlyphs" stroke="#000" stroke-width="0.25">15</text>
<text x="1647.5" y="923" font-size="10" fill="#000" font-family="Liberation Sans, sans-serif" textLength="4.8" lengthAdjust="spacingAndGlyphs" stroke="#000" stroke-width="0.25">0</text>
<g shape-rendering="crispEdges">
<rect x="49" y="927" width="1" height="3" fill="#000"/>
<rect x="113" y="927" width="1" height="3" fill="#000"/>
<rect x="177" y="927" width="1" height="3" fill="#000"/>
<rect x="241" y="927" width="1" height="3" fill="#000"/>
<rect x="305" y="927" width="1" height="3" fill="#000"/>
<rect x="369" y="927" width="1" height="3" fill="#000"/>
<rect x="433" y="927" width="1" height="3" fill="#000"/>
<rect x="497" y="927" width="1" height="3" fill="#000"/>
<rect x="561" y="927" width="1" height="3" fill="#000"/>
<rect x="625" y="927" width="1" height="3" fill="#000"/>
<rect x="689" y="927" width="1" height="3" fill="#000"/>
<rect x="753" y="927" width="1" height="3" fill="#000"/>
<rect x="817" y="927" width="1" height="3" fill="#000"/>
<rect x="881" y="927" width="1" height="3" fill="#000"/>
<rect x="945" y="927" width="1" height="3" fill="#000"/>
<rect x="1009" y="927" width="1" height="3" fill="#000"/>
<rect x="1073" y="927" width="1" height="3" fill="#000"/>
<rect x="1137" y="927" width="1" height="3" fill="#000"/>
<rect x="1201" y="927" width="1" height="3" fill="#000"/>
<rect x="1265" y="927" width="1" height="3" fill="#000"/>
<rect x="1329" y="927" width="1" height="3" fill="#000"/>
</g>
<text x="-15.3" y="939" font-size="10" fill="#000" font-family="Liberation Sans, sans-serif" textLength="45.5" lengthAdjust="spacingAndGlyphs" stroke="#000" stroke-width="0.25">9 Sep 2021</text>
<text x="48.7" y="939" font-size="10" fill="#000" font-family="Liberation Sans, sans-serif" textLength="54" lengthAdjust="spacingAndGlyphs" stroke="#000" stroke-width="0.25">13 Sep 00:00</text>
<text x="112.7" y="939" font-size="10" fill="#000" font-family="Liberation Sans, sans-serif" textLength="54" lengthAdjust="spacingAndGlyphs" stroke="#000" stroke-width="0.25">14 Sep 08:00</text>
<text x="176.7" y="939" font-size="10" fill="#000" font-family="Liberation Sans, sans-serif" textLength="54" lengthAdjust="spacingAndGlyphs" stroke="#000" stroke-width="0.25">15 Sep 16:00</text>
<text x="240.7" y="939" font-size="10" fill="#000" font-family="Liberation Sans, sans-serif" textLength="54" lengthAdjust="spacingAndGlyphs" stroke="#000" stroke-width="0.25">17 Sep 00:00</text>
<text x="304.7" y="939" font-size="10" fill="#000" font-family="Liberation Sans, sans-serif" textLength="54" lengthAdjust="spacingAndGlyphs" stroke="#000" stroke-width="0.25">20 Sep 08:00</text>
<text x="368.7" y="939" font-size="10" fill="#000" font-family="Liberation Sans, sans-serif" textLength="54" lengthAdjust="spacingAndGlyphs" stroke="#000" stroke-width="0.25">21 Sep 16:00</text>
<text x="432.7" y="939" font-size="10" fill="#000" font-family="Liberation Sans, sans-serif" textLength="54" lengthAdjust="spacingAndGlyphs" stroke="#000" stroke-width="0.25">23 Sep 00:00</text>
<text x="496.7" y="939" font-size="10" fill="#000" font-family="Liberation Sans, sans-serif" textLength="54" lengthAdjust="spacingAndGlyphs" stroke="#000" stroke-width="0.25">24 Sep 08:00</text>
<text x="560.7" y="939" font-size="10" fill="#000" font-family="Liberation Sans, sans-serif" textLength="54" lengthAdjust="spacingAndGlyphs" stroke="#000" stroke-width="0.25">27 Sep 16:00</text>
<text x="624.7" y="939" font-size="10" fill="#000" font-family="Liberation Sans, sans-serif" textLength="54" lengthAdjust="spacingAndGlyphs" stroke="#000" stroke-width="0.25">29 Sep 00:00</text>
<text x="688.7" y="939" font-size="10" fill="#000" font-family="Liberation Sans, sans-serif" textLength="54" lengthAdjust="spacingAndGlyphs" stroke="#000" stroke-width="0.25">30 Sep 08:00</text>
<text x="752.7" y="939" font-size="10" fill="#000" font-family="Liberation Sans, sans-serif" textLength="49.5" lengthAdjust="spacingAndGlyphs" stroke="#000" stroke-width="0.25">1 Oct 16:00</text>
<text x="816.7" y="939" font-size="10" fill="#000" font-family="Liberation Sans, sans-serif" textLength="49.5" lengthAdjust="spacingAndGlyphs" stroke="#000" stroke-width="0.25">5 Oct 00:00</text>
<text x="880.7" y="939" font-size="10" fill="#000" font-family="Liberation Sans, sans-serif" textLength="49.5" lengthAdjust="spacingAndGlyphs" stroke="#000" stroke-width="0.25">6 Oct 08:00</text>
<text x="944.7" y="939" font-size="10" fill="#000" font-family="Liberation Sans, sans-serif" textLength="49.5" lengthAdjust="spacingAndGlyphs" stroke="#000" stroke-width="0.25">7 Oct 16:00</text>
<text x="1008.7" y="939" font-size="10" fill="#000" font-family="Liberation Sans, sans-serif" textLength="54" lengthAdjust="spacingAndGlyphs" stroke="#000" stroke-width="0.25">11 Oct 00:00</text>
<text x="1072.7" y="939" font-size="10" fill="#000" font-family="Liberation Sans, sans-serif" textLength="54" lengthAdjust="spacingAndGlyphs" stroke="#000" stroke-width="0.25">12 Oct 08:00</text>
<text x="1136.7" y="939" font-size="10" fill="#000" font-family="Liberation Sans, sans-serif" textLength="54" lengthAdjust="spacingAndGlyphs" stroke="#000" stroke-width="0.25">13 Oct 16:00</text>
<text x="1200.7" y="939" font-size="10" fill="#000" font-family="Liberation Sans, sans-serif" textLength="54" lengthAdjust="spacingAndGlyphs" stroke="#000" stroke-width="0.25">15 Oct 00:00</text>
<text x="1264.7" y="939" font-size="10" fill="#000" font-family="Liberation Sans, sans-serif" textLength="54" lengthAdjust="spacingAndGlyphs" stroke="#000" stroke-width="0.25">18 Oct 08:00</text>
<text x="1328.7" y="939" font-size="10" fill="#000" font-family="Liberation Sans, sans-serif" textLength="54" lengthAdjust="spacingAndGlyphs" stroke="#000" stroke-width="0.25">19 Oct 16:00</text>
<g fill="none" stroke="#ff0000" stroke-width="3.2" shape-rendering="crispEdges">
<line x1="1351" y1="699" x2="1385.5" y2="720.5"/>
<line x1="1338.5" y1="830.8" x2="1385.5" y2="859.5"/>
</g>
<g fill="#ff0000" stroke="none" shape-rendering="crispEdges">
<polygon points="1383.5,714.6 1391.4,724 1389.6,726 1381.5,725.6 1377.6,722.6 1383,720.5"/>
<polygon points="1383.6,853.8 1391.3,862.8 1389.8,865 1384,865 1377.8,861.4 1383.5,859.5"/>
</g>
</svg></body></html>
